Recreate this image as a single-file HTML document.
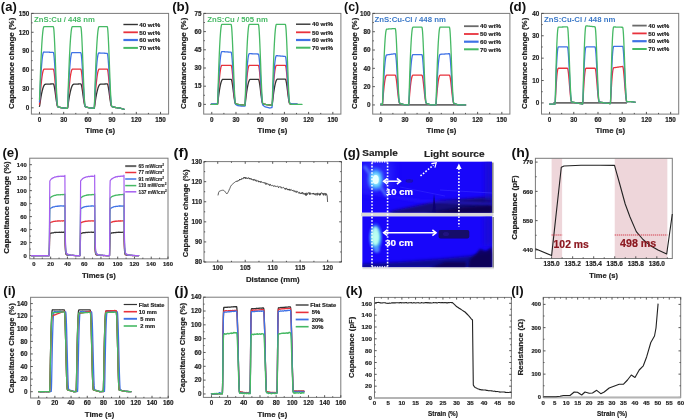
<!DOCTYPE html>
<html><head><meta charset="utf-8"><style>
html,body{margin:0;padding:0;background:#fff;width:685px;height:420px;overflow:hidden}
text{font-family:"Liberation Sans", sans-serif}
</style></head><body>
<svg width="685" height="420" viewBox="0 0 685 420" style="position:absolute;left:0;top:0;will-change:transform;filter:blur(0.4px);font-family:&quot;Liberation Sans&quot;, sans-serif">
<rect width="685" height="420" fill="#fff"/>
<rect x="31.40" y="13.40" width="137.20" height="100.70" fill="none" stroke="#7a7a7a" stroke-width="1"/>
<path d="M39.47 114.10v-2.2M63.68 114.10v-2.2M87.89 114.10v-2.2M112.11 114.10v-2.2M136.32 114.10v-2.2M160.53 114.10v-2.2M51.58 114.10v-1.2M75.79 114.10v-1.2M100.00 114.10v-1.2M124.21 114.10v-1.2M148.42 114.10v-1.2M31.40 107.81h2.2M31.40 88.92h2.2M31.40 70.04h2.2M31.40 51.16h2.2M31.40 32.28h2.2M31.40 13.40h2.2M31.40 98.37h1.2M31.40 79.48h1.2M31.40 60.60h1.2M31.40 41.72h1.2M31.40 22.84h1.2" stroke="#444" stroke-width="0.9" fill="none"/>
<text x="39.47" y="121.60" font-size="6.3" text-anchor="middle" font-weight="bold" fill="#222" stroke="#222" stroke-width="0.18">0</text>
<text x="63.68" y="121.60" font-size="6.3" text-anchor="middle" font-weight="bold" fill="#222" stroke="#222" stroke-width="0.18">30</text>
<text x="87.89" y="121.60" font-size="6.3" text-anchor="middle" font-weight="bold" fill="#222" stroke="#222" stroke-width="0.18">60</text>
<text x="112.11" y="121.60" font-size="6.3" text-anchor="middle" font-weight="bold" fill="#222" stroke="#222" stroke-width="0.18">90</text>
<text x="136.32" y="121.60" font-size="6.3" text-anchor="middle" font-weight="bold" fill="#222" stroke="#222" stroke-width="0.18">120</text>
<text x="160.53" y="121.60" font-size="6.3" text-anchor="middle" font-weight="bold" fill="#222" stroke="#222" stroke-width="0.18">150</text>
<text x="29.20" y="110.07" font-size="6.3" text-anchor="end" font-weight="bold" fill="#222" stroke="#222" stroke-width="0.18">0</text>
<text x="29.20" y="91.19" font-size="6.3" text-anchor="end" font-weight="bold" fill="#222" stroke="#222" stroke-width="0.18">30</text>
<text x="29.20" y="72.31" font-size="6.3" text-anchor="end" font-weight="bold" fill="#222" stroke="#222" stroke-width="0.18">60</text>
<text x="29.20" y="53.43" font-size="6.3" text-anchor="end" font-weight="bold" fill="#222" stroke="#222" stroke-width="0.18">90</text>
<text x="29.20" y="34.55" font-size="6.3" text-anchor="end" font-weight="bold" fill="#222" stroke="#222" stroke-width="0.18">120</text>
<text x="29.20" y="15.67" font-size="6.3" text-anchor="end" font-weight="bold" fill="#222" stroke="#222" stroke-width="0.18">150</text>
<text x="0.85" y="11.20" font-size="13.1" text-anchor="start" font-weight="bold" fill="#111" stroke="#111" stroke-width="0" textLength="15.9" lengthAdjust="spacingAndGlyphs">(a)</text>
<text x="14.30" y="63.30" font-size="7.9" text-anchor="middle" font-weight="bold" fill="#222" stroke="#222" stroke-width="0.18" transform="rotate(-90 14.30 63.30)" textLength="91.2" lengthAdjust="spacingAndGlyphs">Capacitance change (%)</text>
<text x="100.20" y="133.40" font-size="7.8" text-anchor="middle" font-weight="bold" fill="#222" stroke="#222" stroke-width="0.18" textLength="29.8" lengthAdjust="spacingAndGlyphs">Time (s)</text>
<text x="34.10" y="21.70" font-size="7.7" text-anchor="start" font-weight="bold" fill="#46b964" stroke="#46b964" stroke-width="0" textLength="60.7" lengthAdjust="spacingAndGlyphs">ZnS:Cu / 448 nm</text>
<rect x="203.70" y="13.40" width="137.20" height="100.70" fill="none" stroke="#7a7a7a" stroke-width="1"/>
<path d="M211.77 114.10v-2.2M235.98 114.10v-2.2M260.19 114.10v-2.2M284.41 114.10v-2.2M308.62 114.10v-2.2M332.83 114.10v-2.2M223.88 114.10v-1.2M248.09 114.10v-1.2M272.30 114.10v-1.2M296.51 114.10v-1.2M320.72 114.10v-1.2M203.70 104.39h2.2M203.70 86.20h2.2M203.70 68.00h2.2M203.70 49.80h2.2M203.70 31.60h2.2M203.70 13.40h2.2M203.70 95.29h1.2M203.70 77.10h1.2M203.70 58.90h1.2M203.70 40.70h1.2M203.70 22.50h1.2" stroke="#444" stroke-width="0.9" fill="none"/>
<text x="211.77" y="121.60" font-size="6.3" text-anchor="middle" font-weight="bold" fill="#222" stroke="#222" stroke-width="0.18">0</text>
<text x="235.98" y="121.60" font-size="6.3" text-anchor="middle" font-weight="bold" fill="#222" stroke="#222" stroke-width="0.18">30</text>
<text x="260.19" y="121.60" font-size="6.3" text-anchor="middle" font-weight="bold" fill="#222" stroke="#222" stroke-width="0.18">60</text>
<text x="284.41" y="121.60" font-size="6.3" text-anchor="middle" font-weight="bold" fill="#222" stroke="#222" stroke-width="0.18">90</text>
<text x="308.62" y="121.60" font-size="6.3" text-anchor="middle" font-weight="bold" fill="#222" stroke="#222" stroke-width="0.18">120</text>
<text x="332.83" y="121.60" font-size="6.3" text-anchor="middle" font-weight="bold" fill="#222" stroke="#222" stroke-width="0.18">150</text>
<text x="201.50" y="106.66" font-size="6.3" text-anchor="end" font-weight="bold" fill="#222" stroke="#222" stroke-width="0.18">0</text>
<text x="201.50" y="88.46" font-size="6.3" text-anchor="end" font-weight="bold" fill="#222" stroke="#222" stroke-width="0.18">15</text>
<text x="201.50" y="70.26" font-size="6.3" text-anchor="end" font-weight="bold" fill="#222" stroke="#222" stroke-width="0.18">30</text>
<text x="201.50" y="52.07" font-size="6.3" text-anchor="end" font-weight="bold" fill="#222" stroke="#222" stroke-width="0.18">45</text>
<text x="201.50" y="33.87" font-size="6.3" text-anchor="end" font-weight="bold" fill="#222" stroke="#222" stroke-width="0.18">60</text>
<text x="201.50" y="15.67" font-size="6.3" text-anchor="end" font-weight="bold" fill="#222" stroke="#222" stroke-width="0.18">75</text>
<text x="172.15" y="11.20" font-size="13.1" text-anchor="start" font-weight="bold" fill="#111" stroke="#111" stroke-width="0" textLength="17.1" lengthAdjust="spacingAndGlyphs">(b)</text>
<text x="186.00" y="63.30" font-size="7.9" text-anchor="middle" font-weight="bold" fill="#222" stroke="#222" stroke-width="0.18" transform="rotate(-90 186.00 63.30)" textLength="91.2" lengthAdjust="spacingAndGlyphs">Capacitance change (%)</text>
<text x="272.50" y="133.40" font-size="7.8" text-anchor="middle" font-weight="bold" fill="#222" stroke="#222" stroke-width="0.18" textLength="29.8" lengthAdjust="spacingAndGlyphs">Time (s)</text>
<text x="207.20" y="21.70" font-size="7.7" text-anchor="start" font-weight="bold" fill="#46b964" stroke="#46b964" stroke-width="0" textLength="60.8" lengthAdjust="spacingAndGlyphs">ZnS:Cu / 505 nm</text>
<rect x="372.70" y="13.40" width="137.20" height="100.70" fill="none" stroke="#7a7a7a" stroke-width="1"/>
<path d="M380.77 114.10v-2.2M404.98 114.10v-2.2M429.19 114.10v-2.2M453.41 114.10v-2.2M477.62 114.10v-2.2M501.83 114.10v-2.2M392.88 114.10v-1.2M417.09 114.10v-1.2M441.30 114.10v-1.2M465.51 114.10v-1.2M489.72 114.10v-1.2M372.70 104.95h2.2M372.70 86.64h2.2M372.70 68.33h2.2M372.70 50.02h2.2M372.70 31.71h2.2M372.70 13.40h2.2M372.70 95.79h1.2M372.70 77.48h1.2M372.70 59.17h1.2M372.70 40.86h1.2M372.70 22.55h1.2" stroke="#444" stroke-width="0.9" fill="none"/>
<text x="380.77" y="121.60" font-size="6.3" text-anchor="middle" font-weight="bold" fill="#222" stroke="#222" stroke-width="0.18">0</text>
<text x="404.98" y="121.60" font-size="6.3" text-anchor="middle" font-weight="bold" fill="#222" stroke="#222" stroke-width="0.18">30</text>
<text x="429.19" y="121.60" font-size="6.3" text-anchor="middle" font-weight="bold" fill="#222" stroke="#222" stroke-width="0.18">60</text>
<text x="453.41" y="121.60" font-size="6.3" text-anchor="middle" font-weight="bold" fill="#222" stroke="#222" stroke-width="0.18">90</text>
<text x="477.62" y="121.60" font-size="6.3" text-anchor="middle" font-weight="bold" fill="#222" stroke="#222" stroke-width="0.18">120</text>
<text x="501.83" y="121.60" font-size="6.3" text-anchor="middle" font-weight="bold" fill="#222" stroke="#222" stroke-width="0.18">150</text>
<text x="370.50" y="107.21" font-size="6.3" text-anchor="end" font-weight="bold" fill="#222" stroke="#222" stroke-width="0.18">0</text>
<text x="370.50" y="88.90" font-size="6.3" text-anchor="end" font-weight="bold" fill="#222" stroke="#222" stroke-width="0.18">20</text>
<text x="370.50" y="70.60" font-size="6.3" text-anchor="end" font-weight="bold" fill="#222" stroke="#222" stroke-width="0.18">40</text>
<text x="370.50" y="52.29" font-size="6.3" text-anchor="end" font-weight="bold" fill="#222" stroke="#222" stroke-width="0.18">60</text>
<text x="370.50" y="33.98" font-size="6.3" text-anchor="end" font-weight="bold" fill="#222" stroke="#222" stroke-width="0.18">80</text>
<text x="370.50" y="15.67" font-size="6.3" text-anchor="end" font-weight="bold" fill="#222" stroke="#222" stroke-width="0.18">100</text>
<text x="344.05" y="11.20" font-size="13.1" text-anchor="start" font-weight="bold" fill="#111" stroke="#111" stroke-width="0" textLength="15.2" lengthAdjust="spacingAndGlyphs">(c)</text>
<text x="357.30" y="63.30" font-size="7.9" text-anchor="middle" font-weight="bold" fill="#222" stroke="#222" stroke-width="0.18" transform="rotate(-90 357.30 63.30)" textLength="91.2" lengthAdjust="spacingAndGlyphs">Capacitance change (%)</text>
<text x="441.50" y="133.40" font-size="7.8" text-anchor="middle" font-weight="bold" fill="#222" stroke="#222" stroke-width="0.18" textLength="29.8" lengthAdjust="spacingAndGlyphs">Time (s)</text>
<text x="374.40" y="21.70" font-size="7.7" text-anchor="start" font-weight="bold" fill="#3a78c8" stroke="#3a78c8" stroke-width="0" textLength="71.5" lengthAdjust="spacingAndGlyphs">ZnS:Cu-Cl / 448 nm</text>
<rect x="541.50" y="13.40" width="137.20" height="100.70" fill="none" stroke="#7a7a7a" stroke-width="1"/>
<path d="M549.57 114.10v-2.2M573.78 114.10v-2.2M597.99 114.10v-2.2M622.21 114.10v-2.2M646.42 114.10v-2.2M670.63 114.10v-2.2M561.68 114.10v-1.2M585.89 114.10v-1.2M610.10 114.10v-1.2M634.31 114.10v-1.2M658.52 114.10v-1.2M541.50 102.91h2.2M541.50 80.53h2.2M541.50 58.16h2.2M541.50 35.78h2.2M541.50 13.40h2.2M541.50 91.72h1.2M541.50 69.34h1.2M541.50 46.97h1.2M541.50 24.59h1.2" stroke="#444" stroke-width="0.9" fill="none"/>
<text x="549.57" y="121.60" font-size="6.3" text-anchor="middle" font-weight="bold" fill="#222" stroke="#222" stroke-width="0.18">0</text>
<text x="573.78" y="121.60" font-size="6.3" text-anchor="middle" font-weight="bold" fill="#222" stroke="#222" stroke-width="0.18">30</text>
<text x="597.99" y="121.60" font-size="6.3" text-anchor="middle" font-weight="bold" fill="#222" stroke="#222" stroke-width="0.18">60</text>
<text x="622.21" y="121.60" font-size="6.3" text-anchor="middle" font-weight="bold" fill="#222" stroke="#222" stroke-width="0.18">90</text>
<text x="646.42" y="121.60" font-size="6.3" text-anchor="middle" font-weight="bold" fill="#222" stroke="#222" stroke-width="0.18">120</text>
<text x="670.63" y="121.60" font-size="6.3" text-anchor="middle" font-weight="bold" fill="#222" stroke="#222" stroke-width="0.18">150</text>
<text x="539.30" y="105.18" font-size="6.3" text-anchor="end" font-weight="bold" fill="#222" stroke="#222" stroke-width="0.18">0</text>
<text x="539.30" y="82.80" font-size="6.3" text-anchor="end" font-weight="bold" fill="#222" stroke="#222" stroke-width="0.18">10</text>
<text x="539.30" y="60.42" font-size="6.3" text-anchor="end" font-weight="bold" fill="#222" stroke="#222" stroke-width="0.18">20</text>
<text x="539.30" y="38.05" font-size="6.3" text-anchor="end" font-weight="bold" fill="#222" stroke="#222" stroke-width="0.18">30</text>
<text x="539.30" y="15.67" font-size="6.3" text-anchor="end" font-weight="bold" fill="#222" stroke="#222" stroke-width="0.18">40</text>
<text x="509.15" y="11.10" font-size="13.1" text-anchor="start" font-weight="bold" fill="#111" stroke="#111" stroke-width="0" textLength="17.1" lengthAdjust="spacingAndGlyphs">(d)</text>
<text x="527.00" y="63.30" font-size="7.9" text-anchor="middle" font-weight="bold" fill="#222" stroke="#222" stroke-width="0.18" transform="rotate(-90 527.00 63.30)" textLength="91.2" lengthAdjust="spacingAndGlyphs">Capacitance change (%)</text>
<text x="610.30" y="133.40" font-size="7.8" text-anchor="middle" font-weight="bold" fill="#222" stroke="#222" stroke-width="0.18" textLength="29.8" lengthAdjust="spacingAndGlyphs">Time (s)</text>
<text x="544.10" y="21.70" font-size="7.7" text-anchor="start" font-weight="bold" fill="#3a78c8" stroke="#3a78c8" stroke-width="0" textLength="71.2" lengthAdjust="spacingAndGlyphs">ZnS:Cu-Cl / 448 nm</text>
<path d="M39.47 106.41 L39.67 105.67 L39.87 104.19 L40.08 102.77 L40.28 101.39 L40.48 100.06 L40.68 98.78 L40.88 97.56 L41.08 96.39 L41.29 95.27 L41.49 94.21 L41.69 93.20 L41.89 92.25 L42.09 91.35 L42.30 90.51 L42.50 89.72 L42.70 88.98 L42.90 88.30 L43.10 87.67 L43.30 87.10 L43.51 86.57 L43.71 86.11 L43.91 85.69 L44.11 85.33 L44.31 85.02 L44.51 84.77 L44.72 84.56 L44.92 84.41 L45.12 84.31 L45.32 84.26 L45.52 84.24 L45.73 84.23 L45.93 84.22 L46.13 84.21 L46.33 84.20 L46.53 84.20 L46.73 84.19 L46.94 84.18 L47.14 84.17 L47.34 84.16 L47.54 84.15 L47.74 84.14 L47.94 84.13 L48.15 84.12 L48.35 84.11 L48.55 84.11 L48.75 84.10 L48.95 84.09 L49.16 84.08 L49.36 84.07 L49.56 84.06 L49.76 84.05 L49.96 84.04 L50.16 84.03 L50.37 84.02 L50.57 84.01 L50.77 84.01 L50.97 84.00 L51.17 83.99 L51.37 83.98 L51.58 83.97 L51.78 83.96 L51.98 83.95 L52.18 83.94 L52.38 83.93 L52.59 83.92 L52.79 83.92 L52.99 83.91 L53.19 83.90 L53.39 83.96 L53.59 84.17 L53.80 84.60 L54.00 85.26 L54.20 86.11 L54.40 87.13 L54.60 88.30 L54.80 89.59 L55.01 90.97 L55.21 92.42 L55.41 93.91 L55.61 95.42 L55.81 96.92 L56.02 98.38 L56.22 99.79 L56.42 101.14 L56.62 102.42 L56.82 103.60 L57.02 104.63 L57.23 105.48 L57.43 106.13 L57.63 106.55 L57.83 106.78 L58.03 106.89 L58.23 106.97 L58.44 107.04 L58.64 107.10 L58.84 107.14 L59.04 107.19 L59.24 107.23 L59.45 107.28 L59.65 107.32 L59.85 107.37 L60.05 107.41 L60.25 107.46 L60.45 107.50 L60.66 107.55 L60.86 107.59 L61.06 107.64 L61.26 107.67 L61.46 107.71 L61.66 107.73 L61.87 107.76 L62.07 107.79 L62.27 107.82 L62.47 107.84 L62.67 107.87 L62.88 107.90 L63.08 107.92 L63.28 107.95 L63.48 107.98 L63.68 108.00 L63.88 108.03 L64.09 108.06 L64.29 108.08 L64.49 108.11 L64.69 108.14 L64.89 108.17 L65.09 108.19 L65.30 108.22 L65.50 108.25 L65.70 108.27 L65.90 108.30 L66.10 108.33 L66.31 108.35 L66.51 108.38 L66.71 108.41 L66.91 108.42 L67.11 108.41 L67.31 108.38 L67.52 108.15 L67.72 107.40 L67.92 106.16 L68.12 104.65 L68.32 103.19 L68.52 101.79 L68.73 100.45 L68.93 99.16 L69.13 97.92 L69.33 96.74 L69.53 95.61 L69.74 94.54 L69.94 93.52 L70.14 92.55 L70.34 91.64 L70.54 90.78 L70.74 89.97 L70.95 89.22 L71.15 88.52 L71.35 87.88 L71.55 87.29 L71.75 86.75 L71.95 86.26 L72.16 85.83 L72.36 85.45 L72.56 85.12 L72.76 84.84 L72.96 84.62 L73.17 84.45 L73.37 84.33 L73.57 84.26 L73.77 84.23 L73.97 84.22 L74.17 84.21 L74.38 84.20 L74.58 84.19 L74.78 84.18 L74.98 84.17 L75.18 84.16 L75.38 84.15 L75.59 84.14 L75.79 84.13 L75.99 84.12 L76.19 84.11 L76.39 84.10 L76.60 84.09 L76.80 84.08 L77.00 84.07 L77.20 84.06 L77.40 84.05 L77.60 84.04 L77.81 84.03 L78.01 84.02 L78.21 84.01 L78.41 84.00 L78.61 83.99 L78.81 83.98 L79.02 83.97 L79.22 83.97 L79.42 83.96 L79.62 83.95 L79.82 83.94 L80.03 83.93 L80.23 83.92 L80.43 83.91 L80.63 83.90 L80.83 83.96 L81.03 84.17 L81.24 84.60 L81.44 85.26 L81.64 86.11 L81.84 87.14 L82.04 88.31 L82.24 89.60 L82.45 90.98 L82.65 92.44 L82.85 93.93 L83.05 95.44 L83.25 96.95 L83.46 98.41 L83.66 99.83 L83.86 101.15 L84.06 102.37 L84.26 103.49 L84.46 104.48 L84.67 105.33 L84.87 105.97 L85.07 106.39 L85.27 106.61 L85.47 106.72 L85.67 106.81 L85.88 106.89 L86.08 106.97 L86.28 107.04 L86.48 107.10 L86.68 107.16 L86.89 107.21 L87.09 107.26 L87.29 107.31 L87.49 107.37 L87.69 107.42 L87.89 107.47 L88.10 107.52 L88.30 107.58 L88.50 107.63 L88.70 107.67 L88.90 107.71 L89.10 107.73 L89.31 107.76 L89.51 107.79 L89.71 107.82 L89.91 107.84 L90.11 107.87 L90.32 107.90 L90.52 107.92 L90.72 107.95 L90.92 107.98 L91.12 108.00 L91.32 108.03 L91.53 108.06 L91.73 108.08 L91.93 108.11 L92.13 108.14 L92.33 108.17 L92.53 108.19 L92.74 108.22 L92.94 108.25 L93.14 108.27 L93.34 108.30 L93.54 108.33 L93.75 108.35 L93.95 108.38 L94.15 108.41 L94.35 107.90 L94.55 106.86 L94.75 105.32 L94.96 103.84 L95.16 102.41 L95.36 101.04 L95.56 99.72 L95.76 98.46 L95.96 97.25 L96.17 96.10 L96.37 95.00 L96.57 93.95 L96.77 92.96 L96.97 92.02 L97.18 91.14 L97.38 90.31 L97.58 89.53 L97.78 88.81 L97.98 88.14 L98.18 87.52 L98.39 86.96 L98.59 86.45 L98.79 86.00 L98.99 85.59 L99.19 85.24 L99.39 84.94 L99.60 84.70 L99.80 84.51 L100.00 84.37 L100.20 84.28 L100.40 84.23 L100.61 84.21 L100.81 84.20 L101.01 84.19 L101.21 84.19 L101.41 84.18 L101.61 84.17 L101.82 84.16 L102.02 84.15 L102.22 84.14 L102.42 84.13 L102.62 84.12 L102.82 84.11 L103.03 84.10 L103.23 84.09 L103.43 84.08 L103.63 84.07 L103.83 84.06 L104.04 84.05 L104.24 84.04 L104.44 84.03 L104.64 84.02 L104.84 84.01 L105.04 84.00 L105.25 83.99 L105.45 83.98 L105.65 83.97 L105.85 83.96 L106.05 83.95 L106.25 83.94 L106.46 83.93 L106.66 83.92 L106.86 83.91 L107.06 83.90 L107.26 83.94 L107.47 84.11 L107.67 84.50 L107.87 85.11 L108.07 85.93 L108.27 86.93 L108.47 88.08 L108.68 89.35 L108.88 90.72 L109.08 92.17 L109.28 93.66 L109.48 95.18 L109.68 96.69 L109.89 98.17 L110.09 99.60 L110.29 100.95 L110.49 102.20 L110.69 103.31 L110.90 104.27 L111.10 105.06 L111.30 105.67 L111.50 106.10 L111.70 106.35 L111.90 106.48 L112.11 106.56 L112.31 106.64 L112.51 106.72 L112.71 106.81 L112.91 106.89 L113.11 106.97 L113.32 107.04 L113.52 107.09 L113.72 107.13 L113.92 107.17 L114.12 107.21 L114.33 107.25 L114.53 107.29 L114.73 107.33 L114.93 107.37 L115.13 107.42 L115.33 107.46 L115.54 107.50 L115.74 107.54 L115.94 107.58 L116.14 107.61 L116.34 107.64 L116.54 107.67 L116.75 107.69 L116.95 107.72 L117.15 107.74 L117.35 107.77 L117.55 107.79 L117.76 107.82 L117.96 107.84 L118.16 107.87 L118.36 107.89 L118.56 107.92 L118.76 107.94 L118.97 107.97 L119.17 108.00 L119.37 108.02 L119.57 108.05 L119.77 108.07 L119.97 108.10 L120.18 108.13 L120.38 108.18 L120.58 108.25 L120.78 108.31 L120.98 108.37 L121.19 108.44 L121.39 108.50 L121.59 108.56 L121.79 108.62 L121.99 108.69 L122.19 108.75 L122.40 108.81 L122.60 108.88 L122.80 108.94 L123.00 109.00 L123.20 109.06 L123.40 109.13 L123.61 109.19 L123.81 109.25 L124.01 109.32 L124.21 109.35" fill="none" stroke="#333333" stroke-width="1.3" stroke-linejoin="round" stroke-linecap="round"/>
<path d="M39.47 104.31 L39.67 102.80 L39.87 99.84 L40.08 97.01 L40.28 94.31 L40.48 91.75 L40.68 89.32 L40.88 87.03 L41.08 84.88 L41.29 82.87 L41.49 81.00 L41.69 79.26 L41.89 77.66 L42.09 76.21 L42.30 74.89 L42.50 73.70 L42.70 72.66 L42.90 71.75 L43.10 70.97 L43.30 70.34 L43.51 69.84 L43.71 69.47 L43.91 69.24 L44.11 69.13 L44.31 69.10 L44.51 69.10 L44.72 69.10 L44.92 69.10 L45.12 69.10 L45.32 69.10 L45.52 69.10 L45.73 69.10 L45.93 69.10 L46.13 69.10 L46.33 69.10 L46.53 69.10 L46.73 69.10 L46.94 69.10 L47.14 69.10 L47.34 69.10 L47.54 69.10 L47.74 69.10 L47.94 69.10 L48.15 69.10 L48.35 69.10 L48.55 69.10 L48.75 69.10 L48.95 69.10 L49.16 69.10 L49.36 69.10 L49.56 69.10 L49.76 69.10 L49.96 69.10 L50.16 69.10 L50.37 69.10 L50.57 69.10 L50.77 69.10 L50.97 69.10 L51.17 69.10 L51.37 69.10 L51.58 69.10 L51.78 69.10 L51.98 69.10 L52.18 69.10 L52.38 69.10 L52.59 69.10 L52.79 69.10 L52.99 69.10 L53.19 69.10 L53.39 69.21 L53.59 69.56 L53.80 70.27 L54.00 71.36 L54.20 72.77 L54.40 74.46 L54.60 76.40 L54.80 78.54 L55.01 80.83 L55.21 83.24 L55.41 85.72 L55.61 88.23 L55.81 90.72 L56.02 93.17 L56.22 95.51 L56.42 97.75 L56.62 99.85 L56.82 101.76 L57.02 103.42 L57.23 104.78 L57.43 105.80 L57.63 106.44 L57.83 106.76 L58.03 106.89 L58.23 106.97 L58.44 107.04 L58.64 107.10 L58.84 107.14 L59.04 107.19 L59.24 107.23 L59.45 107.28 L59.65 107.32 L59.85 107.37 L60.05 107.41 L60.25 107.46 L60.45 107.50 L60.66 107.55 L60.86 107.59 L61.06 107.64 L61.26 107.67 L61.46 107.71 L61.66 107.73 L61.87 107.76 L62.07 107.79 L62.27 107.82 L62.47 107.84 L62.67 107.87 L62.88 107.90 L63.08 107.92 L63.28 107.95 L63.48 107.98 L63.68 108.00 L63.88 108.03 L64.09 108.06 L64.29 108.08 L64.49 108.11 L64.69 108.14 L64.89 108.17 L65.09 108.19 L65.30 108.22 L65.50 108.25 L65.70 108.27 L65.90 108.30 L66.10 108.33 L66.31 108.35 L66.51 108.38 L66.71 108.41 L66.91 108.42 L67.11 108.41 L67.31 108.38 L67.52 107.93 L67.72 106.42 L67.92 103.91 L68.12 100.88 L68.32 97.99 L68.52 95.24 L68.73 92.63 L68.93 90.16 L69.13 87.83 L69.33 85.64 L69.53 83.58 L69.74 81.66 L69.94 79.88 L70.14 78.24 L70.34 76.73 L70.54 75.37 L70.74 74.13 L70.95 73.04 L71.15 72.08 L71.35 71.26 L71.55 70.57 L71.75 70.02 L71.95 69.60 L72.16 69.32 L72.36 69.17 L72.56 69.11 L72.76 69.10 L72.96 69.10 L73.17 69.10 L73.37 69.10 L73.57 69.10 L73.77 69.10 L73.97 69.10 L74.17 69.10 L74.38 69.10 L74.58 69.10 L74.78 69.10 L74.98 69.10 L75.18 69.10 L75.38 69.10 L75.59 69.10 L75.79 69.10 L75.99 69.10 L76.19 69.10 L76.39 69.10 L76.60 69.10 L76.80 69.10 L77.00 69.10 L77.20 69.10 L77.40 69.10 L77.60 69.10 L77.81 69.10 L78.01 69.10 L78.21 69.10 L78.41 69.10 L78.61 69.10 L78.81 69.10 L79.02 69.10 L79.22 69.10 L79.42 69.10 L79.62 69.10 L79.82 69.10 L80.03 69.10 L80.23 69.10 L80.43 69.10 L80.63 69.10 L80.83 69.21 L81.03 69.56 L81.24 70.27 L81.44 71.36 L81.64 72.77 L81.84 74.47 L82.04 76.41 L82.24 78.54 L82.45 80.84 L82.65 83.25 L82.85 85.73 L83.05 88.25 L83.25 90.75 L83.46 93.20 L83.66 95.55 L83.86 97.76 L84.06 99.80 L84.26 101.65 L84.46 103.27 L84.67 104.62 L84.87 105.64 L85.07 106.28 L85.27 106.59 L85.47 106.72 L85.67 106.81 L85.88 106.89 L86.08 106.97 L86.28 107.04 L86.48 107.10 L86.68 107.16 L86.89 107.21 L87.09 107.26 L87.29 107.31 L87.49 107.37 L87.69 107.42 L87.89 107.47 L88.10 107.52 L88.30 107.58 L88.50 107.63 L88.70 107.67 L88.90 107.71 L89.10 107.73 L89.31 107.76 L89.51 107.79 L89.71 107.82 L89.91 107.84 L90.11 107.87 L90.32 107.90 L90.52 107.92 L90.72 107.95 L90.92 107.98 L91.12 108.00 L91.32 108.03 L91.53 108.06 L91.73 108.08 L91.93 108.11 L92.13 108.14 L92.33 108.17 L92.53 108.19 L92.74 108.22 L92.94 108.25 L93.14 108.27 L93.34 108.30 L93.54 108.33 L93.75 108.35 L93.95 108.38 L94.15 108.41 L94.35 107.35 L94.55 105.25 L94.75 102.16 L94.96 99.20 L95.16 96.39 L95.36 93.72 L95.56 91.18 L95.76 88.79 L95.96 86.54 L96.17 84.42 L96.37 82.44 L96.57 80.60 L96.77 78.90 L96.97 77.34 L97.18 75.91 L97.38 74.62 L97.58 73.47 L97.78 72.45 L97.98 71.57 L98.18 70.83 L98.39 70.22 L98.59 69.75 L98.79 69.41 L98.99 69.21 L99.19 69.12 L99.39 69.10 L99.60 69.10 L99.80 69.10 L100.00 69.10 L100.20 69.10 L100.40 69.10 L100.61 69.10 L100.81 69.10 L101.01 69.10 L101.21 69.10 L101.41 69.10 L101.61 69.10 L101.82 69.10 L102.02 69.10 L102.22 69.10 L102.42 69.10 L102.62 69.10 L102.82 69.10 L103.03 69.10 L103.23 69.10 L103.43 69.10 L103.63 69.10 L103.83 69.10 L104.04 69.10 L104.24 69.10 L104.44 69.10 L104.64 69.10 L104.84 69.10 L105.04 69.10 L105.25 69.10 L105.45 69.10 L105.65 69.10 L105.85 69.10 L106.05 69.10 L106.25 69.10 L106.46 69.10 L106.66 69.10 L106.86 69.10 L107.06 69.10 L107.26 69.18 L107.47 69.47 L107.67 70.10 L107.87 71.12 L108.07 72.47 L108.27 74.12 L108.47 76.02 L108.68 78.12 L108.88 80.39 L109.08 82.79 L109.28 85.27 L109.48 87.78 L109.68 90.30 L109.89 92.76 L110.09 95.14 L110.29 97.39 L110.49 99.47 L110.69 101.33 L110.90 102.95 L111.10 104.26 L111.30 105.28 L111.50 105.95 L111.70 106.32 L111.90 106.48 L112.11 106.56 L112.31 106.64 L112.51 106.72 L112.71 106.81 L112.91 106.89 L113.11 106.97 L113.32 107.04 L113.52 107.09 L113.72 107.13 L113.92 107.17 L114.12 107.21 L114.33 107.25 L114.53 107.29 L114.73 107.33 L114.93 107.37 L115.13 107.42 L115.33 107.46 L115.54 107.50 L115.74 107.54 L115.94 107.58 L116.14 107.61 L116.34 107.64 L116.54 107.67 L116.75 107.69 L116.95 107.72 L117.15 107.74 L117.35 107.77 L117.55 107.79 L117.76 107.82 L117.96 107.84 L118.16 107.87 L118.36 107.89 L118.56 107.92 L118.76 107.94 L118.97 107.97 L119.17 108.00 L119.37 108.02 L119.57 108.05 L119.77 108.07 L119.97 108.10 L120.18 108.13 L120.38 108.18 L120.58 108.25 L120.78 108.31 L120.98 108.37 L121.19 108.44 L121.39 108.50 L121.59 108.56 L121.79 108.62 L121.99 108.69 L122.19 108.75 L122.40 108.81 L122.60 108.88 L122.80 108.94 L123.00 109.00 L123.20 109.06 L123.40 109.13 L123.61 109.19 L123.81 109.25 L124.01 109.32 L124.21 109.35" fill="none" stroke="#e8323c" stroke-width="1.3" stroke-linejoin="round" stroke-linecap="round"/>
<path d="M39.47 101.97 L39.67 99.63 L39.87 95.02 L40.08 90.65 L40.28 86.51 L40.48 82.59 L40.68 78.92 L40.88 75.48 L41.08 72.27 L41.29 69.31 L41.49 66.58 L41.69 64.09 L41.89 61.83 L42.09 59.81 L42.30 58.03 L42.50 56.48 L42.70 55.16 L42.90 54.08 L43.10 53.23 L43.30 52.61 L43.51 52.22 L43.71 52.05 L43.91 52.00 L44.11 52.01 L44.31 52.02 L44.51 52.03 L44.72 52.03 L44.92 52.04 L45.12 52.05 L45.32 52.06 L45.52 52.07 L45.73 52.08 L45.93 52.09 L46.13 52.10 L46.33 52.11 L46.53 52.12 L46.73 52.12 L46.94 52.13 L47.14 52.14 L47.34 52.15 L47.54 52.16 L47.74 52.17 L47.94 52.18 L48.15 52.19 L48.35 52.20 L48.55 52.21 L48.75 52.22 L48.95 52.22 L49.16 52.23 L49.36 52.24 L49.56 52.25 L49.76 52.26 L49.96 52.27 L50.16 52.28 L50.37 52.29 L50.57 52.30 L50.77 52.31 L50.97 52.31 L51.17 52.32 L51.37 52.33 L51.58 52.34 L51.78 52.35 L51.98 52.36 L52.18 52.37 L52.38 52.38 L52.59 52.39 L52.79 52.40 L52.99 52.40 L53.19 52.42 L53.39 52.58 L53.59 53.09 L53.80 54.12 L54.00 55.68 L54.20 57.72 L54.40 60.17 L54.60 62.98 L54.80 66.07 L55.01 69.39 L55.21 72.88 L55.41 76.47 L55.61 80.11 L55.81 83.73 L56.02 87.28 L56.22 90.69 L56.42 93.93 L56.62 96.95 L56.82 99.69 L57.02 102.05 L57.23 103.99 L57.43 105.43 L57.63 106.31 L57.83 106.74 L58.03 106.89 L58.23 106.97 L58.44 107.04 L58.64 107.10 L58.84 107.14 L59.04 107.19 L59.24 107.23 L59.45 107.28 L59.65 107.32 L59.85 107.37 L60.05 107.41 L60.25 107.46 L60.45 107.50 L60.66 107.55 L60.86 107.59 L61.06 107.64 L61.26 107.67 L61.46 107.71 L61.66 107.73 L61.87 107.76 L62.07 107.79 L62.27 107.82 L62.47 107.84 L62.67 107.87 L62.88 107.90 L63.08 107.92 L63.28 107.95 L63.48 107.98 L63.68 108.00 L63.88 108.03 L64.09 108.06 L64.29 108.08 L64.49 108.11 L64.69 108.14 L64.89 108.17 L65.09 108.19 L65.30 108.22 L65.50 108.25 L65.70 108.27 L65.90 108.30 L66.10 108.33 L66.31 108.35 L66.51 108.38 L66.71 108.41 L66.91 108.42 L67.11 108.41 L67.31 108.38 L67.52 107.69 L67.72 105.37 L67.92 101.50 L68.12 96.84 L68.32 92.41 L68.52 88.23 L68.73 84.27 L68.93 80.55 L69.13 77.06 L69.33 73.81 L69.53 70.79 L69.74 68.01 L69.94 65.46 L70.14 63.13 L70.34 61.05 L70.54 59.19 L70.74 57.56 L70.95 56.17 L71.15 55.00 L71.35 54.07 L71.55 53.36 L71.75 52.89 L71.95 52.64 L72.16 52.54 L72.36 52.53 L72.56 52.54 L72.76 52.54 L72.96 52.55 L73.17 52.55 L73.37 52.56 L73.57 52.56 L73.77 52.57 L73.97 52.57 L74.17 52.58 L74.38 52.58 L74.58 52.59 L74.78 52.59 L74.98 52.60 L75.18 52.60 L75.38 52.61 L75.59 52.61 L75.79 52.62 L75.99 52.62 L76.19 52.63 L76.39 52.63 L76.60 52.64 L76.80 52.64 L77.00 52.65 L77.20 52.65 L77.40 52.65 L77.60 52.66 L77.81 52.66 L78.01 52.67 L78.21 52.67 L78.41 52.68 L78.61 52.68 L78.81 52.69 L79.02 52.69 L79.22 52.70 L79.42 52.70 L79.62 52.71 L79.82 52.71 L80.03 52.72 L80.23 52.72 L80.43 52.73 L80.63 52.74 L80.83 52.89 L81.03 53.40 L81.24 54.42 L81.44 55.98 L81.64 58.01 L81.84 60.45 L82.04 63.24 L82.24 66.32 L82.45 69.62 L82.65 73.09 L82.85 76.67 L83.05 80.29 L83.25 83.89 L83.46 87.42 L83.66 90.82 L83.86 94.01 L84.06 96.95 L84.26 99.61 L84.46 101.93 L84.67 103.85 L84.87 105.27 L85.07 106.15 L85.27 106.57 L85.47 106.72 L85.67 106.81 L85.88 106.89 L86.08 106.97 L86.28 107.04 L86.48 107.10 L86.68 107.16 L86.89 107.21 L87.09 107.26 L87.29 107.31 L87.49 107.37 L87.69 107.42 L87.89 107.47 L88.10 107.52 L88.30 107.58 L88.50 107.63 L88.70 107.67 L88.90 107.71 L89.10 107.73 L89.31 107.76 L89.51 107.79 L89.71 107.82 L89.91 107.84 L90.11 107.87 L90.32 107.90 L90.52 107.92 L90.72 107.95 L90.92 107.98 L91.12 108.00 L91.32 108.03 L91.53 108.06 L91.73 108.08 L91.93 108.11 L92.13 108.14 L92.33 108.17 L92.53 108.19 L92.74 108.22 L92.94 108.25 L93.14 108.27 L93.34 108.30 L93.54 108.33 L93.75 108.35 L93.95 108.38 L94.15 108.41 L94.35 106.77 L94.55 103.54 L94.75 98.81 L94.96 94.31 L95.16 90.04 L95.36 86.01 L95.56 82.22 L95.76 78.66 L95.96 75.33 L96.17 72.24 L96.37 69.38 L96.57 66.75 L96.77 64.35 L96.97 62.18 L97.18 60.25 L97.38 58.54 L97.58 57.07 L97.78 55.82 L97.98 54.81 L98.18 54.02 L98.39 53.46 L98.59 53.13 L98.79 52.99 L98.99 52.96 L99.19 52.97 L99.39 52.98 L99.60 52.99 L99.80 53.00 L100.00 53.01 L100.20 53.02 L100.40 53.03 L100.61 53.04 L100.81 53.05 L101.01 53.06 L101.21 53.07 L101.41 53.08 L101.61 53.09 L101.82 53.10 L102.02 53.11 L102.22 53.12 L102.42 53.13 L102.62 53.14 L102.82 53.15 L103.03 53.16 L103.23 53.17 L103.43 53.18 L103.63 53.19 L103.83 53.20 L104.04 53.21 L104.24 53.22 L104.44 53.23 L104.64 53.24 L104.84 53.25 L105.04 53.26 L105.25 53.27 L105.45 53.28 L105.65 53.29 L105.85 53.30 L106.05 53.31 L106.25 53.32 L106.46 53.33 L106.66 53.34 L106.86 53.35 L107.06 53.36 L107.26 53.47 L107.47 53.89 L107.67 54.79 L107.87 56.23 L108.07 58.15 L108.27 60.49 L108.47 63.18 L108.68 66.18 L108.88 69.41 L109.08 72.81 L109.28 76.34 L109.48 79.92 L109.68 83.49 L109.89 87.00 L110.09 90.39 L110.29 93.60 L110.49 96.57 L110.69 99.23 L110.90 101.53 L111.10 103.42 L111.30 104.86 L111.50 105.80 L111.70 106.29 L111.90 106.48 L112.11 106.56 L112.31 106.64 L112.51 106.72 L112.71 106.81 L112.91 106.89 L113.11 106.97 L113.32 107.04 L113.52 107.09 L113.72 107.13 L113.92 107.17 L114.12 107.21 L114.33 107.25 L114.53 107.29 L114.73 107.33 L114.93 107.37 L115.13 107.42 L115.33 107.46 L115.54 107.50 L115.74 107.54 L115.94 107.58 L116.14 107.61 L116.34 107.64 L116.54 107.67 L116.75 107.69 L116.95 107.72 L117.15 107.74 L117.35 107.77 L117.55 107.79 L117.76 107.82 L117.96 107.84 L118.16 107.87 L118.36 107.89 L118.56 107.92 L118.76 107.94 L118.97 107.97 L119.17 108.00 L119.37 108.02 L119.57 108.05 L119.77 108.07 L119.97 108.10 L120.18 108.13 L120.38 108.18 L120.58 108.25 L120.78 108.31 L120.98 108.37 L121.19 108.44 L121.39 108.50 L121.59 108.56 L121.79 108.62 L121.99 108.69 L122.19 108.75 L122.40 108.81 L122.60 108.88 L122.80 108.94 L123.00 109.00 L123.20 109.06 L123.40 109.13 L123.61 109.19 L123.81 109.25 L124.01 109.32 L124.21 109.35" fill="none" stroke="#3f72e6" stroke-width="1.3" stroke-linejoin="round" stroke-linecap="round"/>
<path d="M39.47 99.56 L39.67 96.33 L39.87 89.98 L40.08 83.93 L40.28 78.18 L40.48 72.73 L40.68 67.58 L40.88 62.73 L41.08 58.20 L41.29 53.97 L41.49 50.04 L41.69 46.43 L41.89 43.12 L42.09 40.11 L42.30 37.41 L42.50 35.01 L42.70 32.92 L42.90 31.13 L43.10 29.65 L43.30 28.47 L43.51 27.59 L43.71 27.01 L43.91 26.72 L44.11 26.62 L44.31 26.62 L44.51 26.62 L44.72 26.62 L44.92 26.62 L45.12 26.62 L45.32 26.62 L45.52 26.62 L45.73 26.62 L45.93 26.62 L46.13 26.62 L46.33 26.62 L46.53 26.62 L46.73 26.62 L46.94 26.62 L47.14 26.62 L47.34 26.62 L47.54 26.62 L47.74 26.62 L47.94 26.62 L48.15 26.62 L48.35 26.62 L48.55 26.62 L48.75 26.62 L48.95 26.62 L49.16 26.62 L49.36 26.62 L49.56 26.62 L49.76 26.62 L49.96 26.62 L50.16 26.62 L50.37 26.62 L50.57 26.62 L50.77 26.62 L50.97 26.62 L51.17 26.62 L51.37 26.62 L51.58 26.62 L51.78 26.62 L51.98 26.62 L52.18 26.62 L52.38 26.62 L52.59 26.62 L52.79 26.62 L52.99 26.62 L53.19 26.62 L53.39 26.85 L53.59 27.60 L53.80 29.12 L54.00 31.43 L54.20 34.45 L54.40 38.07 L54.60 42.21 L54.80 46.79 L55.01 51.70 L55.21 56.86 L55.41 62.17 L55.61 67.56 L55.81 72.92 L56.02 78.18 L56.22 83.23 L56.42 88.02 L56.62 92.46 L56.82 96.48 L57.02 99.94 L57.23 102.76 L57.43 104.85 L57.63 106.11 L57.83 106.70 L58.03 106.89 L58.23 106.97 L58.44 107.04 L58.64 107.10 L58.84 107.14 L59.04 107.19 L59.24 107.23 L59.45 107.28 L59.65 107.32 L59.85 107.37 L60.05 107.41 L60.25 107.46 L60.45 107.50 L60.66 107.55 L60.86 107.59 L61.06 107.64 L61.26 107.67 L61.46 107.71 L61.66 107.73 L61.87 107.76 L62.07 107.79 L62.27 107.82 L62.47 107.84 L62.67 107.87 L62.88 107.90 L63.08 107.92 L63.28 107.95 L63.48 107.98 L63.68 108.00 L63.88 108.03 L64.09 108.06 L64.29 108.08 L64.49 108.11 L64.69 108.14 L64.89 108.17 L65.09 108.19 L65.30 108.22 L65.50 108.25 L65.70 108.27 L65.90 108.30 L66.10 108.33 L66.31 108.35 L66.51 108.38 L66.71 108.41 L66.91 108.42 L67.11 108.41 L67.31 108.38 L67.52 107.43 L67.72 104.21 L67.92 98.85 L68.12 92.36 L68.32 86.18 L68.52 80.31 L68.73 74.75 L68.93 69.49 L69.13 64.54 L69.33 59.89 L69.53 55.55 L69.74 51.52 L69.94 47.79 L70.14 44.36 L70.34 41.24 L70.54 38.42 L70.74 35.91 L70.95 33.70 L71.15 31.80 L71.35 30.20 L71.55 28.90 L71.75 27.90 L71.95 27.21 L72.16 26.81 L72.36 26.65 L72.56 26.62 L72.76 26.62 L72.96 26.62 L73.17 26.62 L73.37 26.62 L73.57 26.62 L73.77 26.62 L73.97 26.62 L74.17 26.62 L74.38 26.62 L74.58 26.62 L74.78 26.62 L74.98 26.62 L75.18 26.62 L75.38 26.62 L75.59 26.62 L75.79 26.62 L75.99 26.62 L76.19 26.62 L76.39 26.62 L76.60 26.62 L76.80 26.62 L77.00 26.62 L77.20 26.62 L77.40 26.62 L77.60 26.62 L77.81 26.62 L78.01 26.62 L78.21 26.62 L78.41 26.62 L78.61 26.62 L78.81 26.62 L79.02 26.62 L79.22 26.62 L79.42 26.62 L79.62 26.62 L79.82 26.62 L80.03 26.62 L80.23 26.62 L80.43 26.62 L80.63 26.62 L80.83 26.85 L81.03 27.60 L81.24 29.12 L81.44 31.43 L81.64 34.45 L81.84 38.07 L82.04 42.22 L82.24 46.79 L82.45 51.71 L82.65 56.87 L82.85 62.19 L83.05 67.58 L83.25 72.95 L83.46 78.21 L83.66 83.26 L83.86 88.03 L84.06 92.41 L84.26 96.36 L84.46 99.79 L84.67 102.60 L84.87 104.69 L85.07 105.95 L85.27 106.54 L85.47 106.72 L85.67 106.81 L85.88 106.89 L86.08 106.97 L86.28 107.04 L86.48 107.10 L86.68 107.16 L86.89 107.21 L87.09 107.26 L87.29 107.31 L87.49 107.37 L87.69 107.42 L87.89 107.47 L88.10 107.52 L88.30 107.58 L88.50 107.63 L88.70 107.67 L88.90 107.71 L89.10 107.73 L89.31 107.76 L89.51 107.79 L89.71 107.82 L89.91 107.84 L90.11 107.87 L90.32 107.90 L90.52 107.92 L90.72 107.95 L90.92 107.98 L91.12 108.00 L91.32 108.03 L91.53 108.06 L91.73 108.08 L91.93 108.11 L92.13 108.14 L92.33 108.17 L92.53 108.19 L92.74 108.22 L92.94 108.25 L93.14 108.27 L93.34 108.30 L93.54 108.33 L93.75 108.35 L93.95 108.38 L94.15 108.41 L94.35 106.12 L94.55 101.61 L94.75 95.00 L94.96 88.69 L95.16 82.69 L95.36 76.99 L95.56 71.60 L95.76 66.52 L95.96 61.75 L96.17 57.28 L96.37 53.12 L96.57 49.26 L96.77 45.71 L96.97 42.47 L97.18 39.53 L97.38 36.89 L97.58 34.56 L97.78 32.53 L97.98 30.80 L98.18 29.38 L98.39 28.26 L98.59 27.45 L98.79 26.93 L98.99 26.69 L99.19 26.62 L99.39 26.62 L99.60 26.62 L99.80 26.62 L100.00 26.62 L100.20 26.62 L100.40 26.62 L100.61 26.62 L100.81 26.62 L101.01 26.62 L101.21 26.62 L101.41 26.62 L101.61 26.62 L101.82 26.62 L102.02 26.62 L102.22 26.62 L102.42 26.62 L102.62 26.62 L102.82 26.62 L103.03 26.62 L103.23 26.62 L103.43 26.62 L103.63 26.62 L103.83 26.62 L104.04 26.62 L104.24 26.62 L104.44 26.62 L104.64 26.62 L104.84 26.62 L105.04 26.62 L105.25 26.62 L105.45 26.62 L105.65 26.62 L105.85 26.62 L106.05 26.62 L106.25 26.62 L106.46 26.62 L106.66 26.62 L106.86 26.62 L107.06 26.62 L107.26 26.78 L107.47 27.40 L107.67 28.75 L107.87 30.92 L108.07 33.80 L108.27 37.32 L108.47 41.37 L108.68 45.87 L108.88 50.73 L109.08 55.85 L109.28 61.15 L109.48 66.54 L109.68 71.93 L109.89 77.22 L110.09 82.33 L110.29 87.16 L110.49 91.63 L110.69 95.65 L110.90 99.13 L111.10 101.98 L111.30 104.14 L111.50 105.54 L111.70 106.24 L111.90 106.48 L112.11 106.56 L112.31 106.64 L112.51 106.72 L112.71 106.81 L112.91 106.89 L113.11 106.97 L113.32 107.04 L113.52 107.09 L113.72 107.13 L113.92 107.17 L114.12 107.21 L114.33 107.25 L114.53 107.29 L114.73 107.33 L114.93 107.37 L115.13 107.42 L115.33 107.46 L115.54 107.50 L115.74 107.54 L115.94 107.58 L116.14 107.61 L116.34 107.64 L116.54 107.67 L116.75 107.69 L116.95 107.72 L117.15 107.74 L117.35 107.77 L117.55 107.79 L117.76 107.82 L117.96 107.84 L118.16 107.87 L118.36 107.89 L118.56 107.92 L118.76 107.94 L118.97 107.97 L119.17 108.00 L119.37 108.02 L119.57 108.05 L119.77 108.07 L119.97 108.10 L120.18 108.13 L120.38 108.18 L120.58 108.25 L120.78 108.31 L120.98 108.37 L121.19 108.44 L121.39 108.50 L121.59 108.56 L121.79 108.62 L121.99 108.69 L122.19 108.75 L122.40 108.81 L122.60 108.88 L122.80 108.94 L123.00 109.00 L123.20 109.06 L123.40 109.13 L123.61 109.19 L123.81 109.25 L124.01 109.32 L124.21 109.35" fill="none" stroke="#46b964" stroke-width="1.3" stroke-linejoin="round" stroke-linecap="round"/>
<path d="M123.40 24.50H137.90" stroke="#333333" stroke-width="1.4"/>
<text x="139.20" y="26.73" font-size="6.2" text-anchor="start" font-weight="bold" fill="#222" stroke="#222" stroke-width="0.18">40 wt%</text>
<path d="M123.40 32.30H137.90" stroke="#e8323c" stroke-width="1.8"/>
<text x="139.20" y="34.53" font-size="6.2" text-anchor="start" font-weight="bold" fill="#222" stroke="#222" stroke-width="0.18">50 wt%</text>
<path d="M123.40 40.00H137.90" stroke="#3f72e6" stroke-width="2.2"/>
<text x="139.20" y="42.23" font-size="6.2" text-anchor="start" font-weight="bold" fill="#222" stroke="#222" stroke-width="0.18">60 wt%</text>
<path d="M123.40 47.90H137.90" stroke="#46b964" stroke-width="2.0"/>
<text x="139.20" y="50.13" font-size="6.2" text-anchor="start" font-weight="bold" fill="#222" stroke="#222" stroke-width="0.18">70 wt%</text>
<path d="M211.21 104.39 L211.41 104.39 L211.61 104.39 L211.81 104.39 L212.01 104.39 L212.21 104.39 L212.42 104.39 L212.62 104.39 L212.82 104.39 L213.02 104.39 L213.22 104.39 L213.43 104.39 L213.63 104.39 L213.83 104.39 L214.03 104.39 L214.23 104.39 L214.43 104.39 L214.64 104.39 L214.84 104.39 L215.04 104.39 L215.24 104.39 L215.44 104.39 L215.64 104.39 L215.85 104.39 L216.05 104.39 L216.25 104.39 L216.45 104.39 L216.65 104.39 L216.86 104.38 L217.06 104.38 L217.26 104.37 L217.46 104.36 L217.66 103.72 L217.86 102.48 L218.07 100.66 L218.27 98.91 L218.47 97.23 L218.67 95.64 L218.87 94.11 L219.07 92.67 L219.28 91.29 L219.48 89.99 L219.68 88.77 L219.88 87.62 L220.08 86.55 L220.29 85.55 L220.49 84.62 L220.69 83.77 L220.89 83.00 L221.09 82.29 L221.29 81.67 L221.50 81.11 L221.70 80.63 L221.90 80.23 L222.10 79.89 L222.30 79.64 L222.50 79.45 L222.71 79.34 L222.91 79.29 L223.11 79.28 L223.31 79.28 L223.51 79.28 L223.72 79.28 L223.92 79.28 L224.12 79.28 L224.32 79.28 L224.52 79.28 L224.72 79.28 L224.93 79.28 L225.13 79.28 L225.33 79.28 L225.53 79.28 L225.73 79.28 L225.93 79.28 L226.14 79.28 L226.34 79.28 L226.54 79.28 L226.74 79.28 L226.94 79.28 L227.15 79.28 L227.35 79.28 L227.55 79.28 L227.75 79.28 L227.95 79.28 L228.15 79.28 L228.36 79.28 L228.56 79.28 L228.76 79.28 L228.96 79.28 L229.16 79.28 L229.36 79.28 L229.57 79.28 L229.77 79.28 L229.97 79.28 L230.17 79.28 L230.37 79.28 L230.58 79.28 L230.78 79.28 L230.98 79.28 L231.18 79.35 L231.38 79.58 L231.58 80.05 L231.79 80.76 L231.99 81.68 L232.19 82.79 L232.39 84.07 L232.59 85.47 L232.79 86.98 L233.00 88.56 L233.20 90.19 L233.40 91.85 L233.60 93.49 L233.80 95.11 L234.01 96.66 L234.21 98.12 L234.41 99.46 L234.61 100.67 L234.81 101.70 L235.01 102.53 L235.22 103.13 L235.42 103.49 L235.62 103.67 L235.82 103.75 L236.02 103.83 L236.22 103.90 L236.43 103.97 L236.63 104.04 L236.83 104.12 L237.03 104.19 L237.23 104.26 L237.44 104.33 L237.64 104.39 L237.84 104.42 L238.04 104.45 L238.24 104.47 L238.44 104.50 L238.65 104.53 L238.85 104.55 L239.05 104.58 L239.25 104.60 L239.45 104.63 L239.65 104.65 L239.86 104.68 L240.06 104.70 L240.26 104.73 L240.46 104.75 L240.66 104.78 L240.87 104.80 L241.07 104.83 L241.27 104.85 L241.47 104.88 L241.67 104.90 L241.87 104.93 L242.08 104.96 L242.28 104.98 L242.48 105.01 L242.68 105.04 L242.88 105.07 L243.08 105.10 L243.29 105.13 L243.49 105.16 L243.69 105.19 L243.89 105.22 L244.09 105.25 L244.30 105.28 L244.50 105.31 L244.70 105.34 L244.90 105.35 L245.10 104.69 L245.30 103.38 L245.51 101.48 L245.71 99.66 L245.91 97.91 L246.11 96.24 L246.31 94.66 L246.51 93.15 L246.72 91.72 L246.92 90.37 L247.12 89.10 L247.32 87.91 L247.52 86.79 L247.73 85.76 L247.93 84.80 L248.13 83.92 L248.33 83.12 L248.53 82.39 L248.73 81.74 L248.94 81.17 L249.14 80.67 L249.34 80.25 L249.54 79.91 L249.74 79.65 L249.94 79.46 L250.15 79.34 L250.35 79.29 L250.55 79.28 L250.75 79.28 L250.95 79.28 L251.16 79.28 L251.36 79.28 L251.56 79.28 L251.76 79.28 L251.96 79.28 L252.16 79.28 L252.37 79.28 L252.57 79.28 L252.77 79.28 L252.97 79.28 L253.17 79.28 L253.37 79.28 L253.58 79.28 L253.78 79.28 L253.98 79.28 L254.18 79.28 L254.38 79.28 L254.59 79.28 L254.79 79.28 L254.99 79.28 L255.19 79.28 L255.39 79.28 L255.59 79.28 L255.80 79.28 L256.00 79.28 L256.20 79.28 L256.40 79.28 L256.60 79.28 L256.80 79.28 L257.01 79.28 L257.21 79.28 L257.41 79.28 L257.61 79.28 L257.81 79.28 L258.02 79.28 L258.22 79.28 L258.42 79.33 L258.62 79.52 L258.82 79.94 L259.02 80.61 L259.23 81.50 L259.43 82.58 L259.63 83.83 L259.83 85.22 L260.03 86.71 L260.23 88.28 L260.44 89.91 L260.64 91.57 L260.84 93.22 L261.04 94.84 L261.24 96.40 L261.45 97.88 L261.65 99.24 L261.85 100.47 L262.05 101.53 L262.25 102.39 L262.45 103.04 L262.66 103.46 L262.86 103.69 L263.06 103.80 L263.26 103.86 L263.46 103.92 L263.66 103.98 L263.87 104.04 L264.07 104.10 L264.27 104.16 L264.47 104.22 L264.67 104.28 L264.88 104.34 L265.08 104.39 L265.28 104.42 L265.48 104.45 L265.68 104.47 L265.88 104.50 L266.09 104.53 L266.29 104.55 L266.49 104.58 L266.69 104.60 L266.89 104.63 L267.09 104.65 L267.30 104.68 L267.50 104.70 L267.70 104.73 L267.90 104.75 L268.10 104.78 L268.31 104.80 L268.51 104.83 L268.71 104.85 L268.91 104.88 L269.11 104.90 L269.31 104.93 L269.52 104.96 L269.72 104.98 L269.92 105.01 L270.12 105.04 L270.32 105.07 L270.52 105.10 L270.73 105.13 L270.93 105.16 L271.13 105.19 L271.33 105.22 L271.53 105.25 L271.74 105.28 L271.94 105.31 L272.14 104.94 L272.34 103.91 L272.54 102.24 L272.74 100.38 L272.95 98.59 L273.15 96.88 L273.35 95.25 L273.55 93.71 L273.75 92.24 L273.95 90.85 L274.16 89.54 L274.36 88.31 L274.56 87.16 L274.76 86.08 L274.96 85.09 L275.17 84.17 L275.37 83.33 L275.57 82.57 L275.77 81.88 L275.97 81.28 L276.17 80.75 L276.38 80.30 L276.58 79.92 L276.78 79.62 L276.98 79.40 L277.18 79.26 L277.38 79.19 L277.59 79.16 L277.79 79.16 L277.99 79.16 L278.19 79.16 L278.39 79.16 L278.60 79.16 L278.80 79.16 L279.00 79.16 L279.20 79.16 L279.40 79.16 L279.60 79.16 L279.81 79.16 L280.01 79.16 L280.21 79.16 L280.41 79.16 L280.61 79.16 L280.81 79.16 L281.02 79.16 L281.22 79.16 L281.42 79.16 L281.62 79.16 L281.82 79.16 L282.03 79.16 L282.23 79.16 L282.43 79.16 L282.63 79.16 L282.83 79.16 L283.03 79.16 L283.24 79.16 L283.44 79.16 L283.64 79.16 L283.84 79.16 L284.04 79.16 L284.24 79.16 L284.45 79.16 L284.65 79.16 L284.85 79.16 L285.05 79.16 L285.25 79.17 L285.46 79.26 L285.66 79.54 L285.86 80.06 L286.06 80.83 L286.26 81.80 L286.46 82.96 L286.67 84.28 L286.87 85.72 L287.07 87.25 L287.27 88.86 L287.47 90.51 L287.67 92.18 L287.88 93.83 L288.08 95.44 L288.28 96.98 L288.48 98.42 L288.68 99.74 L288.89 100.91 L289.09 101.89 L289.29 102.68 L289.49 103.23 L289.69 103.56 L289.89 103.74 L290.10 103.83 L290.30 103.90 L290.50 103.97 L290.70 104.04 L290.90 104.12 L291.10 104.19 L291.31 104.26 L291.51 104.33 L291.71 104.37 L291.91 104.39 L292.11 104.39 L292.32 104.39 L292.52 104.39 L292.72 104.39 L292.92 104.39 L293.12 104.39 L293.32 104.39 L293.53 104.39 L293.73 104.39 L293.93 104.39 L294.13 104.39 L294.33 104.39 L294.53 104.39 L294.74 104.39 L294.94 104.39 L295.14 104.39 L295.34 104.39 L295.54 104.39 L295.75 104.39 L295.95 104.39 L296.15 104.39 L296.35 104.39 L296.55 104.39 L296.75 104.39 L296.96 104.39 L297.16 104.39" fill="none" stroke="#333333" stroke-width="1.3" stroke-linejoin="round" stroke-linecap="round"/>
<path d="M211.21 104.39 L211.41 104.39 L211.61 104.39 L211.81 104.39 L212.01 104.39 L212.21 104.39 L212.42 104.39 L212.62 104.39 L212.82 104.39 L213.02 104.39 L213.22 104.39 L213.43 104.39 L213.63 104.39 L213.83 104.39 L214.03 104.39 L214.23 104.39 L214.43 104.39 L214.64 104.39 L214.84 104.39 L215.04 104.39 L215.24 104.39 L215.44 104.39 L215.64 104.39 L215.85 104.39 L216.05 104.39 L216.25 104.39 L216.45 104.39 L216.65 104.39 L216.86 104.38 L217.06 104.38 L217.26 104.37 L217.46 104.36 L217.66 103.13 L217.86 100.74 L218.07 97.26 L218.27 93.95 L218.47 90.83 L218.67 87.88 L218.87 85.12 L219.07 82.54 L219.28 80.14 L219.48 77.93 L219.68 75.89 L219.88 74.03 L220.08 72.36 L220.29 70.86 L220.49 69.55 L220.69 68.41 L220.89 67.46 L221.09 66.69 L221.29 66.09 L221.50 65.68 L221.70 65.44 L221.90 65.35 L222.10 65.33 L222.30 65.33 L222.50 65.33 L222.71 65.33 L222.91 65.33 L223.11 65.33 L223.31 65.33 L223.51 65.33 L223.72 65.33 L223.92 65.33 L224.12 65.33 L224.32 65.33 L224.52 65.33 L224.72 65.33 L224.93 65.33 L225.13 65.33 L225.33 65.33 L225.53 65.33 L225.73 65.33 L225.93 65.33 L226.14 65.33 L226.34 65.33 L226.54 65.33 L226.74 65.33 L226.94 65.33 L227.15 65.33 L227.35 65.33 L227.55 65.33 L227.75 65.33 L227.95 65.33 L228.15 65.33 L228.36 65.33 L228.56 65.33 L228.76 65.33 L228.96 65.33 L229.16 65.33 L229.36 65.33 L229.57 65.33 L229.77 65.33 L229.97 65.33 L230.17 65.33 L230.37 65.33 L230.58 65.33 L230.78 65.33 L230.98 65.33 L231.18 65.44 L231.38 65.80 L231.58 66.53 L231.79 67.65 L231.99 69.10 L232.19 70.84 L232.39 72.84 L232.59 75.04 L232.79 77.41 L233.00 79.90 L233.20 82.46 L233.40 85.06 L233.60 87.65 L233.80 90.18 L234.01 92.62 L234.21 94.92 L234.41 97.04 L234.61 98.93 L234.81 100.55 L235.01 101.86 L235.22 102.82 L235.42 103.39 L235.62 103.65 L235.82 103.75 L236.02 103.83 L236.22 103.90 L236.43 103.97 L236.63 104.04 L236.83 104.12 L237.03 104.19 L237.23 104.26 L237.44 104.33 L237.64 104.39 L237.84 104.42 L238.04 104.45 L238.24 104.47 L238.44 104.50 L238.65 104.53 L238.85 104.55 L239.05 104.58 L239.25 104.60 L239.45 104.63 L239.65 104.65 L239.86 104.68 L240.06 104.70 L240.26 104.73 L240.46 104.75 L240.66 104.78 L240.87 104.80 L241.07 104.83 L241.27 104.85 L241.47 104.88 L241.67 104.90 L241.87 104.93 L242.08 104.96 L242.28 104.98 L242.48 105.01 L242.68 105.04 L242.88 105.07 L243.08 105.10 L243.29 105.13 L243.49 105.16 L243.69 105.19 L243.89 105.22 L244.09 105.25 L244.30 105.28 L244.50 105.31 L244.70 105.34 L244.90 105.35 L245.10 104.09 L245.30 101.63 L245.51 98.05 L245.71 94.65 L245.91 91.44 L246.11 88.42 L246.31 85.59 L246.51 82.94 L246.72 80.48 L246.92 78.21 L247.12 76.13 L247.32 74.22 L247.52 72.51 L247.73 70.98 L247.93 69.64 L248.13 68.48 L248.33 67.50 L248.53 66.71 L248.73 66.11 L248.94 65.69 L249.14 65.45 L249.34 65.35 L249.54 65.33 L249.74 65.33 L249.94 65.33 L250.15 65.33 L250.35 65.33 L250.55 65.33 L250.75 65.33 L250.95 65.33 L251.16 65.33 L251.36 65.33 L251.56 65.33 L251.76 65.33 L251.96 65.33 L252.16 65.33 L252.37 65.33 L252.57 65.33 L252.77 65.33 L252.97 65.33 L253.17 65.33 L253.37 65.33 L253.58 65.33 L253.78 65.33 L253.98 65.33 L254.18 65.33 L254.38 65.33 L254.59 65.33 L254.79 65.33 L254.99 65.33 L255.19 65.33 L255.39 65.33 L255.59 65.33 L255.80 65.33 L256.00 65.33 L256.20 65.33 L256.40 65.33 L256.60 65.33 L256.80 65.33 L257.01 65.33 L257.21 65.33 L257.41 65.33 L257.61 65.33 L257.81 65.33 L258.02 65.33 L258.22 65.33 L258.42 65.40 L258.62 65.71 L258.82 66.36 L259.02 67.40 L259.23 68.80 L259.43 70.49 L259.63 72.45 L259.83 74.62 L260.03 76.97 L260.23 79.44 L260.44 81.99 L260.64 84.59 L260.84 87.18 L261.04 89.73 L261.24 92.19 L261.45 94.52 L261.65 96.67 L261.85 98.60 L262.05 100.27 L262.25 101.64 L262.45 102.66 L262.66 103.32 L262.86 103.66 L263.06 103.80 L263.26 103.86 L263.46 103.92 L263.66 103.98 L263.87 104.04 L264.07 104.10 L264.27 104.16 L264.47 104.22 L264.67 104.28 L264.88 104.34 L265.08 104.39 L265.28 104.42 L265.48 104.45 L265.68 104.47 L265.88 104.50 L266.09 104.53 L266.29 104.55 L266.49 104.58 L266.69 104.60 L266.89 104.63 L267.09 104.65 L267.30 104.68 L267.50 104.70 L267.70 104.73 L267.90 104.75 L268.10 104.78 L268.31 104.80 L268.51 104.83 L268.71 104.85 L268.91 104.88 L269.11 104.90 L269.31 104.93 L269.52 104.96 L269.72 104.98 L269.92 105.01 L270.12 105.04 L270.32 105.07 L270.52 105.10 L270.73 105.13 L270.93 105.16 L271.13 105.19 L271.33 105.22 L271.53 105.25 L271.74 105.28 L271.94 105.31 L272.14 104.58 L272.34 102.62 L272.54 99.48 L272.74 96.01 L272.95 92.72 L273.15 89.63 L273.35 86.72 L273.55 83.99 L273.75 81.46 L273.95 79.11 L274.16 76.95 L274.36 74.97 L274.56 73.18 L274.76 71.57 L274.96 70.16 L275.17 68.92 L275.37 67.87 L275.57 67.01 L275.77 66.33 L275.97 65.83 L276.17 65.52 L276.38 65.37 L276.58 65.33 L276.78 65.33 L276.98 65.33 L277.18 65.33 L277.38 65.33 L277.59 65.33 L277.79 65.33 L277.99 65.33 L278.19 65.33 L278.39 65.33 L278.60 65.33 L278.80 65.33 L279.00 65.33 L279.20 65.33 L279.40 65.33 L279.60 65.33 L279.81 65.33 L280.01 65.33 L280.21 65.33 L280.41 65.33 L280.61 65.33 L280.81 65.33 L281.02 65.33 L281.22 65.33 L281.42 65.33 L281.62 65.33 L281.82 65.33 L282.03 65.33 L282.23 65.33 L282.43 65.33 L282.63 65.33 L282.83 65.33 L283.03 65.33 L283.24 65.33 L283.44 65.33 L283.64 65.33 L283.84 65.33 L284.04 65.33 L284.24 65.33 L284.45 65.33 L284.65 65.33 L284.85 65.33 L285.05 65.33 L285.25 65.34 L285.46 65.49 L285.66 65.92 L285.86 66.73 L286.06 67.92 L286.26 69.44 L286.46 71.25 L286.67 73.30 L286.87 75.55 L287.07 77.95 L287.27 80.46 L287.47 83.04 L287.67 85.64 L287.88 88.22 L288.08 90.74 L288.28 93.15 L288.48 95.41 L288.68 97.48 L288.89 99.31 L289.09 100.87 L289.29 102.10 L289.49 102.97 L289.69 103.48 L289.89 103.73 L290.10 103.83 L290.30 103.90 L290.50 103.97 L290.70 104.04 L290.90 104.12 L291.10 104.19 L291.31 104.26 L291.51 104.33 L291.71 104.37 L291.91 104.39 L292.11 104.39 L292.32 104.39 L292.52 104.39 L292.72 104.39 L292.92 104.39 L293.12 104.39 L293.32 104.39 L293.53 104.39 L293.73 104.39 L293.93 104.39 L294.13 104.39 L294.33 104.39 L294.53 104.39 L294.74 104.39 L294.94 104.39 L295.14 104.39 L295.34 104.39 L295.54 104.39 L295.75 104.39 L295.95 104.39 L296.15 104.39 L296.35 104.39 L296.55 104.39 L296.75 104.39 L296.96 104.39 L297.16 104.39" fill="none" stroke="#e8323c" stroke-width="1.3" stroke-linejoin="round" stroke-linecap="round"/>
<path d="M211.21 103.79 L211.41 103.79 L211.61 103.79 L211.81 103.79 L212.01 103.79 L212.21 103.79 L212.42 103.79 L212.62 103.79 L212.82 103.79 L213.02 103.79 L213.22 103.79 L213.43 103.79 L213.63 103.79 L213.83 103.79 L214.03 103.79 L214.23 103.79 L214.43 103.79 L214.64 103.79 L214.84 103.79 L215.04 103.79 L215.24 103.79 L215.44 103.79 L215.64 103.79 L215.85 103.79 L216.05 103.79 L216.25 103.79 L216.45 103.79 L216.65 103.79 L216.86 103.80 L217.06 103.80 L217.26 103.81 L217.46 103.81 L217.66 102.18 L217.86 98.98 L218.07 94.30 L218.27 89.86 L218.47 85.67 L218.67 81.72 L218.87 78.01 L219.07 74.55 L219.28 71.33 L219.48 68.36 L219.68 65.63 L219.88 63.14 L220.08 60.90 L220.29 58.90 L220.49 57.14 L220.69 55.63 L220.89 54.36 L221.09 53.33 L221.29 52.55 L221.50 52.00 L221.70 51.70 L221.90 51.58 L222.10 51.57 L222.30 51.59 L222.50 51.60 L222.71 51.62 L222.91 51.63 L223.11 51.65 L223.31 51.66 L223.51 51.67 L223.72 51.69 L223.92 51.70 L224.12 51.72 L224.32 51.73 L224.52 51.75 L224.72 51.76 L224.93 51.78 L225.13 51.79 L225.33 51.81 L225.53 51.82 L225.73 51.83 L225.93 51.85 L226.14 51.86 L226.34 51.88 L226.54 51.89 L226.74 51.91 L226.94 51.92 L227.15 51.94 L227.35 51.95 L227.55 51.97 L227.75 51.98 L227.95 51.99 L228.15 52.01 L228.36 52.02 L228.56 52.04 L228.76 52.05 L228.96 52.07 L229.16 52.08 L229.36 52.10 L229.57 52.11 L229.77 52.13 L229.97 52.14 L230.17 52.15 L230.37 52.17 L230.58 52.18 L230.78 52.20 L230.98 52.22 L231.18 52.37 L231.38 52.86 L231.58 53.85 L231.79 55.36 L231.99 57.32 L232.19 59.69 L232.39 62.39 L232.59 65.38 L232.79 68.59 L233.00 71.97 L233.20 75.45 L233.40 78.98 L233.60 82.50 L233.80 85.95 L234.01 89.27 L234.21 92.41 L234.41 95.30 L234.61 97.88 L234.81 100.10 L235.01 101.90 L235.22 103.21 L235.42 104.00 L235.62 104.38 L235.82 104.54 L236.02 104.66 L236.22 104.78 L236.43 104.90 L236.63 105.02 L236.83 105.15 L237.03 105.27 L237.23 105.39 L237.44 105.50 L237.64 105.59 L237.84 105.64 L238.04 105.66 L238.24 105.69 L238.44 105.71 L238.65 105.74 L238.85 105.76 L239.05 105.79 L239.25 105.81 L239.45 105.84 L239.65 105.87 L239.86 105.89 L240.06 105.92 L240.26 105.94 L240.46 105.97 L240.66 105.99 L240.87 106.02 L241.07 106.04 L241.27 106.07 L241.47 106.09 L241.67 106.12 L241.87 106.14 L242.08 106.17 L242.28 106.19 L242.48 106.21 L242.68 106.21 L242.88 106.21 L243.08 106.21 L243.29 106.21 L243.49 106.21 L243.69 106.21 L243.89 106.21 L244.09 106.21 L244.30 106.21 L244.50 106.21 L244.70 106.21 L244.90 106.21 L245.10 104.55 L245.30 101.32 L245.51 96.60 L245.71 92.14 L245.91 87.92 L246.11 83.94 L246.31 80.22 L246.51 76.74 L246.72 73.50 L246.92 70.52 L247.12 67.77 L247.32 65.28 L247.52 63.02 L247.73 61.02 L247.93 59.25 L248.13 57.73 L248.33 56.46 L248.53 55.42 L248.73 54.63 L248.94 54.08 L249.14 53.78 L249.34 53.66 L249.54 53.64 L249.74 53.65 L249.94 53.66 L250.15 53.67 L250.35 53.68 L250.55 53.69 L250.75 53.69 L250.95 53.70 L251.16 53.71 L251.36 53.72 L251.56 53.73 L251.76 53.74 L251.96 53.75 L252.16 53.76 L252.37 53.77 L252.57 53.78 L252.77 53.79 L252.97 53.80 L253.17 53.81 L253.37 53.81 L253.58 53.82 L253.78 53.83 L253.98 53.84 L254.18 53.85 L254.38 53.86 L254.59 53.87 L254.79 53.88 L254.99 53.89 L255.19 53.90 L255.39 53.91 L255.59 53.92 L255.80 53.92 L256.00 53.93 L256.20 53.94 L256.40 53.95 L256.60 53.96 L256.80 53.97 L257.01 53.98 L257.21 53.99 L257.41 54.00 L257.61 54.01 L257.81 54.02 L258.02 54.03 L258.22 54.03 L258.42 54.14 L258.62 54.54 L258.82 55.41 L259.02 56.79 L259.23 58.64 L259.43 60.89 L259.63 63.48 L259.83 66.36 L260.03 69.47 L260.23 72.75 L260.44 76.14 L260.64 79.59 L260.84 83.04 L261.04 86.42 L261.24 89.69 L261.45 92.79 L261.65 95.66 L261.85 98.23 L262.05 100.46 L262.25 102.29 L262.45 103.66 L262.66 104.58 L262.86 105.08 L263.06 105.33 L263.26 105.49 L263.46 105.64 L263.66 105.79 L263.87 105.94 L264.07 106.09 L264.27 106.24 L264.47 106.40 L264.67 106.55 L264.88 106.69 L265.08 106.80 L265.28 106.88 L265.48 106.93 L265.68 106.98 L265.88 107.03 L266.09 107.08 L266.29 107.13 L266.49 107.18 L266.69 107.24 L266.89 107.29 L267.09 107.34 L267.30 107.39 L267.50 107.44 L267.70 107.49 L267.90 107.54 L268.10 107.59 L268.31 107.64 L268.51 107.69 L268.71 107.74 L268.91 107.79 L269.11 107.84 L269.31 107.89 L269.52 107.94 L269.72 107.99 L269.92 108.00 L270.12 107.97 L270.32 107.92 L270.52 107.87 L270.73 107.82 L270.93 107.77 L271.13 107.72 L271.33 107.67 L271.53 107.62 L271.74 107.57 L271.94 107.52 L272.14 106.48 L272.34 103.86 L272.54 99.75 L272.74 95.21 L272.95 90.93 L273.15 86.89 L273.35 83.11 L273.55 79.58 L273.75 76.29 L273.95 73.25 L274.16 70.46 L274.36 67.91 L274.56 65.61 L274.76 63.55 L274.96 61.73 L275.17 60.16 L275.37 58.82 L275.57 57.73 L275.77 56.87 L275.97 56.25 L276.17 55.87 L276.38 55.70 L276.58 55.66 L276.78 55.68 L276.98 55.70 L277.18 55.71 L277.38 55.73 L277.59 55.75 L277.79 55.77 L277.99 55.79 L278.19 55.81 L278.39 55.83 L278.60 55.85 L278.80 55.86 L279.00 55.88 L279.20 55.90 L279.40 55.92 L279.60 55.94 L279.81 55.96 L280.01 55.98 L280.21 55.99 L280.41 56.01 L280.61 56.03 L280.81 56.05 L281.02 56.07 L281.22 56.09 L281.42 56.11 L281.62 56.12 L281.82 56.14 L282.03 56.16 L282.23 56.18 L282.43 56.20 L282.63 56.22 L282.83 56.24 L283.03 56.25 L283.24 56.27 L283.44 56.29 L283.64 56.31 L283.84 56.33 L284.04 56.35 L284.24 56.37 L284.45 56.38 L284.65 56.40 L284.85 56.42 L285.05 56.44 L285.25 56.47 L285.46 56.67 L285.66 57.20 L285.86 58.20 L286.06 59.66 L286.26 61.53 L286.46 63.75 L286.67 66.26 L286.87 69.01 L287.07 71.95 L287.27 75.02 L287.47 78.17 L287.67 81.34 L287.88 84.49 L288.08 87.56 L288.28 90.49 L288.48 93.24 L288.68 95.74 L288.89 97.96 L289.09 99.83 L289.29 101.31 L289.49 102.36 L289.69 102.95 L289.89 103.22 L290.10 103.31 L290.30 103.37 L290.50 103.44 L290.70 103.50 L290.90 103.56 L291.10 103.62 L291.31 103.68 L291.51 103.74 L291.71 103.78 L291.91 103.80 L292.11 103.81 L292.32 103.82 L292.52 103.82 L292.72 103.83 L292.92 103.84 L293.12 103.85 L293.32 103.86 L293.53 103.87 L293.73 103.88 L293.93 103.88 L294.13 103.89 L294.33 103.90 L294.53 103.91 L294.74 103.92 L294.94 103.93 L295.14 103.94 L295.34 103.95 L295.54 103.95 L295.75 103.96 L295.95 103.97 L296.15 103.98 L296.35 103.99 L296.55 104.00 L296.75 104.01 L296.96 104.01 L297.16 104.02" fill="none" stroke="#3f72e6" stroke-width="1.3" stroke-linejoin="round" stroke-linecap="round"/>
<path d="M211.21 104.39 L211.41 104.39 L211.61 104.39 L211.81 104.39 L212.01 104.39 L212.21 104.39 L212.42 104.39 L212.62 104.39 L212.82 104.39 L213.02 104.39 L213.22 104.39 L213.43 104.39 L213.63 104.39 L213.83 104.39 L214.03 104.39 L214.23 104.39 L214.43 104.39 L214.64 104.39 L214.84 104.39 L215.04 104.39 L215.24 104.39 L215.44 104.39 L215.64 104.39 L215.85 104.39 L216.05 104.39 L216.25 104.39 L216.45 104.39 L216.65 104.39 L216.86 104.38 L217.06 104.38 L217.26 104.37 L217.46 104.36 L217.66 101.85 L217.86 96.96 L218.07 89.81 L218.27 83.04 L218.47 76.63 L218.67 70.60 L218.87 64.94 L219.07 59.65 L219.28 54.73 L219.48 50.18 L219.68 46.00 L219.88 42.19 L220.08 38.75 L220.29 35.68 L220.49 32.98 L220.69 30.66 L220.89 28.70 L221.09 27.11 L221.29 25.89 L221.50 25.04 L221.70 24.56 L221.90 24.36 L222.10 24.32 L222.30 24.32 L222.50 24.32 L222.71 24.32 L222.91 24.32 L223.11 24.32 L223.31 24.32 L223.51 24.32 L223.72 24.32 L223.92 24.32 L224.12 24.32 L224.32 24.32 L224.52 24.32 L224.72 24.32 L224.93 24.32 L225.13 24.32 L225.33 24.32 L225.53 24.32 L225.73 24.32 L225.93 24.32 L226.14 24.32 L226.34 24.32 L226.54 24.32 L226.74 24.32 L226.94 24.32 L227.15 24.32 L227.35 24.32 L227.55 24.32 L227.75 24.32 L227.95 24.32 L228.15 24.32 L228.36 24.32 L228.56 24.32 L228.76 24.32 L228.96 24.32 L229.16 24.32 L229.36 24.32 L229.57 24.32 L229.77 24.32 L229.97 24.32 L230.17 24.32 L230.37 24.32 L230.58 24.32 L230.78 24.32 L230.98 24.33 L231.18 24.55 L231.38 25.30 L231.58 26.81 L231.79 29.11 L231.99 32.11 L232.19 35.71 L232.39 39.84 L232.59 44.39 L232.79 49.29 L233.00 54.43 L233.20 59.74 L233.40 65.11 L233.60 70.47 L233.80 75.71 L234.01 80.76 L234.21 85.53 L234.41 89.91 L234.61 93.83 L234.81 97.19 L235.01 99.91 L235.22 101.90 L235.42 103.07 L235.62 103.60 L235.82 103.75 L236.02 103.83 L236.22 103.90 L236.43 103.97 L236.63 104.04 L236.83 104.12 L237.03 104.19 L237.23 104.26 L237.44 104.33 L237.64 104.39 L237.84 104.42 L238.04 104.45 L238.24 104.47 L238.44 104.50 L238.65 104.53 L238.85 104.55 L239.05 104.58 L239.25 104.60 L239.45 104.63 L239.65 104.65 L239.86 104.68 L240.06 104.70 L240.26 104.73 L240.46 104.75 L240.66 104.78 L240.87 104.80 L241.07 104.83 L241.27 104.85 L241.47 104.88 L241.67 104.90 L241.87 104.93 L242.08 104.96 L242.28 104.98 L242.48 105.01 L242.68 105.04 L242.88 105.07 L243.08 105.10 L243.29 105.13 L243.49 105.16 L243.69 105.19 L243.89 105.22 L244.09 105.25 L244.30 105.28 L244.50 105.31 L244.70 105.34 L244.90 105.35 L245.10 102.81 L245.30 97.85 L245.51 90.60 L245.71 83.74 L245.91 77.25 L246.11 71.14 L246.31 65.41 L246.51 60.05 L246.72 55.07 L246.92 50.46 L247.12 46.24 L247.32 42.38 L247.52 38.91 L247.73 35.80 L247.93 33.07 L248.13 30.72 L248.33 28.74 L248.53 27.14 L248.73 25.91 L248.94 25.05 L249.14 24.56 L249.34 24.36 L249.54 24.32 L249.74 24.32 L249.94 24.32 L250.15 24.32 L250.35 24.32 L250.55 24.32 L250.75 24.32 L250.95 24.32 L251.16 24.32 L251.36 24.32 L251.56 24.32 L251.76 24.32 L251.96 24.32 L252.16 24.32 L252.37 24.32 L252.57 24.32 L252.77 24.32 L252.97 24.32 L253.17 24.32 L253.37 24.32 L253.58 24.32 L253.78 24.32 L253.98 24.32 L254.18 24.32 L254.38 24.32 L254.59 24.32 L254.79 24.32 L254.99 24.32 L255.19 24.32 L255.39 24.32 L255.59 24.32 L255.80 24.32 L256.00 24.32 L256.20 24.32 L256.40 24.32 L256.60 24.32 L256.80 24.32 L257.01 24.32 L257.21 24.32 L257.41 24.32 L257.61 24.32 L257.81 24.32 L258.02 24.32 L258.22 24.32 L258.42 24.48 L258.62 25.10 L258.82 26.44 L259.02 28.60 L259.23 31.47 L259.43 34.97 L259.63 39.01 L259.83 43.49 L260.03 48.33 L260.23 53.43 L260.44 58.72 L260.64 64.09 L260.84 69.45 L261.04 74.73 L261.24 79.82 L261.45 84.64 L261.65 89.11 L261.85 93.12 L262.05 96.59 L262.25 99.44 L262.45 101.57 L262.66 102.92 L262.86 103.58 L263.06 103.80 L263.26 103.86 L263.46 103.92 L263.66 103.98 L263.87 104.04 L264.07 104.10 L264.27 104.16 L264.47 104.22 L264.67 104.28 L264.88 104.34 L265.08 104.39 L265.28 104.42 L265.48 104.45 L265.68 104.47 L265.88 104.50 L266.09 104.53 L266.29 104.55 L266.49 104.58 L266.69 104.60 L266.89 104.63 L267.09 104.65 L267.30 104.68 L267.50 104.70 L267.70 104.73 L267.90 104.75 L268.10 104.78 L268.31 104.80 L268.51 104.83 L268.71 104.85 L268.91 104.88 L269.11 104.90 L269.31 104.93 L269.52 104.96 L269.72 104.98 L269.92 105.01 L270.12 105.04 L270.32 105.07 L270.52 105.10 L270.73 105.13 L270.93 105.16 L271.13 105.19 L271.33 105.22 L271.53 105.25 L271.74 105.28 L271.94 105.31 L272.14 103.80 L272.34 99.82 L272.54 93.48 L272.74 86.46 L272.95 79.82 L273.15 73.56 L273.35 67.67 L273.55 62.16 L273.75 57.03 L273.95 52.27 L274.16 47.89 L274.36 43.89 L274.56 40.26 L274.76 37.00 L274.96 34.12 L275.17 31.62 L275.37 29.49 L275.57 27.74 L275.77 26.35 L275.97 25.35 L276.17 24.71 L276.38 24.41 L276.58 24.32 L276.78 24.32 L276.98 24.32 L277.18 24.32 L277.38 24.32 L277.59 24.32 L277.79 24.32 L277.99 24.32 L278.19 24.32 L278.39 24.32 L278.60 24.32 L278.80 24.32 L279.00 24.32 L279.20 24.32 L279.40 24.32 L279.60 24.32 L279.81 24.32 L280.01 24.32 L280.21 24.32 L280.41 24.32 L280.61 24.32 L280.81 24.32 L281.02 24.32 L281.22 24.32 L281.42 24.32 L281.62 24.32 L281.82 24.32 L282.03 24.32 L282.23 24.32 L282.43 24.32 L282.63 24.32 L282.83 24.32 L283.03 24.32 L283.24 24.32 L283.44 24.32 L283.64 24.32 L283.84 24.32 L284.04 24.32 L284.24 24.32 L284.45 24.32 L284.65 24.32 L284.85 24.32 L285.05 24.32 L285.25 24.35 L285.46 24.65 L285.66 25.53 L285.86 27.22 L286.06 29.67 L286.26 32.80 L286.46 36.53 L286.67 40.75 L286.87 45.39 L287.07 50.35 L287.27 55.54 L287.47 60.86 L287.67 66.24 L287.88 71.59 L288.08 76.80 L288.28 81.80 L288.48 86.48 L288.68 90.78 L288.89 94.58 L289.09 97.82 L289.29 100.39 L289.49 102.21 L289.69 103.25 L289.89 103.70 L290.10 103.83 L290.30 103.90 L290.50 103.97 L290.70 104.04 L290.90 104.12 L291.10 104.19 L291.31 104.26 L291.51 104.33 L291.71 104.37 L291.91 104.39 L292.11 104.39 L292.32 104.39 L292.52 104.39 L292.72 104.39 L292.92 104.39 L293.12 104.39 L293.32 104.39 L293.53 104.39 L293.73 104.39 L293.93 104.39 L294.13 104.39 L294.33 104.39 L294.53 104.39 L294.74 104.39 L294.94 104.39 L295.14 104.39 L295.34 104.39 L295.54 104.39 L295.75 104.39 L295.95 104.39 L296.15 104.39 L296.35 104.39 L296.55 104.39 L296.75 104.39 L296.96 104.39 L297.16 104.39 L297.36 104.39 L297.56 104.39 L297.76 104.39 L297.96 104.39 L298.17 104.39 L298.37 104.39 L298.57 104.39 L298.77 104.39 L298.97 104.39 L299.18 104.39 L299.38 104.39 L299.58 104.39 L299.78 104.39 L299.98 104.39 L300.18 104.39 L300.39 104.39 L300.59 104.39 L300.79 104.39 L300.99 104.39 L301.19 104.39 L301.39 104.39 L301.60 104.39 L301.80 104.39 L302.00 104.39" fill="none" stroke="#46b964" stroke-width="1.3" stroke-linejoin="round" stroke-linecap="round"/>
<path d="M296.00 24.20H310.50" stroke="#333333" stroke-width="1.4"/>
<text x="312.00" y="26.43" font-size="6.2" text-anchor="start" font-weight="bold" fill="#222" stroke="#222" stroke-width="0.18">40 wt%</text>
<path d="M296.00 32.30H310.50" stroke="#e8323c" stroke-width="1.8"/>
<text x="312.00" y="34.53" font-size="6.2" text-anchor="start" font-weight="bold" fill="#222" stroke="#222" stroke-width="0.18">50 wt%</text>
<path d="M296.00 40.00H310.50" stroke="#3f72e6" stroke-width="2.2"/>
<text x="312.00" y="42.23" font-size="6.2" text-anchor="start" font-weight="bold" fill="#222" stroke="#222" stroke-width="0.18">60 wt%</text>
<path d="M296.00 47.70H310.50" stroke="#46b964" stroke-width="2.0"/>
<text x="312.00" y="49.93" font-size="6.2" text-anchor="start" font-weight="bold" fill="#222" stroke="#222" stroke-width="0.18">70 wt%</text>
<path d="M380.77 104.95 L465.51 104.95" fill="none" stroke="#6a6a6a" stroke-width="1.7" stroke-linejoin="round" stroke-linecap="round"/>
<path d="M380.77 104.09 L380.97 104.14 L381.17 104.26 L381.38 104.37 L381.58 104.49 L381.78 104.60 L381.98 104.72 L382.18 104.83 L382.38 104.70 L382.59 103.57 L382.79 101.49 L382.99 98.76 L383.19 96.18 L383.39 93.74 L383.60 91.46 L383.80 89.34 L384.00 87.36 L384.20 85.53 L384.40 83.86 L384.60 82.33 L384.81 80.95 L385.01 79.73 L385.21 78.65 L385.41 77.72 L385.61 76.94 L385.81 76.30 L386.02 75.82 L386.22 75.48 L386.42 75.29 L386.62 75.21 L386.82 75.19 L387.03 75.19 L387.23 75.19 L387.43 75.19 L387.63 75.19 L387.83 75.19 L388.03 75.19 L388.24 75.19 L388.44 75.19 L388.64 75.19 L388.84 75.19 L389.04 75.19 L389.24 75.19 L389.45 75.19 L389.65 75.19 L389.85 75.19 L390.05 75.19 L390.25 75.19 L390.46 75.19 L390.66 75.19 L390.86 75.19 L391.06 75.19 L391.26 75.19 L391.46 75.19 L391.67 75.19 L391.87 75.19 L392.07 75.19 L392.27 75.19 L392.47 75.19 L392.67 75.19 L392.88 75.19 L393.08 75.19 L393.28 75.19 L393.48 75.19 L393.68 75.19 L393.89 75.19 L394.09 75.19 L394.29 75.19 L394.49 75.19 L394.69 75.19 L394.89 75.19 L395.10 75.19 L395.30 75.25 L395.50 75.49 L395.70 76.00 L395.90 76.82 L396.10 77.91 L396.31 79.23 L396.51 80.75 L396.71 82.43 L396.91 84.23 L397.11 86.13 L397.32 88.08 L397.52 90.04 L397.72 91.99 L397.92 93.89 L398.12 95.70 L398.32 97.38 L398.53 98.91 L398.73 100.24 L398.93 101.35 L399.13 102.20 L399.33 102.77 L399.53 103.09 L399.74 103.24 L399.94 103.31 L400.14 103.38 L400.34 103.44 L400.54 103.51 L400.75 103.57 L400.95 103.64 L401.15 103.70 L401.35 103.77 L401.55 103.83 L401.75 103.90 L401.96 103.96 L402.16 104.03 L402.36 104.10 L402.56 104.16 L402.76 104.23 L402.96 104.29 L403.17 104.36 L403.37 104.42 L403.57 104.49 L403.77 104.55 L403.97 104.62 L404.18 104.68 L404.38 104.75 L404.58 104.81 L404.78 104.88 L404.98 104.92 L405.18 104.95 L405.39 104.95 L405.59 104.95 L405.79 104.95 L405.99 104.95 L406.19 104.95 L406.39 104.95 L406.60 104.95 L406.80 104.95 L407.00 104.95 L407.20 104.95 L407.40 104.95 L407.61 104.95 L407.81 104.95 L408.01 104.95 L408.21 104.95 L408.41 104.95 L408.61 104.95 L408.82 104.17 L409.02 102.46 L409.22 99.86 L409.42 97.22 L409.62 94.72 L409.82 92.38 L410.03 90.19 L410.23 88.15 L410.43 86.26 L410.63 84.52 L410.83 82.93 L411.04 81.49 L411.24 80.20 L411.44 79.06 L411.64 78.07 L411.84 77.23 L412.04 76.54 L412.25 76.00 L412.45 75.60 L412.65 75.35 L412.85 75.23 L413.05 75.19 L413.25 75.19 L413.46 75.19 L413.66 75.19 L413.86 75.19 L414.06 75.19 L414.26 75.19 L414.47 75.19 L414.67 75.19 L414.87 75.19 L415.07 75.19 L415.27 75.19 L415.47 75.19 L415.68 75.19 L415.88 75.19 L416.08 75.19 L416.28 75.19 L416.48 75.19 L416.68 75.19 L416.89 75.19 L417.09 75.19 L417.29 75.19 L417.49 75.19 L417.69 75.19 L417.90 75.19 L418.10 75.19 L418.30 75.19 L418.50 75.19 L418.70 75.19 L418.90 75.19 L419.11 75.19 L419.31 75.19 L419.51 75.19 L419.71 75.19 L419.91 75.19 L420.11 75.19 L420.32 75.19 L420.52 75.19 L420.72 75.19 L420.92 75.19 L421.12 75.19 L421.33 75.19 L421.53 75.19 L421.73 75.19 L421.93 75.25 L422.13 75.49 L422.33 76.00 L422.54 76.82 L422.74 77.91 L422.94 79.23 L423.14 80.75 L423.34 82.43 L423.54 84.23 L423.75 86.13 L423.95 88.08 L424.15 90.04 L424.35 91.99 L424.55 93.89 L424.76 95.70 L424.96 97.38 L425.16 98.91 L425.36 100.24 L425.56 101.35 L425.76 102.20 L425.97 102.78 L426.17 103.10 L426.37 103.26 L426.57 103.34 L426.77 103.42 L426.97 103.50 L427.18 103.57 L427.38 103.65 L427.58 103.72 L427.78 103.80 L427.98 103.88 L428.19 103.95 L428.39 104.03 L428.59 104.11 L428.79 104.18 L428.99 104.26 L429.19 104.34 L429.40 104.41 L429.60 104.49 L429.80 104.56 L430.00 104.64 L430.20 104.72 L430.40 104.79 L430.61 104.87 L430.81 104.92 L431.01 104.95 L431.21 104.95 L431.41 104.95 L431.62 104.95 L431.82 104.95 L432.02 104.95 L432.22 104.95 L432.42 104.95 L432.62 104.95 L432.83 104.95 L433.03 104.95 L433.23 104.95 L433.43 104.95 L433.63 104.95 L433.83 104.95 L434.04 104.95 L434.24 104.95 L434.44 104.95 L434.64 104.95 L434.84 104.95 L435.05 104.95 L435.25 104.95 L435.45 104.95 L435.65 104.94 L435.85 104.92 L436.05 103.94 L436.26 102.04 L436.46 99.28 L436.66 96.66 L436.86 94.21 L437.06 91.90 L437.26 89.74 L437.47 87.73 L437.67 85.88 L437.87 84.17 L438.07 82.62 L438.27 81.21 L438.48 79.96 L438.68 78.85 L438.88 77.89 L439.08 77.08 L439.28 76.42 L439.48 75.90 L439.69 75.54 L439.89 75.32 L440.09 75.22 L440.29 75.19 L440.49 75.19 L440.69 75.19 L440.90 75.19 L441.10 75.19 L441.30 75.19 L441.50 75.19 L441.70 75.19 L441.91 75.19 L442.11 75.19 L442.31 75.19 L442.51 75.19 L442.71 75.19 L442.91 75.19 L443.12 75.19 L443.32 75.19 L443.52 75.19 L443.72 75.19 L443.92 75.19 L444.12 75.19 L444.33 75.19 L444.53 75.19 L444.73 75.19 L444.93 75.19 L445.13 75.19 L445.34 75.19 L445.54 75.19 L445.74 75.19 L445.94 75.19 L446.14 75.19 L446.34 75.19 L446.55 75.19 L446.75 75.19 L446.95 75.19 L447.15 75.19 L447.35 75.19 L447.55 75.19 L447.76 75.19 L447.96 75.19 L448.16 75.19 L448.36 75.19 L448.56 75.19 L448.77 75.19 L448.97 75.19 L449.17 75.19 L449.37 75.22 L449.57 75.37 L449.77 75.76 L449.98 76.46 L450.18 77.44 L450.38 78.67 L450.58 80.12 L450.78 81.74 L450.98 83.49 L451.19 85.35 L451.39 87.28 L451.59 89.25 L451.79 91.21 L451.99 93.13 L452.20 94.97 L452.40 96.71 L452.60 98.31 L452.80 99.73 L453.00 100.93 L453.20 101.88 L453.41 102.59 L453.61 103.02 L453.81 103.25 L454.01 103.34 L454.21 103.42 L454.41 103.50 L454.62 103.57 L454.82 103.65 L455.02 103.72 L455.22 103.80 L455.42 103.88 L455.63 103.95 L455.83 104.03 L456.03 104.11 L456.23 104.18 L456.43 104.26 L456.63 104.34 L456.84 104.41 L457.04 104.49 L457.24 104.56 L457.44 104.64 L457.64 104.72 L457.84 104.79 L458.05 104.87 L458.25 104.92 L458.45 104.95 L458.65 104.95 L458.85 104.95 L459.06 104.95 L459.26 104.95 L459.46 104.95 L459.66 104.95 L459.86 104.95 L460.06 104.95 L460.27 104.95 L460.47 104.95 L460.67 104.95 L460.87 104.95 L461.07 104.95 L461.27 104.95 L461.48 104.95 L461.68 104.95 L461.88 104.95 L462.08 104.95 L462.28 104.95 L462.49 104.95 L462.69 104.95 L462.89 104.95 L463.09 104.95 L463.29 104.95 L463.49 104.95 L463.70 104.95 L463.90 104.95 L464.10 104.95 L464.30 104.95 L464.50 104.95 L464.70 104.95 L464.91 104.95 L465.11 104.95 L465.31 104.95 L465.51 104.95" fill="none" stroke="#e8323c" stroke-width="1.3" stroke-linejoin="round" stroke-linecap="round"/>
<path d="M380.77 104.09 L380.97 104.14 L381.17 104.26 L381.38 104.37 L381.58 104.49 L381.78 104.60 L381.98 104.72 L382.18 104.83 L382.38 104.57 L382.59 102.68 L382.79 99.23 L382.99 94.68 L383.19 90.39 L383.39 86.33 L383.60 82.52 L383.80 78.96 L384.00 75.65 L384.20 72.58 L384.40 69.76 L384.60 67.18 L384.81 64.85 L385.01 62.77 L385.21 60.93 L385.41 59.35 L385.61 58.01 L385.81 56.91 L386.02 56.07 L386.22 55.47 L386.42 55.11 L386.62 54.95 L386.82 54.90 L387.03 54.87 L387.23 54.84 L387.43 54.81 L387.63 54.78 L387.83 54.75 L388.03 54.72 L388.24 54.69 L388.44 54.66 L388.64 54.64 L388.84 54.61 L389.04 54.58 L389.24 54.55 L389.45 54.52 L389.65 54.49 L389.85 54.46 L390.05 54.43 L390.25 54.40 L390.46 54.38 L390.66 54.35 L390.86 54.32 L391.06 54.29 L391.26 54.26 L391.46 54.23 L391.67 54.20 L391.87 54.17 L392.07 54.14 L392.27 54.11 L392.47 54.09 L392.67 54.06 L392.88 54.03 L393.08 54.00 L393.28 53.97 L393.48 53.94 L393.68 53.91 L393.89 53.88 L394.09 53.85 L394.29 53.82 L394.49 53.80 L394.69 53.77 L394.89 53.74 L395.10 53.71 L395.30 53.80 L395.50 54.20 L395.70 55.11 L395.90 56.55 L396.10 58.47 L396.31 60.79 L396.51 63.47 L396.71 66.44 L396.91 69.62 L397.11 72.97 L397.32 76.41 L397.52 79.89 L397.72 83.34 L397.92 86.70 L398.12 89.91 L398.32 92.90 L398.53 95.61 L398.73 97.99 L398.93 99.96 L399.13 101.47 L399.33 102.49 L399.53 103.02 L399.74 103.24 L399.94 103.31 L400.14 103.38 L400.34 103.44 L400.54 103.51 L400.75 103.57 L400.95 103.64 L401.15 103.70 L401.35 103.77 L401.55 103.83 L401.75 103.90 L401.96 103.96 L402.16 104.03 L402.36 104.10 L402.56 104.16 L402.76 104.23 L402.96 104.29 L403.17 104.36 L403.37 104.42 L403.57 104.49 L403.77 104.55 L403.97 104.62 L404.18 104.68 L404.38 104.75 L404.58 104.81 L404.78 104.88 L404.98 104.92 L405.18 104.95 L405.39 104.95 L405.59 104.95 L405.79 104.95 L405.99 104.95 L406.19 104.95 L406.39 104.95 L406.60 104.95 L406.80 104.95 L407.00 104.95 L407.20 104.95 L407.40 104.95 L407.61 104.95 L407.81 104.95 L408.01 104.95 L408.21 104.95 L408.41 104.95 L408.61 104.95 L408.82 103.63 L409.02 100.74 L409.22 96.36 L409.42 91.89 L409.62 87.67 L409.82 83.71 L410.03 80.01 L410.23 76.56 L410.43 73.36 L410.63 70.41 L410.83 67.72 L411.04 65.29 L411.24 63.10 L411.44 61.17 L411.64 59.49 L411.84 58.06 L412.04 56.89 L412.25 55.96 L412.45 55.28 L412.65 54.86 L412.85 54.66 L413.05 54.60 L413.25 54.60 L413.46 54.60 L413.66 54.60 L413.86 54.60 L414.06 54.60 L414.26 54.60 L414.47 54.60 L414.67 54.60 L414.87 54.60 L415.07 54.60 L415.27 54.60 L415.47 54.60 L415.68 54.60 L415.88 54.60 L416.08 54.60 L416.28 54.60 L416.48 54.60 L416.68 54.60 L416.89 54.60 L417.09 54.60 L417.29 54.60 L417.49 54.60 L417.69 54.60 L417.90 54.60 L418.10 54.60 L418.30 54.60 L418.50 54.60 L418.70 54.60 L418.90 54.60 L419.11 54.60 L419.31 54.60 L419.51 54.60 L419.71 54.60 L419.91 54.60 L420.11 54.60 L420.32 54.60 L420.52 54.60 L420.72 54.60 L420.92 54.60 L421.12 54.60 L421.33 54.60 L421.53 54.60 L421.73 54.60 L421.93 54.70 L422.13 55.11 L422.33 56.00 L422.54 57.41 L422.74 59.29 L422.94 61.58 L423.14 64.21 L423.34 67.12 L423.54 70.24 L423.75 73.53 L423.95 76.91 L424.15 80.32 L424.35 83.71 L424.55 87.01 L424.76 90.15 L424.96 93.09 L425.16 95.75 L425.36 98.08 L425.56 100.02 L425.76 101.51 L425.97 102.51 L426.17 103.04 L426.37 103.26 L426.57 103.34 L426.77 103.42 L426.97 103.50 L427.18 103.57 L427.38 103.65 L427.58 103.72 L427.78 103.80 L427.98 103.88 L428.19 103.95 L428.39 104.03 L428.59 104.11 L428.79 104.18 L428.99 104.26 L429.19 104.34 L429.40 104.41 L429.60 104.49 L429.80 104.56 L430.00 104.64 L430.20 104.72 L430.40 104.79 L430.61 104.87 L430.81 104.92 L431.01 104.95 L431.21 104.95 L431.41 104.95 L431.62 104.95 L431.82 104.95 L432.02 104.95 L432.22 104.95 L432.42 104.95 L432.62 104.95 L432.83 104.95 L433.03 104.95 L433.23 104.95 L433.43 104.95 L433.63 104.95 L433.83 104.95 L434.04 104.95 L434.24 104.95 L434.44 104.95 L434.64 104.95 L434.84 104.95 L435.05 104.95 L435.25 104.95 L435.45 104.95 L435.65 104.94 L435.85 104.92 L436.05 103.27 L436.26 100.06 L436.46 95.39 L436.66 90.97 L436.86 86.80 L437.06 82.89 L437.26 79.23 L437.47 75.82 L437.67 72.66 L437.87 69.75 L438.07 67.10 L438.27 64.70 L438.48 62.55 L438.68 60.65 L438.88 59.01 L439.08 57.61 L439.28 56.47 L439.48 55.57 L439.69 54.93 L439.89 54.54 L440.09 54.36 L440.29 54.31 L440.49 54.29 L440.69 54.28 L440.90 54.26 L441.10 54.25 L441.30 54.24 L441.50 54.22 L441.70 54.21 L441.91 54.20 L442.11 54.18 L442.31 54.17 L442.51 54.15 L442.71 54.14 L442.91 54.13 L443.12 54.11 L443.32 54.10 L443.52 54.09 L443.72 54.07 L443.92 54.06 L444.12 54.04 L444.33 54.03 L444.53 54.02 L444.73 54.00 L444.93 53.99 L445.13 53.98 L445.34 53.96 L445.54 53.95 L445.74 53.93 L445.94 53.92 L446.14 53.91 L446.34 53.89 L446.55 53.88 L446.75 53.86 L446.95 53.85 L447.15 53.84 L447.35 53.82 L447.55 53.81 L447.76 53.80 L447.96 53.78 L448.16 53.77 L448.36 53.75 L448.56 53.74 L448.77 53.73 L448.97 53.71 L449.17 53.70 L449.37 53.73 L449.57 53.99 L449.77 54.68 L449.98 55.91 L450.18 57.64 L450.38 59.81 L450.58 62.36 L450.78 65.22 L450.98 68.32 L451.19 71.61 L451.39 75.02 L451.59 78.49 L451.79 81.96 L451.99 85.36 L452.20 88.64 L452.40 91.72 L452.60 94.55 L452.80 97.07 L453.00 99.21 L453.20 100.92 L453.41 102.16 L453.61 102.88 L453.81 103.23 L454.01 103.34 L454.21 103.42 L454.41 103.50 L454.62 103.57 L454.82 103.65 L455.02 103.72 L455.22 103.80 L455.42 103.88 L455.63 103.95 L455.83 104.03 L456.03 104.11 L456.23 104.18 L456.43 104.26 L456.63 104.34 L456.84 104.41 L457.04 104.49 L457.24 104.56 L457.44 104.64 L457.64 104.72 L457.84 104.79 L458.05 104.87 L458.25 104.92 L458.45 104.95 L458.65 104.95 L458.85 104.95 L459.06 104.95 L459.26 104.95 L459.46 104.95 L459.66 104.95 L459.86 104.95 L460.06 104.95 L460.27 104.95 L460.47 104.95 L460.67 104.95 L460.87 104.95 L461.07 104.95 L461.27 104.95 L461.48 104.95 L461.68 104.95 L461.88 104.95 L462.08 104.95 L462.28 104.95 L462.49 104.95 L462.69 104.95 L462.89 104.95 L463.09 104.95 L463.29 104.95 L463.49 104.95 L463.70 104.95 L463.90 104.95 L464.10 104.95 L464.30 104.95 L464.50 104.95 L464.70 104.95 L464.91 104.95 L465.11 104.95 L465.31 104.95 L465.51 104.95" fill="none" stroke="#3f72e6" stroke-width="1.3" stroke-linejoin="round" stroke-linecap="round"/>
<path d="M380.77 104.09 L380.97 104.14 L381.17 104.26 L381.38 104.37 L381.58 104.49 L381.78 104.60 L381.98 104.72 L382.18 104.83 L382.38 104.40 L382.59 101.49 L382.79 96.24 L382.99 89.31 L383.19 82.76 L383.39 76.59 L383.60 70.80 L383.80 65.38 L384.00 60.35 L384.20 55.69 L384.40 51.41 L384.60 47.51 L384.81 43.99 L385.01 40.84 L385.21 38.07 L385.41 35.68 L385.61 33.67 L385.81 32.03 L386.02 30.77 L386.22 29.89 L386.42 29.39 L386.62 29.17 L386.82 29.11 L387.03 29.10 L387.23 29.08 L387.43 29.07 L387.63 29.06 L387.83 29.04 L388.03 29.03 L388.24 29.01 L388.44 29.00 L388.64 28.98 L388.84 28.97 L389.04 28.95 L389.24 28.94 L389.45 28.93 L389.65 28.91 L389.85 28.90 L390.05 28.88 L390.25 28.87 L390.46 28.85 L390.66 28.84 L390.86 28.82 L391.06 28.81 L391.26 28.79 L391.46 28.78 L391.67 28.77 L391.87 28.75 L392.07 28.74 L392.27 28.72 L392.47 28.71 L392.67 28.69 L392.88 28.68 L393.08 28.66 L393.28 28.65 L393.48 28.64 L393.68 28.62 L393.89 28.61 L394.09 28.59 L394.29 28.58 L394.49 28.56 L394.69 28.55 L394.89 28.53 L395.10 28.52 L395.30 28.67 L395.50 29.29 L395.70 30.65 L395.90 32.82 L396.10 35.71 L396.31 39.22 L396.51 43.25 L396.71 47.72 L396.91 52.52 L397.11 57.57 L397.32 62.76 L397.52 68.01 L397.72 73.22 L397.92 78.29 L398.12 83.13 L398.32 87.65 L398.53 91.75 L398.73 95.35 L398.93 98.34 L399.13 100.63 L399.33 102.16 L399.53 102.94 L399.74 103.24 L399.94 103.31 L400.14 103.38 L400.34 103.44 L400.54 103.51 L400.75 103.57 L400.95 103.64 L401.15 103.70 L401.35 103.77 L401.55 103.83 L401.75 103.90 L401.96 103.96 L402.16 104.03 L402.36 104.10 L402.56 104.16 L402.76 104.23 L402.96 104.29 L403.17 104.36 L403.37 104.42 L403.57 104.49 L403.77 104.55 L403.97 104.62 L404.18 104.68 L404.38 104.75 L404.58 104.81 L404.78 104.88 L404.98 104.92 L405.18 104.95 L405.39 104.95 L405.59 104.95 L405.79 104.95 L405.99 104.95 L406.19 104.95 L406.39 104.95 L406.60 104.95 L406.80 104.95 L407.00 104.95 L407.20 104.95 L407.40 104.95 L407.61 104.95 L407.81 104.95 L408.01 104.95 L408.21 104.95 L408.41 104.95 L408.61 104.95 L408.82 102.91 L409.02 98.45 L409.22 91.68 L409.42 84.78 L409.62 78.27 L409.82 72.16 L410.03 66.43 L410.23 61.10 L410.43 56.16 L410.63 51.61 L410.83 47.45 L411.04 43.68 L411.24 40.30 L411.44 37.31 L411.64 34.71 L411.84 32.50 L412.04 30.68 L412.25 29.24 L412.45 28.20 L412.65 27.54 L412.85 27.23 L413.05 27.13 L413.25 27.13 L413.46 27.13 L413.66 27.13 L413.86 27.13 L414.06 27.13 L414.26 27.13 L414.47 27.13 L414.67 27.13 L414.87 27.13 L415.07 27.13 L415.27 27.13 L415.47 27.13 L415.68 27.13 L415.88 27.13 L416.08 27.13 L416.28 27.13 L416.48 27.13 L416.68 27.13 L416.89 27.13 L417.09 27.13 L417.29 27.13 L417.49 27.13 L417.69 27.13 L417.90 27.13 L418.10 27.13 L418.30 27.13 L418.50 27.13 L418.70 27.13 L418.90 27.13 L419.11 27.13 L419.31 27.13 L419.51 27.13 L419.71 27.13 L419.91 27.13 L420.11 27.13 L420.32 27.13 L420.52 27.13 L420.72 27.13 L420.92 27.13 L421.12 27.13 L421.33 27.13 L421.53 27.13 L421.73 27.13 L421.93 27.30 L422.13 27.93 L422.33 29.32 L422.54 31.53 L422.74 34.47 L422.94 38.04 L423.14 42.15 L423.34 46.70 L423.54 51.59 L423.75 56.73 L423.95 62.02 L424.15 67.36 L424.35 72.66 L424.55 77.83 L424.76 82.76 L424.96 87.36 L425.16 91.54 L425.36 95.20 L425.56 98.25 L425.76 100.58 L425.97 102.14 L426.17 102.95 L426.37 103.26 L426.57 103.34 L426.77 103.42 L426.97 103.50 L427.18 103.57 L427.38 103.65 L427.58 103.72 L427.78 103.80 L427.98 103.88 L428.19 103.95 L428.39 104.03 L428.59 104.11 L428.79 104.18 L428.99 104.26 L429.19 104.34 L429.40 104.41 L429.60 104.49 L429.80 104.56 L430.00 104.64 L430.20 104.72 L430.40 104.79 L430.61 104.87 L430.81 104.92 L431.01 104.95 L431.21 104.95 L431.41 104.95 L431.62 104.95 L431.82 104.95 L432.02 104.95 L432.22 104.95 L432.42 104.95 L432.62 104.95 L432.83 104.95 L433.03 104.95 L433.23 104.95 L433.43 104.95 L433.63 104.95 L433.83 104.95 L434.04 104.95 L434.24 104.95 L434.44 104.95 L434.64 104.95 L434.84 104.95 L435.05 104.95 L435.25 104.95 L435.45 104.95 L435.65 104.94 L435.85 104.92 L436.05 102.38 L436.26 97.43 L436.46 90.22 L436.66 83.41 L436.86 76.98 L437.06 70.95 L437.26 65.31 L437.47 60.06 L437.67 55.20 L437.87 50.73 L438.07 46.65 L438.27 42.96 L438.48 39.67 L438.68 36.76 L438.88 34.23 L439.08 32.10 L439.28 30.36 L439.48 29.00 L439.69 28.03 L439.89 27.45 L440.09 27.20 L440.29 27.13 L440.49 27.13 L440.69 27.13 L440.90 27.13 L441.10 27.13 L441.30 27.13 L441.50 27.13 L441.70 27.13 L441.91 27.13 L442.11 27.13 L442.31 27.13 L442.51 27.13 L442.71 27.13 L442.91 27.13 L443.12 27.13 L443.32 27.13 L443.52 27.13 L443.72 27.13 L443.92 27.13 L444.12 27.13 L444.33 27.13 L444.53 27.13 L444.73 27.13 L444.93 27.13 L445.13 27.13 L445.34 27.13 L445.54 27.13 L445.74 27.13 L445.94 27.13 L446.14 27.13 L446.34 27.13 L446.55 27.13 L446.75 27.13 L446.95 27.13 L447.15 27.13 L447.35 27.13 L447.55 27.13 L447.76 27.13 L447.96 27.13 L448.16 27.13 L448.36 27.13 L448.56 27.13 L448.77 27.13 L448.97 27.13 L449.17 27.13 L449.37 27.19 L449.57 27.60 L449.77 28.66 L449.98 30.55 L450.18 33.21 L450.38 36.54 L450.58 40.45 L450.78 44.83 L450.98 49.59 L451.19 54.64 L451.39 59.88 L451.59 65.22 L451.79 70.55 L451.99 75.78 L452.20 80.81 L452.40 85.56 L452.60 89.92 L452.80 93.80 L453.00 97.10 L453.20 99.73 L453.41 101.63 L453.61 102.72 L453.81 103.21 L454.01 103.34 L454.21 103.42 L454.41 103.50 L454.62 103.57 L454.82 103.65 L455.02 103.72 L455.22 103.80 L455.42 103.88 L455.63 103.95 L455.83 104.03 L456.03 104.11 L456.23 104.18 L456.43 104.26 L456.63 104.34 L456.84 104.41 L457.04 104.49 L457.24 104.56 L457.44 104.64 L457.64 104.72 L457.84 104.79 L458.05 104.87 L458.25 104.92 L458.45 104.95 L458.65 104.95 L458.85 104.95 L459.06 104.95 L459.26 104.95 L459.46 104.95 L459.66 104.95 L459.86 104.95 L460.06 104.95 L460.27 104.95 L460.47 104.95 L460.67 104.95 L460.87 104.95 L461.07 104.95 L461.27 104.95 L461.48 104.95 L461.68 104.95 L461.88 104.95 L462.08 104.95 L462.28 104.95 L462.49 104.95 L462.69 104.95 L462.89 104.95 L463.09 104.95 L463.29 104.95 L463.49 104.95 L463.70 104.95 L463.90 104.95 L464.10 104.95 L464.30 104.95 L464.50 104.95 L464.70 104.95 L464.91 104.95 L465.11 104.95 L465.31 104.95 L465.51 104.95" fill="none" stroke="#46b964" stroke-width="1.3" stroke-linejoin="round" stroke-linecap="round"/>
<path d="M464.00 26.20H478.60" stroke="#6a6a6a" stroke-width="1.8"/>
<text x="480.00" y="28.43" font-size="6.2" text-anchor="start" font-weight="bold" fill="#222" stroke="#222" stroke-width="0.18">40 wt%</text>
<path d="M464.00 34.00H478.60" stroke="#e8323c" stroke-width="1.8"/>
<text x="480.00" y="36.23" font-size="6.2" text-anchor="start" font-weight="bold" fill="#222" stroke="#222" stroke-width="0.18">50 wt%</text>
<path d="M464.00 41.70H478.60" stroke="#3f72e6" stroke-width="2.2"/>
<text x="480.00" y="43.93" font-size="6.2" text-anchor="start" font-weight="bold" fill="#222" stroke="#222" stroke-width="0.18">60 wt%</text>
<path d="M464.00 49.30H478.60" stroke="#46b964" stroke-width="2.0"/>
<text x="480.00" y="51.53" font-size="6.2" text-anchor="start" font-weight="bold" fill="#222" stroke="#222" stroke-width="0.18">70 wt%</text>
<path d="M554.01 102.91 L626.24 102.91" fill="none" stroke="#6a6a6a" stroke-width="1.7" stroke-linejoin="round" stroke-linecap="round"/>
<path d="M549.57 104.03 L549.77 104.03 L549.97 104.03 L550.18 104.03 L550.38 104.03 L550.58 104.03 L550.78 104.03 L550.98 104.03 L551.18 104.03 L551.39 104.03 L551.59 104.03 L551.79 104.03 L551.99 104.03 L552.19 104.03 L552.40 104.03 L552.60 104.03 L552.80 104.03 L553.00 104.03 L553.20 104.03 L553.40 104.03 L553.61 104.03 L553.81 104.03 L554.01 104.03 L554.21 104.03 L554.41 104.03 L554.61 104.03 L554.82 104.03 L555.02 104.03 L555.22 102.50 L555.42 99.55 L555.62 95.29 L555.83 91.34 L556.03 87.71 L556.23 84.39 L556.43 81.39 L556.63 78.69 L556.83 76.31 L557.04 74.24 L557.24 72.49 L557.44 71.04 L557.64 69.90 L557.84 69.07 L558.04 68.55 L558.25 68.30 L558.45 68.23 L558.65 68.23 L558.85 68.23 L559.05 68.23 L559.26 68.23 L559.46 68.23 L559.66 68.23 L559.86 68.23 L560.06 68.23 L560.26 68.23 L560.47 68.23 L560.67 68.23 L560.87 68.23 L561.07 68.23 L561.27 68.23 L561.47 68.23 L561.68 68.23 L561.88 68.23 L562.08 68.23 L562.28 68.23 L562.48 68.23 L562.69 68.23 L562.89 68.23 L563.09 68.23 L563.29 68.23 L563.49 68.23 L563.69 68.23 L563.90 68.23 L564.10 68.23 L564.30 68.23 L564.50 68.23 L564.70 68.23 L564.90 68.23 L565.11 68.23 L565.31 68.23 L565.51 68.23 L565.71 68.23 L565.91 68.23 L566.12 68.23 L566.32 68.23 L566.52 68.23 L566.72 68.23 L566.92 68.23 L567.12 68.23 L567.33 68.23 L567.53 68.35 L567.73 68.73 L567.93 69.50 L568.13 70.67 L568.33 72.19 L568.54 74.00 L568.74 76.05 L568.94 78.29 L569.14 80.67 L569.34 83.13 L569.55 85.64 L569.75 88.13 L569.95 90.55 L570.15 92.86 L570.35 95.00 L570.55 96.93 L570.76 98.59 L570.96 99.93 L571.16 100.91 L571.36 101.51 L571.56 101.79 L571.76 101.89 L571.97 101.93 L572.17 101.98 L572.37 102.03 L572.57 102.07 L572.77 102.12 L572.98 102.17 L573.18 102.21 L573.38 102.26 L573.58 102.31 L573.78 102.35 L573.98 102.40 L574.19 102.44 L574.39 102.49 L574.59 102.54 L574.79 102.58 L574.99 102.63 L575.19 102.68 L575.40 102.72 L575.60 102.77 L575.80 102.82 L576.00 102.86 L576.20 102.91 L576.41 102.95 L576.61 102.98 L576.81 103.02 L577.01 103.05 L577.21 103.09 L577.41 103.12 L577.62 103.16 L577.82 103.19 L578.02 103.23 L578.22 103.26 L578.42 103.30 L578.62 103.33 L578.83 103.37 L579.03 103.40 L579.23 103.44 L579.43 103.47 L579.63 103.51 L579.84 103.54 L580.04 103.58 L580.24 103.61 L580.44 103.65 L580.64 103.68 L580.84 103.72 L581.05 103.75 L581.25 103.79 L581.45 103.82 L581.65 103.86 L581.85 103.89 L582.05 103.93 L582.26 103.96 L582.46 104.00 L582.66 104.01 L582.86 102.78 L583.06 100.10 L583.27 96.09 L583.47 92.08 L583.67 88.39 L583.87 85.01 L584.07 81.95 L584.27 79.20 L584.48 76.76 L584.68 74.63 L584.88 72.81 L585.08 71.30 L585.28 70.10 L585.48 69.21 L585.69 68.63 L585.89 68.33 L586.09 68.23 L586.29 68.23 L586.49 68.23 L586.70 68.23 L586.90 68.23 L587.10 68.23 L587.30 68.23 L587.50 68.23 L587.70 68.23 L587.91 68.23 L588.11 68.23 L588.31 68.23 L588.51 68.23 L588.71 68.23 L588.91 68.23 L589.12 68.23 L589.32 68.23 L589.52 68.23 L589.72 68.23 L589.92 68.23 L590.13 68.23 L590.33 68.23 L590.53 68.23 L590.73 68.23 L590.93 68.23 L591.13 68.23 L591.34 68.23 L591.54 68.23 L591.74 68.23 L591.94 68.23 L592.14 68.23 L592.34 68.23 L592.55 68.23 L592.75 68.23 L592.95 68.23 L593.15 68.23 L593.35 68.23 L593.56 68.23 L593.76 68.23 L593.96 68.23 L594.16 68.23 L594.36 68.23 L594.56 68.23 L594.77 68.23 L594.97 68.24 L595.17 68.40 L595.37 68.85 L595.57 69.71 L595.77 70.95 L595.98 72.53 L596.18 74.39 L596.38 76.48 L596.58 78.75 L596.78 81.15 L596.99 83.62 L597.19 86.13 L597.39 88.60 L597.59 91.01 L597.79 93.28 L597.99 95.39 L598.20 97.26 L598.40 98.86 L598.60 100.14 L598.80 101.06 L599.00 101.60 L599.20 101.84 L599.41 101.91 L599.61 101.95 L599.81 101.99 L600.01 102.03 L600.21 102.07 L600.42 102.11 L600.62 102.15 L600.82 102.19 L601.02 102.23 L601.22 102.27 L601.42 102.31 L601.63 102.35 L601.83 102.39 L602.03 102.43 L602.23 102.47 L602.43 102.51 L602.63 102.55 L602.84 102.59 L603.04 102.63 L603.24 102.67 L603.44 102.71 L603.64 102.75 L603.85 102.79 L604.05 102.83 L604.25 102.87 L604.45 102.91 L604.65 102.94 L604.85 102.96 L605.06 102.98 L605.26 103.01 L605.46 103.03 L605.66 103.05 L605.86 103.08 L606.06 103.10 L606.27 103.13 L606.47 103.15 L606.67 103.17 L606.87 103.20 L607.07 103.22 L607.28 103.25 L607.48 103.27 L607.68 103.29 L607.88 103.32 L608.08 103.34 L608.28 103.37 L608.49 103.39 L608.69 103.41 L608.89 103.44 L609.09 103.46 L609.29 103.49 L609.49 103.51 L609.70 103.53 L609.90 103.56 L610.10 103.57 L610.30 103.56 L610.50 102.63 L610.71 100.26 L610.91 96.55 L611.11 92.52 L611.31 88.80 L611.51 85.38 L611.71 82.26 L611.92 79.45 L612.12 76.94 L612.32 74.74 L612.52 72.84 L612.72 71.25 L612.92 69.97 L613.13 68.99 L613.33 68.31 L613.53 67.94 L613.73 67.78 L613.93 67.73 L614.14 67.70 L614.34 67.67 L614.54 67.64 L614.74 67.61 L614.94 67.58 L615.14 67.55 L615.35 67.52 L615.55 67.49 L615.75 67.46 L615.95 67.43 L616.15 67.40 L616.35 67.37 L616.56 67.34 L616.76 67.31 L616.96 67.28 L617.16 67.25 L617.36 67.22 L617.57 67.19 L617.77 67.16 L617.97 67.13 L618.17 67.10 L618.37 67.07 L618.57 67.04 L618.78 67.01 L618.98 66.98 L619.18 66.95 L619.38 66.92 L619.58 66.89 L619.78 66.86 L619.99 66.84 L620.19 66.81 L620.39 66.78 L620.59 66.75 L620.79 66.72 L621.00 66.69 L621.20 66.66 L621.40 66.63 L621.60 66.60 L621.80 66.57 L622.00 66.54 L622.21 66.51 L622.41 66.48 L622.61 66.48 L622.81 66.69 L623.01 67.23 L623.21 68.22 L623.42 69.60 L623.62 71.32 L623.82 73.33 L624.02 75.57 L624.22 77.99 L624.43 80.53 L624.63 83.14 L624.83 85.78 L625.03 88.37 L625.23 90.88 L625.43 93.25 L625.64 95.42 L625.84 97.35 L626.04 98.98 L626.24 100.26 L626.44 101.13 L626.64 101.59 L626.85 101.74 L627.05 101.75 L627.25 101.74 L627.45 101.73 L627.65 101.71 L627.86 101.70 L628.06 101.69 L628.26 101.68 L628.46 101.67 L628.66 101.66 L628.86 101.65 L629.07 101.64 L629.27 101.62 L629.47 101.61 L629.67 101.60 L629.87 101.59 L630.07 101.58 L630.28 101.58 L630.48 101.60 L630.68 101.62 L630.88 101.65 L631.08 101.68 L631.29 101.71 L631.49 101.74 L631.69 101.76 L631.89 101.79 L632.09 101.82 L632.29 101.85 L632.50 101.88 L632.70 101.90 L632.90 101.93 L633.10 101.96 L633.30 101.99 L633.50 102.02 L633.71 102.04 L633.91 102.07 L634.11 102.10 L634.31 102.13 L634.51 102.16 L634.72 102.18 L634.92 102.21 L635.12 102.23" fill="none" stroke="#e8323c" stroke-width="1.3" stroke-linejoin="round" stroke-linecap="round"/>
<path d="M549.57 104.03 L549.77 104.03 L549.97 104.03 L550.18 104.03 L550.38 104.03 L550.58 104.03 L550.78 104.03 L550.98 104.03 L551.18 104.03 L551.39 104.03 L551.59 104.03 L551.79 104.03 L551.99 104.03 L552.19 104.03 L552.40 104.03 L552.60 104.03 L552.80 104.03 L553.00 104.03 L553.20 104.03 L553.40 104.03 L553.61 104.03 L553.81 104.03 L554.01 104.03 L554.21 104.03 L554.41 104.03 L554.61 104.03 L554.82 104.03 L555.02 104.03 L555.22 101.60 L555.42 96.91 L555.62 90.13 L555.83 83.84 L556.03 78.05 L556.23 72.77 L556.43 67.98 L556.63 63.68 L556.83 59.89 L557.04 56.58 L557.24 53.78 L557.44 51.46 L557.64 49.65 L557.84 48.32 L558.04 47.48 L558.25 47.09 L558.45 46.97 L558.65 46.97 L558.85 46.97 L559.05 46.97 L559.26 46.97 L559.46 46.97 L559.66 46.97 L559.86 46.97 L560.06 46.97 L560.26 46.97 L560.47 46.97 L560.67 46.97 L560.87 46.97 L561.07 46.97 L561.27 46.97 L561.47 46.97 L561.68 46.97 L561.88 46.97 L562.08 46.97 L562.28 46.97 L562.48 46.97 L562.69 46.97 L562.89 46.97 L563.09 46.97 L563.29 46.97 L563.49 46.97 L563.69 46.97 L563.90 46.97 L564.10 46.97 L564.30 46.97 L564.50 46.97 L564.70 46.97 L564.90 46.97 L565.11 46.97 L565.31 46.97 L565.51 46.97 L565.71 46.97 L565.91 46.97 L566.12 46.97 L566.32 46.97 L566.52 46.97 L566.72 46.97 L566.92 46.97 L567.12 46.97 L567.33 46.97 L567.53 47.16 L567.73 47.78 L567.93 49.04 L568.13 50.95 L568.33 53.41 L568.54 56.36 L568.74 59.69 L568.94 63.34 L569.14 67.22 L569.34 71.24 L569.55 75.32 L569.75 79.39 L569.95 83.35 L570.15 87.12 L570.35 90.63 L570.55 93.79 L570.76 96.51 L570.96 98.72 L571.16 100.34 L571.36 101.31 L571.56 101.75 L571.76 101.89 L571.97 101.93 L572.17 101.98 L572.37 102.03 L572.57 102.07 L572.77 102.12 L572.98 102.17 L573.18 102.21 L573.38 102.26 L573.58 102.31 L573.78 102.35 L573.98 102.40 L574.19 102.44 L574.39 102.49 L574.59 102.54 L574.79 102.58 L574.99 102.63 L575.19 102.68 L575.40 102.72 L575.60 102.77 L575.80 102.82 L576.00 102.86 L576.20 102.91 L576.41 102.95 L576.61 102.98 L576.81 103.02 L577.01 103.05 L577.21 103.09 L577.41 103.12 L577.62 103.16 L577.82 103.19 L578.02 103.23 L578.22 103.26 L578.42 103.30 L578.62 103.33 L578.83 103.37 L579.03 103.40 L579.23 103.44 L579.43 103.47 L579.63 103.51 L579.84 103.54 L580.04 103.58 L580.24 103.61 L580.44 103.65 L580.64 103.68 L580.84 103.72 L581.05 103.75 L581.25 103.79 L581.45 103.82 L581.65 103.86 L581.85 103.89 L582.05 103.93 L582.26 103.96 L582.46 104.00 L582.66 104.01 L582.86 102.05 L583.06 97.79 L583.27 91.42 L583.47 85.03 L583.67 79.15 L583.87 73.77 L584.07 68.88 L584.27 64.49 L584.48 60.60 L584.68 57.20 L584.88 54.29 L585.08 51.88 L585.28 49.97 L585.48 48.54 L585.69 47.61 L585.89 47.14 L586.09 46.98 L586.29 46.97 L586.49 46.97 L586.70 46.97 L586.90 46.97 L587.10 46.97 L587.30 46.97 L587.50 46.97 L587.70 46.97 L587.91 46.97 L588.11 46.97 L588.31 46.97 L588.51 46.97 L588.71 46.97 L588.91 46.97 L589.12 46.97 L589.32 46.97 L589.52 46.97 L589.72 46.97 L589.92 46.97 L590.13 46.97 L590.33 46.97 L590.53 46.97 L590.73 46.97 L590.93 46.97 L591.13 46.97 L591.34 46.97 L591.54 46.97 L591.74 46.97 L591.94 46.97 L592.14 46.97 L592.34 46.97 L592.55 46.97 L592.75 46.97 L592.95 46.97 L593.15 46.97 L593.35 46.97 L593.56 46.97 L593.76 46.97 L593.96 46.97 L594.16 46.97 L594.36 46.97 L594.56 46.97 L594.77 46.97 L594.97 46.99 L595.17 47.25 L595.37 47.98 L595.57 49.37 L595.77 51.40 L595.98 53.96 L596.18 56.99 L596.38 60.40 L596.58 64.09 L596.78 68.01 L596.99 72.04 L597.19 76.13 L597.39 80.18 L597.59 84.10 L597.79 87.83 L597.99 91.27 L598.20 94.35 L598.40 96.98 L598.60 99.08 L598.80 100.59 L599.00 101.45 L599.20 101.82 L599.41 101.91 L599.61 101.95 L599.81 101.99 L600.01 102.03 L600.21 102.07 L600.42 102.11 L600.62 102.15 L600.82 102.19 L601.02 102.23 L601.22 102.27 L601.42 102.31 L601.63 102.35 L601.83 102.39 L602.03 102.43 L602.23 102.47 L602.43 102.51 L602.63 102.55 L602.84 102.59 L603.04 102.63 L603.24 102.67 L603.44 102.71 L603.64 102.75 L603.85 102.79 L604.05 102.83 L604.25 102.87 L604.45 102.91 L604.65 102.94 L604.85 102.96 L605.06 102.98 L605.26 103.01 L605.46 103.03 L605.66 103.05 L605.86 103.08 L606.06 103.10 L606.27 103.13 L606.47 103.15 L606.67 103.17 L606.87 103.20 L607.07 103.22 L607.28 103.25 L607.48 103.27 L607.68 103.29 L607.88 103.32 L608.08 103.34 L608.28 103.37 L608.49 103.39 L608.69 103.41 L608.89 103.44 L609.09 103.46 L609.29 103.49 L609.49 103.51 L609.70 103.53 L609.90 103.56 L610.10 103.57 L610.30 103.56 L610.50 102.07 L610.71 98.26 L610.91 92.29 L611.11 85.82 L611.31 79.84 L611.51 74.35 L611.71 69.36 L611.92 64.87 L612.12 60.87 L612.32 57.37 L612.52 54.36 L612.72 51.85 L612.92 49.83 L613.13 48.30 L613.33 47.26 L613.53 46.70 L613.73 46.49 L613.93 46.46 L614.14 46.45 L614.34 46.45 L614.54 46.45 L614.74 46.44 L614.94 46.44 L615.14 46.43 L615.35 46.43 L615.55 46.43 L615.75 46.42 L615.95 46.42 L616.15 46.42 L616.35 46.41 L616.56 46.41 L616.76 46.40 L616.96 46.40 L617.16 46.40 L617.36 46.39 L617.57 46.39 L617.77 46.39 L617.97 46.38 L618.17 46.38 L618.37 46.38 L618.57 46.37 L618.78 46.37 L618.98 46.36 L619.18 46.36 L619.38 46.36 L619.58 46.35 L619.78 46.35 L619.99 46.35 L620.19 46.34 L620.39 46.34 L620.59 46.33 L620.79 46.33 L621.00 46.33 L621.20 46.32 L621.40 46.32 L621.60 46.32 L621.80 46.31 L622.00 46.31 L622.21 46.30 L622.41 46.30 L622.61 46.35 L622.81 46.68 L623.01 47.54 L623.21 49.09 L623.42 51.25 L623.62 53.94 L623.82 57.08 L624.02 60.59 L624.22 64.38 L624.43 68.37 L624.63 72.47 L624.83 76.61 L625.03 80.68 L625.23 84.63 L625.43 88.35 L625.64 91.77 L625.84 94.80 L626.04 97.36 L626.24 99.38 L626.44 100.76 L626.64 101.49 L626.85 101.74 L627.05 101.75 L627.25 101.74 L627.45 101.73 L627.65 101.71 L627.86 101.70 L628.06 101.69 L628.26 101.68 L628.46 101.67 L628.66 101.66 L628.86 101.65 L629.07 101.64 L629.27 101.62 L629.47 101.61 L629.67 101.60 L629.87 101.59 L630.07 101.58 L630.28 101.58 L630.48 101.60 L630.68 101.62 L630.88 101.65 L631.08 101.68 L631.29 101.71 L631.49 101.74 L631.69 101.76 L631.89 101.79 L632.09 101.82 L632.29 101.85 L632.50 101.88 L632.70 101.90 L632.90 101.93 L633.10 101.96 L633.30 101.99 L633.50 102.02 L633.71 102.04 L633.91 102.07 L634.11 102.10 L634.31 102.13 L634.51 102.16 L634.72 102.18 L634.92 102.21 L635.12 102.23" fill="none" stroke="#3f72e6" stroke-width="1.3" stroke-linejoin="round" stroke-linecap="round"/>
<path d="M549.57 104.03 L549.77 104.03 L549.97 104.03 L550.18 104.03 L550.38 104.03 L550.58 104.03 L550.78 104.03 L550.98 104.03 L551.18 104.03 L551.39 104.03 L551.59 104.03 L551.79 104.03 L551.99 104.03 L552.19 104.03 L552.40 104.03 L552.60 104.03 L552.80 104.03 L553.00 104.03 L553.20 104.03 L553.40 104.03 L553.61 104.03 L553.81 104.03 L554.01 104.03 L554.21 104.03 L554.41 104.03 L554.61 104.03 L554.82 104.03 L555.02 104.03 L555.22 100.77 L555.42 94.46 L555.62 85.34 L555.83 76.88 L556.03 69.10 L556.23 61.98 L556.43 55.53 L556.63 49.74 L556.83 44.62 L557.04 40.17 L557.24 36.38 L557.44 33.26 L557.64 30.80 L557.84 29.00 L558.04 27.87 L558.25 27.33 L558.45 27.16 L558.65 27.15 L558.85 27.14 L559.05 27.13 L559.26 27.13 L559.46 27.12 L559.66 27.11 L559.86 27.10 L560.06 27.10 L560.26 27.09 L560.47 27.08 L560.67 27.08 L560.87 27.07 L561.07 27.06 L561.27 27.05 L561.47 27.05 L561.68 27.04 L561.88 27.03 L562.08 27.02 L562.28 27.02 L562.48 27.01 L562.69 27.00 L562.89 26.99 L563.09 26.99 L563.29 26.98 L563.49 26.97 L563.69 26.97 L563.90 26.96 L564.10 26.95 L564.30 26.94 L564.50 26.94 L564.70 26.93 L564.90 26.92 L565.11 26.91 L565.31 26.91 L565.51 26.90 L565.71 26.89 L565.91 26.88 L566.12 26.88 L566.32 26.87 L566.52 26.86 L566.72 26.85 L566.92 26.85 L567.12 26.84 L567.33 26.84 L567.53 27.10 L567.73 27.94 L567.93 29.66 L568.13 32.26 L568.33 35.62 L568.54 39.64 L568.74 44.20 L568.94 49.18 L569.14 54.48 L569.34 59.97 L569.55 65.55 L569.75 71.11 L569.95 76.52 L570.15 81.69 L570.35 86.49 L570.55 90.81 L570.76 94.54 L570.96 97.58 L571.16 99.80 L571.36 101.13 L571.56 101.72 L571.76 101.89 L571.97 101.93 L572.17 101.98 L572.37 102.03 L572.57 102.07 L572.77 102.12 L572.98 102.17 L573.18 102.21 L573.38 102.26 L573.58 102.31 L573.78 102.35 L573.98 102.40 L574.19 102.44 L574.39 102.49 L574.59 102.54 L574.79 102.58 L574.99 102.63 L575.19 102.68 L575.40 102.72 L575.60 102.77 L575.80 102.82 L576.00 102.86 L576.20 102.91 L576.41 102.95 L576.61 102.98 L576.81 103.02 L577.01 103.05 L577.21 103.09 L577.41 103.12 L577.62 103.16 L577.82 103.19 L578.02 103.23 L578.22 103.26 L578.42 103.30 L578.62 103.33 L578.83 103.37 L579.03 103.40 L579.23 103.44 L579.43 103.47 L579.63 103.51 L579.84 103.54 L580.04 103.58 L580.24 103.61 L580.44 103.65 L580.64 103.68 L580.84 103.72 L581.05 103.75 L581.25 103.79 L581.45 103.82 L581.65 103.86 L581.85 103.89 L582.05 103.93 L582.26 103.96 L582.46 104.00 L582.66 104.01 L582.86 101.32 L583.06 95.47 L583.27 86.70 L583.47 77.93 L583.67 69.85 L583.87 62.46 L584.07 55.76 L584.27 49.74 L584.48 44.40 L584.68 39.75 L584.88 35.78 L585.08 32.48 L585.28 29.87 L585.48 27.94 L585.69 26.68 L585.89 26.05 L586.09 25.85 L586.29 25.86 L586.49 25.88 L586.70 25.90 L586.90 25.92 L587.10 25.95 L587.30 25.97 L587.50 25.99 L587.70 26.01 L587.91 26.04 L588.11 26.06 L588.31 26.08 L588.51 26.10 L588.71 26.12 L588.91 26.15 L589.12 26.17 L589.32 26.19 L589.52 26.21 L589.72 26.24 L589.92 26.26 L590.13 26.28 L590.33 26.30 L590.53 26.32 L590.73 26.35 L590.93 26.37 L591.13 26.39 L591.34 26.41 L591.54 26.44 L591.74 26.46 L591.94 26.48 L592.14 26.50 L592.34 26.52 L592.55 26.55 L592.75 26.57 L592.95 26.59 L593.15 26.61 L593.35 26.64 L593.56 26.66 L593.76 26.68 L593.96 26.70 L594.16 26.72 L594.36 26.75 L594.56 26.77 L594.77 26.79 L594.97 26.84 L595.17 27.20 L595.37 28.21 L595.57 30.11 L595.77 32.87 L595.98 36.37 L596.18 40.51 L596.38 45.16 L596.58 50.21 L596.78 55.56 L596.99 61.08 L597.19 66.66 L597.39 72.19 L597.59 77.57 L597.79 82.66 L597.99 87.38 L598.20 91.59 L598.40 95.19 L598.60 98.07 L598.80 100.14 L599.00 101.31 L599.20 101.81 L599.41 101.91 L599.61 101.95 L599.81 101.99 L600.01 102.03 L600.21 102.07 L600.42 102.11 L600.62 102.15 L600.82 102.19 L601.02 102.23 L601.22 102.27 L601.42 102.31 L601.63 102.35 L601.83 102.39 L602.03 102.43 L602.23 102.47 L602.43 102.51 L602.63 102.55 L602.84 102.59 L603.04 102.63 L603.24 102.67 L603.44 102.71 L603.64 102.75 L603.85 102.79 L604.05 102.83 L604.25 102.87 L604.45 102.91 L604.65 102.94 L604.85 102.96 L605.06 102.98 L605.26 103.01 L605.46 103.03 L605.66 103.05 L605.86 103.08 L606.06 103.10 L606.27 103.13 L606.47 103.15 L606.67 103.17 L606.87 103.20 L607.07 103.22 L607.28 103.25 L607.48 103.27 L607.68 103.29 L607.88 103.32 L608.08 103.34 L608.28 103.37 L608.49 103.39 L608.69 103.41 L608.89 103.44 L609.09 103.46 L609.29 103.49 L609.49 103.51 L609.70 103.53 L609.90 103.56 L610.10 103.57 L610.30 103.56 L610.50 101.56 L610.71 96.44 L610.91 88.43 L611.11 79.72 L611.31 71.69 L611.51 64.32 L611.71 57.62 L611.92 51.59 L612.12 46.22 L612.32 41.53 L612.52 37.49 L612.72 34.12 L612.92 31.42 L613.13 29.37 L613.33 27.99 L613.53 27.26 L613.73 26.98 L613.93 26.95 L614.14 26.96 L614.34 26.97 L614.54 26.97 L614.74 26.98 L614.94 26.99 L615.14 27.00 L615.35 27.00 L615.55 27.01 L615.75 27.02 L615.95 27.03 L616.15 27.03 L616.35 27.04 L616.56 27.05 L616.76 27.05 L616.96 27.06 L617.16 27.07 L617.36 27.08 L617.57 27.08 L617.77 27.09 L617.97 27.10 L618.17 27.11 L618.37 27.11 L618.57 27.12 L618.78 27.13 L618.98 27.14 L619.18 27.14 L619.38 27.15 L619.58 27.16 L619.78 27.17 L619.99 27.17 L620.19 27.18 L620.39 27.19 L620.59 27.20 L620.79 27.20 L621.00 27.21 L621.20 27.22 L621.40 27.23 L621.60 27.23 L621.80 27.24 L622.00 27.25 L622.21 27.26 L622.41 27.26 L622.61 27.34 L622.81 27.79 L623.01 28.95 L623.21 31.02 L623.42 33.91 L623.62 37.53 L623.82 41.74 L624.02 46.45 L624.22 51.54 L624.43 56.89 L624.63 62.40 L624.83 67.94 L625.03 73.42 L625.23 78.72 L625.43 83.72 L625.64 88.31 L625.84 92.39 L626.04 95.84 L626.24 98.55 L626.44 100.42 L626.64 101.39 L626.85 101.73 L627.05 101.75 L627.25 101.74 L627.45 101.73 L627.65 101.71 L627.86 101.70 L628.06 101.69 L628.26 101.68 L628.46 101.67 L628.66 101.66 L628.86 101.65 L629.07 101.64 L629.27 101.62 L629.47 101.61 L629.67 101.60 L629.87 101.59 L630.07 101.58 L630.28 101.58 L630.48 101.60 L630.68 101.62 L630.88 101.65 L631.08 101.68 L631.29 101.71 L631.49 101.74 L631.69 101.76 L631.89 101.79 L632.09 101.82 L632.29 101.85 L632.50 101.88 L632.70 101.90 L632.90 101.93 L633.10 101.96 L633.30 101.99 L633.50 102.02 L633.71 102.04 L633.91 102.07 L634.11 102.10 L634.31 102.13 L634.51 102.16 L634.72 102.18 L634.92 102.21 L635.12 102.23" fill="none" stroke="#46b964" stroke-width="1.3" stroke-linejoin="round" stroke-linecap="round"/>
<path d="M632.30 25.60H646.70" stroke="#6a6a6a" stroke-width="1.8"/>
<text x="648.30" y="27.83" font-size="6.2" text-anchor="start" font-weight="bold" fill="#222" stroke="#222" stroke-width="0.18">40 wt%</text>
<path d="M632.30 33.40H646.70" stroke="#e8323c" stroke-width="1.8"/>
<text x="648.30" y="35.63" font-size="6.2" text-anchor="start" font-weight="bold" fill="#222" stroke="#222" stroke-width="0.18">50 wt%</text>
<path d="M632.30 41.20H646.70" stroke="#3f72e6" stroke-width="2.2"/>
<text x="648.30" y="43.43" font-size="6.2" text-anchor="start" font-weight="bold" fill="#222" stroke="#222" stroke-width="0.18">60 wt%</text>
<path d="M632.30 49.00H646.70" stroke="#46b964" stroke-width="2.0"/>
<text x="648.30" y="51.23" font-size="6.2" text-anchor="start" font-weight="bold" fill="#222" stroke="#222" stroke-width="0.18">70 wt%</text>
<rect x="29.70" y="158.20" width="138.30" height="100.60" fill="none" stroke="#7a7a7a" stroke-width="1"/>
<path d="M33.89 258.80v-2.2M50.65 258.80v-2.2M67.42 258.80v-2.2M84.18 258.80v-2.2M100.95 258.80v-2.2M117.71 258.80v-2.2M134.47 258.80v-2.2M151.24 258.80v-2.2M168.00 258.80v-2.2M42.27 258.80v-1.2M59.04 258.80v-1.2M75.80 258.80v-1.2M92.56 258.80v-1.2M109.33 258.80v-1.2M126.09 258.80v-1.2M142.85 258.80v-1.2M159.62 258.80v-1.2M29.70 255.55h2.2M29.70 242.57h2.2M29.70 229.59h2.2M29.70 216.61h2.2M29.70 203.63h2.2M29.70 190.65h2.2M29.70 177.67h2.2M29.70 164.69h2.2M29.70 249.06h1.2M29.70 236.08h1.2M29.70 223.10h1.2M29.70 210.12h1.2M29.70 197.14h1.2M29.70 184.16h1.2M29.70 171.18h1.2" stroke="#444" stroke-width="0.9" fill="none"/>
<text x="33.89" y="266.10" font-size="5.9" text-anchor="middle" font-weight="bold" fill="#222" stroke="#222" stroke-width="0.18">0</text>
<text x="50.65" y="266.10" font-size="5.9" text-anchor="middle" font-weight="bold" fill="#222" stroke="#222" stroke-width="0.18">20</text>
<text x="67.42" y="266.10" font-size="5.9" text-anchor="middle" font-weight="bold" fill="#222" stroke="#222" stroke-width="0.18">40</text>
<text x="84.18" y="266.10" font-size="5.9" text-anchor="middle" font-weight="bold" fill="#222" stroke="#222" stroke-width="0.18">60</text>
<text x="100.95" y="266.10" font-size="5.9" text-anchor="middle" font-weight="bold" fill="#222" stroke="#222" stroke-width="0.18">80</text>
<text x="117.71" y="266.10" font-size="5.9" text-anchor="middle" font-weight="bold" fill="#222" stroke="#222" stroke-width="0.18">100</text>
<text x="134.47" y="266.10" font-size="5.9" text-anchor="middle" font-weight="bold" fill="#222" stroke="#222" stroke-width="0.18">120</text>
<text x="151.24" y="266.10" font-size="5.9" text-anchor="middle" font-weight="bold" fill="#222" stroke="#222" stroke-width="0.18">140</text>
<text x="168.00" y="266.10" font-size="5.9" text-anchor="middle" font-weight="bold" fill="#222" stroke="#222" stroke-width="0.18">160</text>
<text x="26.70" y="257.68" font-size="5.9" text-anchor="end" font-weight="bold" fill="#222" stroke="#222" stroke-width="0.18">0</text>
<text x="26.70" y="244.70" font-size="5.9" text-anchor="end" font-weight="bold" fill="#222" stroke="#222" stroke-width="0.18">20</text>
<text x="26.70" y="231.72" font-size="5.9" text-anchor="end" font-weight="bold" fill="#222" stroke="#222" stroke-width="0.18">40</text>
<text x="26.70" y="218.74" font-size="5.9" text-anchor="end" font-weight="bold" fill="#222" stroke="#222" stroke-width="0.18">60</text>
<text x="26.70" y="205.76" font-size="5.9" text-anchor="end" font-weight="bold" fill="#222" stroke="#222" stroke-width="0.18">80</text>
<text x="26.70" y="192.78" font-size="5.9" text-anchor="end" font-weight="bold" fill="#222" stroke="#222" stroke-width="0.18">100</text>
<text x="26.70" y="179.79" font-size="5.9" text-anchor="end" font-weight="bold" fill="#222" stroke="#222" stroke-width="0.18">120</text>
<text x="26.70" y="166.81" font-size="5.9" text-anchor="end" font-weight="bold" fill="#222" stroke="#222" stroke-width="0.18">140</text>
<text x="2.40" y="156.80" font-size="13.1" text-anchor="start" font-weight="bold" fill="#111" stroke="#111" stroke-width="0" textLength="16.2" lengthAdjust="spacingAndGlyphs">(e)</text>
<text x="8.75" y="207.50" font-size="8.0" text-anchor="middle" font-weight="bold" fill="#222" stroke="#222" stroke-width="0.18" transform="rotate(-90 8.75 207.50)" textLength="92.5" lengthAdjust="spacingAndGlyphs">Capacitance change (%)</text>
<text x="98.90" y="278.10" font-size="7.7" text-anchor="middle" font-weight="bold" fill="#222" stroke="#222" stroke-width="0.18" textLength="33.8" lengthAdjust="spacingAndGlyphs">Times (s)</text>
<path d="M31.38 255.58 L31.59 255.60 L31.80 255.54 L32.01 255.60 L32.21 255.55 L32.42 255.57 L32.63 255.61 L32.84 255.55 L33.05 255.61 L33.26 255.56 L33.47 255.61 L33.68 255.60 L33.89 255.56 L34.10 255.52 L34.31 255.60 L34.52 255.59 L34.73 255.54 L34.94 255.50 L35.15 255.55 L35.36 255.57 L35.57 255.50 L35.78 255.61 L35.99 255.51 L36.20 255.58 L36.41 255.60 L36.62 255.60 L36.82 255.58 L37.03 255.52 L37.24 255.59 L37.45 255.55 L37.66 255.54 L37.87 255.57 L38.08 255.55 L38.29 255.61 L38.50 255.61 L38.71 255.59 L38.92 255.53 L39.13 255.56 L39.34 255.58 L39.55 255.54 L39.76 255.56 L39.97 255.58 L40.18 255.52 L40.39 255.53 L40.60 255.58 L40.81 255.55 L41.02 255.55 L41.23 255.51 L41.43 255.53 L41.64 255.58 L41.85 255.50 L42.06 255.60 L42.27 255.56 L42.48 255.52 L42.69 255.60 L42.90 255.56 L43.11 255.61 L43.32 255.54 L43.53 255.52 L43.74 255.55 L43.95 255.51 L44.16 255.58 L44.37 255.53 L44.58 255.54 L44.79 255.55 L45.00 255.56 L45.21 255.52 L45.42 255.50 L45.63 255.56 L45.84 255.54 L46.04 255.61 L46.25 255.53 L46.46 255.54 L46.67 255.50 L46.88 255.52 L47.09 255.58 L47.30 255.57 L47.51 255.54 L47.72 255.61 L47.93 255.56 L48.14 255.59 L48.35 255.60 L48.56 255.61 L48.77 255.52 L48.98 255.60 L49.19 255.58 L49.40 251.24 L49.61 240.10 L49.82 233.76 L50.03 233.53 L50.24 233.41 L50.45 233.21 L50.65 233.16 L50.86 233.08 L51.07 233.24 L51.28 233.13 L51.49 233.10 L51.70 232.84 L51.91 232.76 L52.12 233.03 L52.33 232.98 L52.54 232.92 L52.75 232.88 L52.96 232.75 L53.17 232.67 L53.38 232.77 L53.59 232.84 L53.80 232.65 L54.01 232.64 L54.22 232.54 L54.43 232.37 L54.64 232.45 L54.85 232.50 L55.05 232.44 L55.26 232.40 L55.47 232.62 L55.68 232.28 L55.89 232.31 L56.10 232.26 L56.31 232.28 L56.52 232.42 L56.73 232.41 L56.94 232.51 L57.15 232.30 L57.36 232.51 L57.57 232.50 L57.78 232.43 L57.99 232.44 L58.20 232.37 L58.41 232.47 L58.62 232.49 L58.83 232.42 L59.04 232.43 L59.25 232.33 L59.46 232.45 L59.67 232.12 L59.87 232.22 L60.08 232.39 L60.29 232.35 L60.50 232.31 L60.71 232.30 L60.92 232.39 L61.13 232.10 L61.34 232.04 L61.55 232.25 L61.76 232.24 L61.97 232.39 L62.18 232.38 L62.39 232.28 L62.60 232.31 L62.81 232.09 L63.02 232.35 L63.23 232.40 L63.44 232.04 L63.65 232.20 L63.86 232.35 L64.07 232.19 L64.28 232.39 L64.48 232.20 L64.69 232.02 L64.90 231.81 L65.11 243.42 L65.32 249.28 L65.53 252.07 L65.74 253.56 L65.95 254.05 L66.16 254.52 L66.37 254.64 L66.58 254.95 L66.79 255.00 L67.00 254.99 L67.21 255.02 L67.42 255.08 L67.63 255.12 L67.84 255.15 L68.05 255.19 L68.26 255.28 L68.47 255.27 L68.68 255.31 L68.89 255.37 L69.09 255.39 L69.30 255.38 L69.51 255.40 L69.72 255.36 L69.93 255.34 L70.14 255.42 L70.35 255.37 L70.56 255.37 L70.77 255.39 L70.98 255.47 L71.19 255.49 L71.40 255.50 L71.61 255.51 L71.82 255.51 L72.03 255.47 L72.24 255.44 L72.45 255.46 L72.66 255.50 L72.87 255.49 L73.08 255.47 L73.29 255.56 L73.50 255.50 L73.70 255.47 L73.91 255.49 L74.12 255.50 L74.33 255.53 L74.54 255.57 L74.75 255.50 L74.96 255.55 L75.17 255.50 L75.38 255.48 L75.59 255.55 L75.80 255.55 L76.01 255.49 L76.22 255.52 L76.43 255.58 L76.64 255.59 L76.85 255.59 L77.06 255.50 L77.27 255.51 L77.48 255.59 L77.69 255.51 L77.90 255.49 L78.11 255.53 L78.31 255.57 L78.52 255.54 L78.73 255.59 L78.94 255.61 L79.15 255.50 L79.36 255.53 L79.57 255.55 L79.78 255.50 L79.99 255.56 L80.20 253.24 L80.41 242.32 L80.62 233.73 L80.83 233.63 L81.04 233.53 L81.25 233.47 L81.46 233.27 L81.67 233.33 L81.88 233.20 L82.09 233.25 L82.30 232.89 L82.51 233.06 L82.72 232.97 L82.92 232.87 L83.13 232.71 L83.34 232.85 L83.55 232.62 L83.76 232.75 L83.97 232.70 L84.18 232.67 L84.39 232.84 L84.60 232.65 L84.81 232.72 L85.02 232.77 L85.23 232.43 L85.44 232.66 L85.65 232.52 L85.86 232.40 L86.07 232.45 L86.28 232.52 L86.49 232.43 L86.70 232.40 L86.91 232.30 L87.12 232.55 L87.33 232.36 L87.53 232.47 L87.74 232.45 L87.95 232.24 L88.16 232.34 L88.37 232.31 L88.58 232.22 L88.79 232.15 L89.00 232.33 L89.21 232.26 L89.42 232.29 L89.63 232.28 L89.84 232.21 L90.05 232.29 L90.26 232.26 L90.47 232.27 L90.68 232.09 L90.89 232.18 L91.10 232.11 L91.31 232.08 L91.52 232.34 L91.73 232.22 L91.94 232.07 L92.14 232.10 L92.35 232.37 L92.56 232.38 L92.77 232.25 L92.98 232.39 L93.19 232.32 L93.40 232.39 L93.61 232.15 L93.82 232.11 L94.03 232.06 L94.24 232.35 L94.45 232.13 L94.66 231.89 L94.87 243.64 L95.08 249.04 L95.29 251.83 L95.50 253.54 L95.71 253.98 L95.92 254.58 L96.13 254.76 L96.34 254.69 L96.55 254.93 L96.75 255.07 L96.96 255.09 L97.17 255.12 L97.38 255.18 L97.59 255.23 L97.80 255.24 L98.01 255.22 L98.22 255.33 L98.43 255.29 L98.64 255.32 L98.85 255.39 L99.06 255.37 L99.27 255.35 L99.48 255.38 L99.69 255.45 L99.90 255.35 L100.11 255.39 L100.32 255.38 L100.53 255.49 L100.74 255.48 L100.95 255.51 L101.16 255.43 L101.36 255.50 L101.57 255.52 L101.78 255.50 L101.99 255.44 L102.20 255.46 L102.41 255.53 L102.62 255.55 L102.83 255.46 L103.04 255.50 L103.25 255.49 L103.46 255.57 L103.67 255.57 L103.88 255.50 L104.09 255.54 L104.30 255.58 L104.51 255.48 L104.72 255.52 L104.93 255.50 L105.14 255.59 L105.35 255.50 L105.56 255.59 L105.77 255.50 L105.97 255.55 L106.18 255.56 L106.39 255.54 L106.60 255.49 L106.81 255.57 L107.02 255.59 L107.23 255.54 L107.44 255.58 L107.65 255.59 L107.86 255.59 L108.07 255.60 L108.28 255.58 L108.49 255.57 L108.70 255.57 L108.91 255.52 L109.12 255.58 L109.33 255.55 L109.54 255.59 L109.75 246.89 L109.96 236.03 L110.17 233.66 L110.38 233.67 L110.58 233.31 L110.79 233.31 L111.00 233.38 L111.21 233.20 L111.42 232.96 L111.63 233.23 L111.84 232.90 L112.05 233.00 L112.26 232.93 L112.47 232.75 L112.68 232.88 L112.89 232.80 L113.10 232.69 L113.31 232.54 L113.52 232.76 L113.73 232.53 L113.94 232.55 L114.15 232.56 L114.36 232.62 L114.57 232.62 L114.78 232.71 L114.99 232.66 L115.19 232.66 L115.40 232.38 L115.61 232.56 L115.82 232.57 L116.03 232.59 L116.24 232.28 L116.45 232.26 L116.66 232.32 L116.87 232.46 L117.08 232.46 L117.29 232.43 L117.50 232.36 L117.71 232.47 L117.92 232.35 L118.13 232.41 L118.34 232.13 L118.55 232.12 L118.76 232.28 L118.97 232.39 L119.18 232.10 L119.39 232.35 L119.60 232.33 L119.80 232.46 L120.01 232.31 L120.22 232.27 L120.43 232.25 L120.64 232.37 L120.85 232.24 L121.06 232.44 L121.27 232.33 L121.48 232.40 L121.69 232.27 L121.90 232.41 L122.11 232.41 L122.32 232.30 L122.53 232.33 L122.74 232.19 L122.95 232.21 L123.16 232.12 L123.37 232.16 L123.58 232.13 L123.79 232.07 L124.00 232.00 L124.21 243.57 L124.41 249.00 L124.62 252.15 L124.83 253.34 L125.04 254.10 L125.25 254.72 L125.46 254.62 L125.67 254.73 L125.88 254.95 L126.09 255.00 L126.30 255.04 L126.51 255.16 L126.72 255.15 L126.93 255.19 L127.14 255.18 L127.35 255.21 L127.56 255.23 L127.77 255.28 L127.98 255.27 L128.19 255.31 L128.40 255.33 L128.61 255.40 L128.81 255.44 L129.02 255.44 L129.23 255.43 L129.44 255.47 L129.65 255.39 L129.86 255.43 L130.07 255.44 L130.28 255.44 L130.49 255.45 L130.70 255.47 L130.91 255.54 L131.12 255.45 L131.33 255.46 L131.54 255.50 L131.75 255.50 L131.96 255.49 L132.17 255.56 L132.38 255.49 L132.59 255.55 L132.80 255.57 L133.01 255.55 L133.22 255.50 L133.43 255.56 L133.63 255.50 L133.84 255.48 L134.05 255.53 L134.26 255.55 L134.47 255.54 L134.68 255.52 L134.89 255.51 L135.10 255.53 L135.31 255.53 L135.52 255.59 L135.73 255.59 L135.94 255.57 L136.15 255.52 L136.36 255.57 L136.57 255.54 L136.78 255.60 L136.99 255.60 L137.20 255.58 L137.41 255.53 L137.62 255.53 L137.83 255.53 L138.03 255.57 L138.24 255.55 L138.45 255.56 L138.66 255.56" fill="none" stroke="#333333" stroke-width="1.2" stroke-linejoin="round" stroke-linecap="round"/>
<path d="M31.38 255.60 L31.59 255.51 L31.80 255.59 L32.01 255.50 L32.21 255.50 L32.42 255.61 L32.63 255.56 L32.84 255.52 L33.05 255.50 L33.26 255.56 L33.47 255.58 L33.68 255.59 L33.89 255.50 L34.10 255.59 L34.31 255.55 L34.52 255.60 L34.73 255.55 L34.94 255.50 L35.15 255.60 L35.36 255.52 L35.57 255.55 L35.78 255.51 L35.99 255.53 L36.20 255.59 L36.41 255.51 L36.62 255.56 L36.82 255.61 L37.03 255.61 L37.24 255.56 L37.45 255.56 L37.66 255.58 L37.87 255.60 L38.08 255.57 L38.29 255.58 L38.50 255.52 L38.71 255.61 L38.92 255.53 L39.13 255.52 L39.34 255.60 L39.55 255.51 L39.76 255.53 L39.97 255.51 L40.18 255.58 L40.39 255.57 L40.60 255.57 L40.81 255.50 L41.02 255.54 L41.23 255.57 L41.43 255.56 L41.64 255.58 L41.85 255.61 L42.06 255.60 L42.27 255.52 L42.48 255.58 L42.69 255.50 L42.90 255.58 L43.11 255.58 L43.32 255.55 L43.53 255.59 L43.74 255.57 L43.95 255.50 L44.16 255.51 L44.37 255.52 L44.58 255.54 L44.79 255.51 L45.00 255.50 L45.21 255.55 L45.42 255.53 L45.63 255.61 L45.84 255.53 L46.04 255.56 L46.25 255.53 L46.46 255.54 L46.67 255.58 L46.88 255.61 L47.09 255.50 L47.30 255.60 L47.51 255.56 L47.72 255.57 L47.93 255.58 L48.14 255.53 L48.35 255.50 L48.56 255.58 L48.77 255.54 L48.98 255.58 L49.19 255.55 L49.40 249.13 L49.61 232.94 L49.82 223.06 L50.03 222.91 L50.24 222.52 L50.45 222.57 L50.65 222.57 L50.86 222.20 L51.07 222.08 L51.28 222.20 L51.49 222.24 L51.70 222.14 L51.91 222.11 L52.12 221.95 L52.33 221.98 L52.54 221.86 L52.75 221.80 L52.96 221.62 L53.17 221.45 L53.38 221.46 L53.59 221.54 L53.80 221.50 L54.01 221.42 L54.22 221.44 L54.43 221.42 L54.64 221.50 L54.85 221.39 L55.05 221.09 L55.26 221.39 L55.47 221.22 L55.68 221.14 L55.89 221.03 L56.10 221.26 L56.31 221.22 L56.52 221.21 L56.73 221.14 L56.94 221.10 L57.15 220.89 L57.36 220.92 L57.57 220.89 L57.78 221.21 L57.99 221.20 L58.20 220.92 L58.41 220.84 L58.62 220.99 L58.83 220.94 L59.04 221.16 L59.25 221.00 L59.46 220.78 L59.67 220.82 L59.87 220.80 L60.08 220.75 L60.29 221.02 L60.50 221.07 L60.71 221.05 L60.92 220.90 L61.13 220.83 L61.34 220.73 L61.55 220.81 L61.76 220.83 L61.97 220.78 L62.18 220.90 L62.39 220.86 L62.60 221.06 L62.81 220.77 L63.02 220.98 L63.23 220.71 L63.44 220.81 L63.65 220.94 L63.86 221.01 L64.07 220.96 L64.28 220.81 L64.48 220.78 L64.69 221.01 L64.90 220.65 L65.11 237.63 L65.32 246.06 L65.53 250.34 L65.74 252.50 L65.95 253.43 L66.16 254.23 L66.37 254.44 L66.58 254.57 L66.79 254.50 L67.00 254.72 L67.21 254.70 L67.42 254.91 L67.63 255.00 L67.84 255.04 L68.05 255.00 L68.26 255.07 L68.47 255.16 L68.68 255.22 L68.89 255.20 L69.09 255.21 L69.30 255.26 L69.51 255.31 L69.72 255.28 L69.93 255.27 L70.14 255.37 L70.35 255.41 L70.56 255.39 L70.77 255.40 L70.98 255.38 L71.19 255.45 L71.40 255.39 L71.61 255.41 L71.82 255.44 L72.03 255.49 L72.24 255.41 L72.45 255.49 L72.66 255.44 L72.87 255.51 L73.08 255.52 L73.29 255.46 L73.50 255.52 L73.70 255.45 L73.91 255.51 L74.12 255.55 L74.33 255.55 L74.54 255.53 L74.75 255.50 L74.96 255.47 L75.17 255.57 L75.38 255.54 L75.59 255.56 L75.80 255.48 L76.01 255.58 L76.22 255.59 L76.43 255.59 L76.64 255.55 L76.85 255.49 L77.06 255.50 L77.27 255.51 L77.48 255.49 L77.69 255.49 L77.90 255.56 L78.11 255.58 L78.31 255.50 L78.52 255.52 L78.73 255.60 L78.94 255.53 L79.15 255.56 L79.36 255.56 L79.57 255.57 L79.78 255.59 L79.99 255.61 L80.20 252.41 L80.41 236.13 L80.62 222.77 L80.83 222.97 L81.04 222.52 L81.25 222.70 L81.46 222.54 L81.67 222.26 L81.88 222.16 L82.09 222.23 L82.30 222.29 L82.51 222.05 L82.72 222.02 L82.92 221.73 L83.13 221.95 L83.34 221.82 L83.55 221.56 L83.76 221.84 L83.97 221.65 L84.18 221.44 L84.39 221.42 L84.60 221.66 L84.81 221.62 L85.02 221.57 L85.23 221.20 L85.44 221.43 L85.65 221.21 L85.86 221.12 L86.07 221.31 L86.28 221.31 L86.49 221.02 L86.70 221.13 L86.91 221.25 L87.12 221.05 L87.33 221.19 L87.53 221.19 L87.74 221.28 L87.95 220.97 L88.16 220.89 L88.37 220.99 L88.58 220.86 L88.79 221.20 L89.00 221.11 L89.21 221.00 L89.42 220.81 L89.63 220.80 L89.84 221.01 L90.05 221.06 L90.26 220.98 L90.47 220.95 L90.68 220.77 L90.89 221.05 L91.10 220.81 L91.31 220.83 L91.52 220.79 L91.73 220.80 L91.94 220.86 L92.14 220.97 L92.35 220.97 L92.56 220.95 L92.77 220.78 L92.98 221.05 L93.19 221.00 L93.40 220.78 L93.61 220.97 L93.82 221.04 L94.03 221.05 L94.24 220.85 L94.45 220.93 L94.66 220.30 L94.87 237.49 L95.08 245.91 L95.29 250.38 L95.50 252.56 L95.71 253.63 L95.92 254.04 L96.13 254.28 L96.34 254.57 L96.55 254.78 L96.75 254.81 L96.96 254.80 L97.17 254.89 L97.38 254.94 L97.59 254.97 L97.80 255.04 L98.01 255.14 L98.22 255.09 L98.43 255.19 L98.64 255.19 L98.85 255.24 L99.06 255.23 L99.27 255.31 L99.48 255.33 L99.69 255.35 L99.90 255.38 L100.11 255.31 L100.32 255.36 L100.53 255.41 L100.74 255.41 L100.95 255.35 L101.16 255.42 L101.36 255.47 L101.57 255.41 L101.78 255.43 L101.99 255.40 L102.20 255.51 L102.41 255.48 L102.62 255.44 L102.83 255.45 L103.04 255.44 L103.25 255.55 L103.46 255.53 L103.67 255.55 L103.88 255.55 L104.09 255.46 L104.30 255.51 L104.51 255.47 L104.72 255.54 L104.93 255.48 L105.14 255.53 L105.35 255.56 L105.56 255.50 L105.77 255.48 L105.97 255.58 L106.18 255.53 L106.39 255.52 L106.60 255.57 L106.81 255.56 L107.02 255.58 L107.23 255.58 L107.44 255.57 L107.65 255.53 L107.86 255.53 L108.07 255.58 L108.28 255.60 L108.49 255.57 L108.70 255.53 L108.91 255.59 L109.12 255.57 L109.33 255.58 L109.54 255.52 L109.75 242.57 L109.96 226.43 L110.17 223.03 L110.38 222.79 L110.58 222.61 L110.79 222.47 L111.00 222.58 L111.21 222.46 L111.42 222.16 L111.63 222.18 L111.84 222.15 L112.05 222.07 L112.26 221.75 L112.47 221.93 L112.68 221.77 L112.89 221.79 L113.10 221.71 L113.31 221.49 L113.52 221.39 L113.73 221.59 L113.94 221.61 L114.15 221.37 L114.36 221.53 L114.57 221.57 L114.78 221.19 L114.99 221.35 L115.19 221.16 L115.40 221.30 L115.61 221.08 L115.82 221.22 L116.03 221.32 L116.24 221.35 L116.45 221.12 L116.66 221.07 L116.87 220.95 L117.08 221.25 L117.29 221.03 L117.50 221.11 L117.71 221.04 L117.92 221.17 L118.13 221.11 L118.34 221.00 L118.55 220.83 L118.76 221.14 L118.97 220.98 L119.18 220.85 L119.39 220.78 L119.60 221.07 L119.80 221.09 L120.01 220.77 L120.22 220.75 L120.43 220.93 L120.64 221.10 L120.85 220.75 L121.06 220.95 L121.27 220.75 L121.48 220.85 L121.69 220.77 L121.90 221.03 L122.11 220.78 L122.32 220.99 L122.53 220.92 L122.74 220.74 L122.95 220.75 L123.16 221.00 L123.37 220.98 L123.58 220.91 L123.79 220.86 L124.00 220.53 L124.21 237.79 L124.41 246.20 L124.62 250.20 L124.83 252.24 L125.04 253.65 L125.25 254.02 L125.46 254.26 L125.67 254.73 L125.88 254.55 L126.09 254.92 L126.30 254.81 L126.51 254.90 L126.72 254.95 L126.93 255.04 L127.14 255.07 L127.35 255.09 L127.56 255.14 L127.77 255.15 L127.98 255.20 L128.19 255.23 L128.40 255.31 L128.61 255.26 L128.81 255.30 L129.02 255.35 L129.23 255.31 L129.44 255.32 L129.65 255.38 L129.86 255.42 L130.07 255.40 L130.28 255.46 L130.49 255.47 L130.70 255.44 L130.91 255.49 L131.12 255.46 L131.33 255.46 L131.54 255.52 L131.75 255.46 L131.96 255.53 L132.17 255.46 L132.38 255.46 L132.59 255.50 L132.80 255.55 L133.01 255.51 L133.22 255.52 L133.43 255.46 L133.63 255.56 L133.84 255.48 L134.05 255.47 L134.26 255.50 L134.47 255.49 L134.68 255.57 L134.89 255.48 L135.10 255.53 L135.31 255.48 L135.52 255.49 L135.73 255.58 L135.94 255.51 L136.15 255.49 L136.36 255.59 L136.57 255.56 L136.78 255.51 L136.99 255.58 L137.20 255.50 L137.41 255.57 L137.62 255.51 L137.83 255.59 L138.03 255.55 L138.24 255.50 L138.45 255.58 L138.66 255.58" fill="none" stroke="#e8323c" stroke-width="1.2" stroke-linejoin="round" stroke-linecap="round"/>
<path d="M31.38 255.55 L31.59 255.58 L31.80 255.61 L32.01 255.59 L32.21 255.59 L32.42 255.50 L32.63 255.53 L32.84 255.51 L33.05 255.59 L33.26 255.52 L33.47 255.60 L33.68 255.55 L33.89 255.54 L34.10 255.57 L34.31 255.51 L34.52 255.55 L34.73 255.55 L34.94 255.51 L35.15 255.60 L35.36 255.50 L35.57 255.54 L35.78 255.57 L35.99 255.52 L36.20 255.58 L36.41 255.50 L36.62 255.55 L36.82 255.57 L37.03 255.52 L37.24 255.56 L37.45 255.59 L37.66 255.53 L37.87 255.61 L38.08 255.52 L38.29 255.58 L38.50 255.54 L38.71 255.50 L38.92 255.54 L39.13 255.54 L39.34 255.58 L39.55 255.61 L39.76 255.61 L39.97 255.60 L40.18 255.54 L40.39 255.56 L40.60 255.55 L40.81 255.51 L41.02 255.60 L41.23 255.59 L41.43 255.54 L41.64 255.61 L41.85 255.61 L42.06 255.57 L42.27 255.60 L42.48 255.57 L42.69 255.59 L42.90 255.55 L43.11 255.54 L43.32 255.59 L43.53 255.54 L43.74 255.56 L43.95 255.60 L44.16 255.50 L44.37 255.58 L44.58 255.60 L44.79 255.60 L45.00 255.54 L45.21 255.51 L45.42 255.52 L45.63 255.57 L45.84 255.58 L46.04 255.61 L46.25 255.54 L46.46 255.55 L46.67 255.57 L46.88 255.54 L47.09 255.56 L47.30 255.50 L47.51 255.53 L47.72 255.58 L47.93 255.51 L48.14 255.61 L48.35 255.55 L48.56 255.57 L48.77 255.59 L48.98 255.61 L49.19 255.52 L49.40 246.49 L49.61 223.01 L49.82 208.72 L50.03 208.85 L50.24 208.66 L50.45 208.34 L50.65 208.23 L50.86 208.04 L51.07 207.84 L51.28 207.96 L51.49 207.79 L51.70 207.69 L51.91 207.68 L52.12 207.26 L52.33 207.21 L52.54 207.15 L52.75 207.34 L52.96 206.94 L53.17 206.91 L53.38 206.95 L53.59 206.78 L53.80 206.83 L54.01 206.87 L54.22 206.86 L54.43 206.76 L54.64 206.79 L54.85 206.64 L55.05 206.43 L55.26 206.42 L55.47 206.32 L55.68 206.34 L55.89 206.48 L56.10 206.34 L56.31 206.36 L56.52 206.20 L56.73 206.28 L56.94 206.35 L57.15 206.18 L57.36 206.04 L57.57 206.31 L57.78 206.03 L57.99 206.35 L58.20 206.24 L58.41 206.24 L58.62 206.03 L58.83 205.93 L59.04 206.00 L59.25 206.15 L59.46 205.92 L59.67 206.13 L59.87 206.15 L60.08 205.89 L60.29 205.98 L60.50 205.95 L60.71 205.96 L60.92 205.83 L61.13 206.02 L61.34 205.87 L61.55 205.92 L61.76 205.85 L61.97 206.01 L62.18 205.89 L62.39 205.95 L62.60 206.04 L62.81 206.08 L63.02 205.91 L63.23 206.12 L63.44 205.80 L63.65 206.09 L63.86 206.13 L64.07 206.10 L64.28 205.78 L64.48 206.00 L64.69 206.08 L64.90 205.59 L65.11 230.12 L65.32 241.96 L65.53 247.98 L65.74 250.96 L65.95 252.49 L66.16 253.56 L66.37 253.81 L66.58 254.18 L66.79 254.18 L67.00 254.31 L67.21 254.39 L67.42 254.80 L67.63 254.57 L67.84 254.62 L68.05 254.67 L68.26 255.05 L68.47 254.99 L68.68 255.05 L68.89 255.10 L69.09 255.05 L69.30 255.09 L69.51 255.14 L69.72 255.15 L69.93 255.20 L70.14 255.27 L70.35 255.32 L70.56 255.34 L70.77 255.28 L70.98 255.37 L71.19 255.37 L71.40 255.38 L71.61 255.44 L71.82 255.42 L72.03 255.43 L72.24 255.40 L72.45 255.45 L72.66 255.46 L72.87 255.40 L73.08 255.46 L73.29 255.43 L73.50 255.46 L73.70 255.53 L73.91 255.50 L74.12 255.50 L74.33 255.46 L74.54 255.52 L74.75 255.48 L74.96 255.50 L75.17 255.55 L75.38 255.47 L75.59 255.57 L75.80 255.48 L76.01 255.56 L76.22 255.59 L76.43 255.56 L76.64 255.50 L76.85 255.48 L77.06 255.59 L77.27 255.54 L77.48 255.54 L77.69 255.50 L77.90 255.58 L78.11 255.54 L78.31 255.56 L78.52 255.51 L78.73 255.57 L78.94 255.49 L79.15 255.57 L79.36 255.58 L79.57 255.52 L79.78 255.55 L79.99 255.60 L80.20 250.88 L80.41 227.86 L80.62 208.82 L80.83 208.67 L81.04 208.47 L81.25 208.37 L81.46 208.32 L81.67 208.16 L81.88 208.03 L82.09 207.71 L82.30 207.90 L82.51 207.48 L82.72 207.71 L82.92 207.54 L83.13 207.43 L83.34 207.09 L83.55 207.17 L83.76 207.14 L83.97 206.87 L84.18 207.05 L84.39 206.90 L84.60 206.82 L84.81 206.67 L85.02 206.62 L85.23 206.61 L85.44 206.68 L85.65 206.65 L85.86 206.67 L86.07 206.37 L86.28 206.40 L86.49 206.34 L86.70 206.53 L86.91 206.39 L87.12 206.23 L87.33 206.28 L87.53 206.43 L87.74 206.28 L87.95 206.09 L88.16 206.33 L88.37 206.32 L88.58 206.26 L88.79 206.09 L89.00 206.02 L89.21 206.27 L89.42 206.26 L89.63 206.21 L89.84 206.17 L90.05 206.08 L90.26 206.21 L90.47 206.13 L90.68 206.18 L90.89 205.86 L91.10 205.95 L91.31 206.18 L91.52 205.84 L91.73 206.17 L91.94 206.05 L92.14 205.81 L92.35 205.88 L92.56 205.90 L92.77 206.01 L92.98 206.10 L93.19 205.92 L93.40 206.12 L93.61 206.08 L93.82 206.01 L94.03 206.14 L94.24 206.00 L94.45 205.84 L94.66 205.33 L94.87 229.94 L95.08 241.98 L95.29 248.04 L95.50 251.18 L95.71 252.54 L95.92 253.43 L96.13 253.75 L96.34 253.96 L96.55 254.33 L96.75 254.41 L96.96 254.45 L97.17 254.66 L97.38 254.82 L97.59 254.69 L97.80 254.69 L98.01 254.79 L98.22 254.93 L98.43 254.96 L98.64 255.02 L98.85 255.07 L99.06 255.13 L99.27 255.18 L99.48 255.17 L99.69 255.27 L99.90 255.26 L100.11 255.24 L100.32 255.27 L100.53 255.30 L100.74 255.36 L100.95 255.36 L101.16 255.37 L101.36 255.37 L101.57 255.41 L101.78 255.39 L101.99 255.37 L102.20 255.47 L102.41 255.42 L102.62 255.42 L102.83 255.47 L103.04 255.47 L103.25 255.42 L103.46 255.53 L103.67 255.48 L103.88 255.53 L104.09 255.46 L104.30 255.45 L104.51 255.50 L104.72 255.56 L104.93 255.50 L105.14 255.51 L105.35 255.49 L105.56 255.52 L105.77 255.51 L105.97 255.49 L106.18 255.53 L106.39 255.54 L106.60 255.48 L106.81 255.57 L107.02 255.52 L107.23 255.55 L107.44 255.51 L107.65 255.58 L107.86 255.49 L108.07 255.56 L108.28 255.60 L108.49 255.57 L108.70 255.56 L108.91 255.60 L109.12 255.56 L109.33 255.56 L109.54 255.52 L109.75 237.07 L109.96 213.76 L110.17 208.93 L110.38 208.55 L110.58 208.31 L110.79 208.31 L111.00 208.29 L111.21 207.92 L111.42 207.95 L111.63 207.90 L111.84 207.82 L112.05 207.46 L112.26 207.34 L112.47 207.32 L112.68 207.29 L112.89 207.17 L113.10 207.23 L113.31 206.87 L113.52 207.03 L113.73 206.86 L113.94 206.73 L114.15 206.67 L114.36 206.75 L114.57 206.77 L114.78 206.62 L114.99 206.74 L115.19 206.42 L115.40 206.57 L115.61 206.34 L115.82 206.53 L116.03 206.46 L116.24 206.48 L116.45 206.38 L116.66 206.45 L116.87 206.49 L117.08 206.19 L117.29 206.34 L117.50 206.33 L117.71 206.29 L117.92 206.20 L118.13 206.20 L118.34 206.11 L118.55 206.08 L118.76 206.18 L118.97 205.95 L119.18 205.96 L119.39 206.26 L119.60 205.95 L119.80 205.91 L120.01 205.95 L120.22 206.19 L120.43 205.91 L120.64 205.98 L120.85 206.21 L121.06 206.21 L121.27 205.83 L121.48 205.94 L121.69 206.10 L121.90 206.15 L122.11 206.13 L122.32 206.09 L122.53 205.87 L122.74 206.03 L122.95 206.10 L123.16 205.81 L123.37 205.85 L123.58 206.09 L123.79 205.80 L124.00 205.37 L124.21 229.83 L124.41 241.96 L124.62 247.88 L124.83 250.93 L125.04 252.45 L125.25 253.51 L125.46 253.77 L125.67 254.11 L125.88 254.21 L126.09 254.46 L126.30 254.39 L126.51 254.61 L126.72 254.80 L126.93 254.88 L127.14 254.98 L127.35 254.90 L127.56 255.00 L127.77 255.00 L127.98 255.09 L128.19 255.09 L128.40 255.12 L128.61 255.15 L128.81 255.15 L129.02 255.28 L129.23 255.21 L129.44 255.27 L129.65 255.29 L129.86 255.29 L130.07 255.29 L130.28 255.37 L130.49 255.38 L130.70 255.33 L130.91 255.45 L131.12 255.39 L131.33 255.40 L131.54 255.49 L131.75 255.43 L131.96 255.43 L132.17 255.41 L132.38 255.49 L132.59 255.42 L132.80 255.48 L133.01 255.49 L133.22 255.44 L133.43 255.55 L133.63 255.48 L133.84 255.49 L134.05 255.53 L134.26 255.47 L134.47 255.53 L134.68 255.52 L134.89 255.52 L135.10 255.49 L135.31 255.56 L135.52 255.54 L135.73 255.54 L135.94 255.53 L136.15 255.50 L136.36 255.56 L136.57 255.50 L136.78 255.55 L136.99 255.54 L137.20 255.57 L137.41 255.54 L137.62 255.49 L137.83 255.53 L138.03 255.51 L138.24 255.57 L138.45 255.57 L138.66 255.57" fill="none" stroke="#3f72e6" stroke-width="1.2" stroke-linejoin="round" stroke-linecap="round"/>
<path d="M31.38 255.54 L31.59 255.54 L31.80 255.52 L32.01 255.61 L32.21 255.53 L32.42 255.51 L32.63 255.55 L32.84 255.61 L33.05 255.58 L33.26 255.61 L33.47 255.59 L33.68 255.51 L33.89 255.54 L34.10 255.54 L34.31 255.52 L34.52 255.51 L34.73 255.54 L34.94 255.54 L35.15 255.54 L35.36 255.53 L35.57 255.54 L35.78 255.53 L35.99 255.59 L36.20 255.54 L36.41 255.56 L36.62 255.52 L36.82 255.60 L37.03 255.59 L37.24 255.61 L37.45 255.52 L37.66 255.51 L37.87 255.54 L38.08 255.57 L38.29 255.52 L38.50 255.52 L38.71 255.55 L38.92 255.58 L39.13 255.58 L39.34 255.56 L39.55 255.58 L39.76 255.56 L39.97 255.54 L40.18 255.50 L40.39 255.61 L40.60 255.55 L40.81 255.61 L41.02 255.60 L41.23 255.52 L41.43 255.55 L41.64 255.51 L41.85 255.56 L42.06 255.61 L42.27 255.57 L42.48 255.54 L42.69 255.50 L42.90 255.50 L43.11 255.56 L43.32 255.57 L43.53 255.60 L43.74 255.54 L43.95 255.59 L44.16 255.60 L44.37 255.61 L44.58 255.61 L44.79 255.53 L45.00 255.60 L45.21 255.50 L45.42 255.60 L45.63 255.51 L45.84 255.60 L46.04 255.61 L46.25 255.53 L46.46 255.58 L46.67 255.53 L46.88 255.59 L47.09 255.61 L47.30 255.52 L47.51 255.53 L47.72 255.51 L47.93 255.53 L48.14 255.60 L48.35 255.54 L48.56 255.53 L48.77 255.56 L48.98 255.50 L49.19 255.58 L49.40 244.01 L49.61 215.50 L49.82 198.41 L50.03 198.19 L50.24 197.73 L50.45 197.47 L50.65 197.57 L50.86 197.31 L51.07 196.98 L51.28 197.05 L51.49 196.63 L51.70 196.65 L51.91 196.68 L52.12 196.45 L52.33 196.25 L52.54 196.20 L52.75 196.01 L52.96 196.12 L53.17 195.78 L53.38 195.87 L53.59 195.68 L53.80 195.62 L54.01 195.63 L54.22 195.58 L54.43 195.36 L54.64 195.25 L54.85 195.26 L55.05 195.29 L55.26 195.35 L55.47 195.40 L55.68 195.00 L55.89 195.07 L56.10 194.98 L56.31 195.14 L56.52 195.00 L56.73 194.83 L56.94 194.86 L57.15 194.92 L57.36 195.01 L57.57 194.94 L57.78 194.74 L57.99 194.92 L58.20 194.78 L58.41 194.79 L58.62 194.66 L58.83 194.68 L59.04 194.87 L59.25 194.96 L59.46 194.85 L59.67 194.77 L59.87 194.70 L60.08 194.59 L60.29 194.56 L60.50 194.88 L60.71 194.56 L60.92 194.56 L61.13 194.53 L61.34 194.64 L61.55 194.74 L61.76 194.51 L61.97 194.52 L62.18 194.57 L62.39 194.47 L62.60 194.69 L62.81 194.78 L63.02 194.60 L63.23 194.50 L63.44 194.73 L63.65 194.51 L63.86 194.43 L64.07 194.70 L64.28 194.55 L64.48 194.52 L64.69 194.60 L64.90 194.05 L65.11 224.17 L65.32 238.84 L65.53 246.19 L65.74 250.02 L65.95 252.06 L66.16 252.78 L66.37 253.35 L66.58 253.90 L66.79 253.99 L67.00 254.03 L67.21 254.16 L67.42 254.41 L67.63 254.53 L67.84 254.57 L68.05 254.80 L68.26 254.87 L68.47 254.94 L68.68 254.80 L68.89 254.94 L69.09 254.97 L69.30 255.04 L69.51 255.07 L69.72 255.15 L69.93 255.20 L70.14 255.12 L70.35 255.22 L70.56 255.28 L70.77 255.24 L70.98 255.25 L71.19 255.34 L71.40 255.31 L71.61 255.36 L71.82 255.36 L72.03 255.43 L72.24 255.44 L72.45 255.35 L72.66 255.37 L72.87 255.43 L73.08 255.43 L73.29 255.47 L73.50 255.42 L73.70 255.47 L73.91 255.42 L74.12 255.45 L74.33 255.45 L74.54 255.43 L74.75 255.52 L74.96 255.55 L75.17 255.54 L75.38 255.54 L75.59 255.56 L75.80 255.57 L76.01 255.51 L76.22 255.48 L76.43 255.53 L76.64 255.47 L76.85 255.48 L77.06 255.58 L77.27 255.52 L77.48 255.55 L77.69 255.58 L77.90 255.48 L78.11 255.57 L78.31 255.53 L78.52 255.52 L78.73 255.49 L78.94 255.52 L79.15 255.56 L79.36 255.55 L79.57 255.59 L79.78 255.49 L79.99 255.50 L80.20 249.98 L80.41 221.51 L80.62 198.36 L80.83 198.10 L81.04 197.67 L81.25 197.47 L81.46 197.31 L81.67 197.45 L81.88 196.99 L82.09 196.87 L82.30 196.75 L82.51 196.48 L82.72 196.71 L82.92 196.56 L83.13 196.20 L83.34 196.03 L83.55 196.03 L83.76 196.08 L83.97 195.88 L84.18 195.73 L84.39 195.91 L84.60 195.75 L84.81 195.71 L85.02 195.69 L85.23 195.49 L85.44 195.56 L85.65 195.48 L85.86 195.46 L86.07 195.21 L86.28 195.42 L86.49 195.11 L86.70 195.27 L86.91 195.30 L87.12 194.92 L87.33 195.16 L87.53 194.85 L87.74 194.85 L87.95 194.81 L88.16 195.08 L88.37 194.93 L88.58 195.05 L88.79 194.70 L89.00 194.72 L89.21 194.78 L89.42 194.83 L89.63 194.86 L89.84 194.66 L90.05 194.78 L90.26 194.71 L90.47 194.88 L90.68 194.84 L90.89 194.89 L91.10 194.63 L91.31 194.68 L91.52 194.83 L91.73 194.54 L91.94 194.76 L92.14 194.70 L92.35 194.79 L92.56 194.74 L92.77 194.51 L92.98 194.70 L93.19 194.76 L93.40 194.63 L93.61 194.69 L93.82 194.46 L94.03 194.76 L94.24 194.42 L94.45 194.78 L94.66 193.78 L94.87 224.01 L95.08 239.05 L95.29 246.32 L95.50 250.09 L95.71 251.99 L95.92 253.01 L96.13 253.51 L96.34 253.60 L96.55 253.83 L96.75 254.02 L96.96 254.47 L97.17 254.50 L97.38 254.36 L97.59 254.77 L97.80 254.59 L98.01 254.83 L98.22 254.63 L98.43 255.06 L98.64 254.89 L98.85 255.00 L99.06 255.07 L99.27 255.13 L99.48 255.07 L99.69 255.14 L99.90 255.21 L100.11 255.21 L100.32 255.19 L100.53 255.29 L100.74 255.27 L100.95 255.35 L101.16 255.36 L101.36 255.31 L101.57 255.34 L101.78 255.41 L101.99 255.44 L102.20 255.45 L102.41 255.40 L102.62 255.43 L102.83 255.46 L103.04 255.48 L103.25 255.44 L103.46 255.44 L103.67 255.43 L103.88 255.47 L104.09 255.52 L104.30 255.54 L104.51 255.47 L104.72 255.51 L104.93 255.48 L105.14 255.56 L105.35 255.48 L105.56 255.53 L105.77 255.48 L105.97 255.48 L106.18 255.52 L106.39 255.58 L106.60 255.48 L106.81 255.53 L107.02 255.49 L107.23 255.56 L107.44 255.57 L107.65 255.50 L107.86 255.55 L108.07 255.58 L108.28 255.56 L108.49 255.53 L108.70 255.60 L108.91 255.54 L109.12 255.55 L109.33 255.54 L109.54 255.59 L109.75 232.69 L109.96 203.96 L110.17 197.99 L110.38 197.98 L110.58 197.63 L110.79 197.56 L111.00 197.24 L111.21 197.34 L111.42 196.86 L111.63 196.68 L111.84 196.72 L112.05 196.58 L112.26 196.45 L112.47 196.33 L112.68 196.43 L112.89 195.95 L113.10 196.15 L113.31 196.07 L113.52 196.02 L113.73 195.88 L113.94 195.59 L114.15 195.82 L114.36 195.73 L114.57 195.43 L114.78 195.57 L114.99 195.59 L115.19 195.31 L115.40 195.27 L115.61 195.24 L115.82 195.13 L116.03 195.32 L116.24 194.99 L116.45 195.01 L116.66 195.24 L116.87 195.18 L117.08 195.00 L117.29 194.97 L117.50 195.03 L117.71 195.07 L117.92 194.94 L118.13 195.02 L118.34 194.82 L118.55 194.70 L118.76 194.96 L118.97 194.78 L119.18 194.69 L119.39 194.91 L119.60 194.63 L119.80 194.58 L120.01 194.78 L120.22 194.76 L120.43 194.58 L120.64 194.69 L120.85 194.73 L121.06 194.51 L121.27 194.57 L121.48 194.73 L121.69 194.76 L121.90 194.72 L122.11 194.67 L122.32 194.45 L122.53 194.52 L122.74 194.47 L122.95 194.50 L123.16 194.48 L123.37 194.79 L123.58 194.60 L123.79 194.43 L124.00 193.77 L124.21 224.17 L124.41 238.97 L124.62 246.26 L124.83 250.06 L125.04 251.89 L125.25 253.07 L125.46 253.48 L125.67 253.79 L125.88 254.21 L126.09 254.32 L126.30 254.13 L126.51 254.31 L126.72 254.35 L126.93 254.55 L127.14 254.56 L127.35 254.60 L127.56 254.66 L127.77 255.06 L127.98 254.91 L128.19 255.01 L128.40 255.00 L128.61 255.09 L128.81 255.10 L129.02 255.09 L129.23 255.16 L129.44 255.23 L129.65 255.23 L129.86 255.27 L130.07 255.23 L130.28 255.33 L130.49 255.35 L130.70 255.33 L130.91 255.40 L131.12 255.36 L131.33 255.34 L131.54 255.40 L131.75 255.44 L131.96 255.43 L132.17 255.43 L132.38 255.49 L132.59 255.50 L132.80 255.51 L133.01 255.49 L133.22 255.49 L133.43 255.51 L133.63 255.52 L133.84 255.54 L134.05 255.49 L134.26 255.46 L134.47 255.49 L134.68 255.50 L134.89 255.50 L135.10 255.55 L135.31 255.50 L135.52 255.53 L135.73 255.52 L135.94 255.52 L136.15 255.53 L136.36 255.55 L136.57 255.56 L136.78 255.57 L136.99 255.54 L137.20 255.55 L137.41 255.53 L137.62 255.60 L137.83 255.56 L138.03 255.50 L138.24 255.57 L138.45 255.54 L138.66 255.55" fill="none" stroke="#46b964" stroke-width="1.2" stroke-linejoin="round" stroke-linecap="round"/>
<path d="M31.38 255.58 L31.59 255.50 L31.80 255.58 L32.01 255.52 L32.21 255.59 L32.42 255.61 L32.63 255.51 L32.84 255.56 L33.05 255.61 L33.26 255.57 L33.47 255.56 L33.68 255.53 L33.89 255.60 L34.10 255.59 L34.31 255.50 L34.52 255.53 L34.73 255.60 L34.94 255.57 L35.15 255.57 L35.36 255.53 L35.57 255.54 L35.78 255.51 L35.99 255.52 L36.20 255.55 L36.41 255.53 L36.62 255.53 L36.82 255.52 L37.03 255.56 L37.24 255.52 L37.45 255.53 L37.66 255.51 L37.87 255.60 L38.08 255.51 L38.29 255.61 L38.50 255.52 L38.71 255.54 L38.92 255.56 L39.13 255.50 L39.34 255.55 L39.55 255.56 L39.76 255.52 L39.97 255.51 L40.18 255.54 L40.39 255.57 L40.60 255.56 L40.81 255.56 L41.02 255.53 L41.23 255.58 L41.43 255.57 L41.64 255.55 L41.85 255.57 L42.06 255.58 L42.27 255.52 L42.48 255.51 L42.69 255.55 L42.90 255.56 L43.11 255.59 L43.32 255.58 L43.53 255.60 L43.74 255.55 L43.95 255.55 L44.16 255.60 L44.37 255.51 L44.58 255.58 L44.79 255.51 L45.00 255.52 L45.21 255.50 L45.42 255.59 L45.63 255.56 L45.84 255.51 L46.04 255.61 L46.25 255.61 L46.46 255.55 L46.67 255.56 L46.88 255.51 L47.09 255.52 L47.30 255.55 L47.51 255.50 L47.72 255.55 L47.93 255.55 L48.14 255.53 L48.35 255.57 L48.56 255.57 L48.77 255.54 L48.98 255.57 L49.19 255.50 L49.40 240.67 L49.61 203.46 L49.82 180.99 L50.03 180.60 L50.24 180.31 L50.45 180.00 L50.65 179.75 L50.86 179.41 L51.07 179.16 L51.28 179.15 L51.49 178.98 L51.70 178.73 L51.91 178.42 L52.12 178.52 L52.33 178.30 L52.54 178.05 L52.75 178.17 L52.96 178.00 L53.17 177.62 L53.38 177.58 L53.59 177.60 L53.80 177.66 L54.01 177.27 L54.22 177.26 L54.43 177.13 L54.64 177.00 L54.85 176.97 L55.05 177.08 L55.26 177.13 L55.47 177.02 L55.68 176.88 L55.89 176.83 L56.10 176.90 L56.31 176.86 L56.52 176.65 L56.73 176.62 L56.94 176.68 L57.15 176.39 L57.36 176.50 L57.57 176.70 L57.78 176.53 L57.99 176.35 L58.20 176.52 L58.41 176.34 L58.62 176.59 L58.83 176.45 L59.04 176.22 L59.25 176.30 L59.46 176.25 L59.67 176.42 L59.87 176.29 L60.08 176.25 L60.29 176.35 L60.50 176.19 L60.71 176.22 L60.92 176.03 L61.13 176.18 L61.34 176.24 L61.55 176.34 L61.76 176.32 L61.97 176.07 L62.18 176.32 L62.39 176.32 L62.60 176.28 L62.81 176.14 L63.02 176.02 L63.23 176.09 L63.44 176.01 L63.65 176.30 L63.86 176.31 L64.07 176.01 L64.28 176.18 L64.48 176.02 L64.69 176.16 L64.90 175.38 L65.11 214.62 L65.32 234.05 L65.53 243.35 L65.74 248.29 L65.95 250.85 L66.16 252.11 L66.37 252.87 L66.58 253.44 L66.79 253.40 L67.00 253.73 L67.21 253.76 L67.42 254.10 L67.63 254.16 L67.84 254.41 L68.05 254.59 L68.26 254.34 L68.47 254.45 L68.68 254.74 L68.89 254.58 L69.09 254.68 L69.30 254.94 L69.51 254.91 L69.72 254.92 L69.93 255.02 L70.14 255.01 L70.35 255.13 L70.56 255.15 L70.77 255.14 L70.98 255.23 L71.19 255.25 L71.40 255.21 L71.61 255.28 L71.82 255.27 L72.03 255.35 L72.24 255.38 L72.45 255.37 L72.66 255.41 L72.87 255.33 L73.08 255.43 L73.29 255.41 L73.50 255.47 L73.70 255.43 L73.91 255.46 L74.12 255.46 L74.33 255.51 L74.54 255.51 L74.75 255.44 L74.96 255.50 L75.17 255.52 L75.38 255.53 L75.59 255.52 L75.80 255.53 L76.01 255.56 L76.22 255.49 L76.43 255.53 L76.64 255.56 L76.85 255.50 L77.06 255.57 L77.27 255.55 L77.48 255.49 L77.69 255.57 L77.90 255.54 L78.11 255.49 L78.31 255.50 L78.52 255.58 L78.73 255.56 L78.94 255.51 L79.15 255.56 L79.36 255.49 L79.57 255.58 L79.78 255.49 L79.99 255.55 L80.20 248.26 L80.41 210.97 L80.62 181.04 L80.83 180.52 L81.04 180.42 L81.25 179.91 L81.46 179.79 L81.67 179.65 L81.88 179.48 L82.09 179.14 L82.30 179.10 L82.51 178.67 L82.72 178.79 L82.92 178.48 L83.13 178.32 L83.34 178.29 L83.55 177.96 L83.76 177.99 L83.97 177.77 L84.18 177.70 L84.39 177.70 L84.60 177.57 L84.81 177.60 L85.02 177.48 L85.23 177.14 L85.44 177.27 L85.65 177.07 L85.86 177.22 L86.07 176.98 L86.28 177.00 L86.49 176.89 L86.70 176.92 L86.91 176.96 L87.12 176.82 L87.33 176.81 L87.53 176.81 L87.74 176.54 L87.95 176.68 L88.16 176.60 L88.37 176.37 L88.58 176.39 L88.79 176.32 L89.00 176.31 L89.21 176.57 L89.42 176.49 L89.63 176.56 L89.84 176.29 L90.05 176.28 L90.26 176.38 L90.47 176.34 L90.68 176.23 L90.89 176.20 L91.10 176.36 L91.31 176.11 L91.52 176.29 L91.73 176.17 L91.94 176.34 L92.14 176.35 L92.35 176.03 L92.56 176.09 L92.77 176.09 L92.98 176.35 L93.19 176.34 L93.40 176.29 L93.61 176.27 L93.82 176.22 L94.03 176.18 L94.24 176.31 L94.45 176.20 L94.66 175.20 L94.87 214.66 L95.08 233.77 L95.29 243.48 L95.50 248.24 L95.71 250.88 L95.92 252.12 L96.13 252.75 L96.34 253.32 L96.55 253.75 L96.75 253.64 L96.96 253.83 L97.17 254.16 L97.38 254.38 L97.59 254.18 L97.80 254.37 L98.01 254.68 L98.22 254.69 L98.43 254.82 L98.64 254.63 L98.85 254.92 L99.06 254.70 L99.27 254.89 L99.48 255.02 L99.69 254.99 L99.90 255.07 L100.11 255.07 L100.32 255.10 L100.53 255.19 L100.74 255.25 L100.95 255.18 L101.16 255.26 L101.36 255.23 L101.57 255.28 L101.78 255.29 L101.99 255.30 L102.20 255.34 L102.41 255.38 L102.62 255.44 L102.83 255.38 L103.04 255.42 L103.25 255.42 L103.46 255.38 L103.67 255.49 L103.88 255.42 L104.09 255.51 L104.30 255.45 L104.51 255.44 L104.72 255.51 L104.93 255.48 L105.14 255.44 L105.35 255.48 L105.56 255.50 L105.77 255.54 L105.97 255.56 L106.18 255.53 L106.39 255.53 L106.60 255.56 L106.81 255.55 L107.02 255.57 L107.23 255.50 L107.44 255.51 L107.65 255.56 L107.86 255.56 L108.07 255.53 L108.28 255.54 L108.49 255.49 L108.70 255.56 L108.91 255.56 L109.12 255.50 L109.33 255.59 L109.54 255.54 L109.75 225.93 L109.96 188.35 L110.17 180.70 L110.38 180.34 L110.58 180.30 L110.79 179.86 L111.00 179.65 L111.21 179.48 L111.42 179.16 L111.63 178.94 L111.84 179.03 L112.05 178.79 L112.26 178.60 L112.47 178.51 L112.68 178.43 L112.89 178.21 L113.10 178.11 L113.31 177.80 L113.52 177.79 L113.73 177.81 L113.94 177.63 L114.15 177.49 L114.36 177.44 L114.57 177.44 L114.78 177.40 L114.99 177.35 L115.19 176.90 L115.40 176.93 L115.61 177.13 L115.82 176.83 L116.03 176.67 L116.24 176.79 L116.45 176.92 L116.66 176.73 L116.87 176.71 L117.08 176.76 L117.29 176.59 L117.50 176.76 L117.71 176.38 L117.92 176.45 L118.13 176.43 L118.34 176.29 L118.55 176.37 L118.76 176.51 L118.97 176.49 L119.18 176.51 L119.39 176.53 L119.60 176.22 L119.80 176.18 L120.01 176.38 L120.22 176.40 L120.43 176.21 L120.64 176.12 L120.85 176.08 L121.06 176.36 L121.27 176.11 L121.48 176.08 L121.69 176.10 L121.90 176.26 L122.11 176.30 L122.32 176.05 L122.53 176.24 L122.74 176.21 L122.95 176.13 L123.16 176.20 L123.37 176.01 L123.58 176.24 L123.79 176.31 L124.00 175.23 L124.21 214.48 L124.41 233.77 L124.62 243.42 L124.83 248.16 L125.04 250.61 L125.25 252.10 L125.46 252.82 L125.67 253.40 L125.88 253.63 L126.09 253.74 L126.30 254.10 L126.51 254.00 L126.72 254.33 L126.93 254.34 L127.14 254.23 L127.35 254.67 L127.56 254.77 L127.77 254.69 L127.98 254.86 L128.19 254.72 L128.40 255.06 L128.61 254.88 L128.81 254.93 L129.02 254.98 L129.23 255.07 L129.44 255.12 L129.65 255.12 L129.86 255.17 L130.07 255.21 L130.28 255.25 L130.49 255.26 L130.70 255.26 L130.91 255.26 L131.12 255.27 L131.33 255.38 L131.54 255.38 L131.75 255.38 L131.96 255.38 L132.17 255.42 L132.38 255.45 L132.59 255.47 L132.80 255.46 L133.01 255.45 L133.22 255.40 L133.43 255.41 L133.63 255.43 L133.84 255.42 L134.05 255.43 L134.26 255.47 L134.47 255.46 L134.68 255.55 L134.89 255.48 L135.10 255.49 L135.31 255.53 L135.52 255.51 L135.73 255.46 L135.94 255.52 L136.15 255.51 L136.36 255.55 L136.57 255.55 L136.78 255.49 L136.99 255.59 L137.20 255.57 L137.41 255.51 L137.62 255.54 L137.83 255.59 L138.03 255.52 L138.24 255.56 L138.45 255.53 L138.66 255.55" fill="none" stroke="#a55ff0" stroke-width="1.2" stroke-linejoin="round" stroke-linecap="round"/>
<path d="M125.2 166.10H136.3" stroke="#666" stroke-width="2.0"/>
<text x="138.5" y="167.80" font-size="4.8" font-weight="bold" fill="#222" stroke="#222" stroke-width="0.12">65 mW/cm<tspan font-size="3.2" dy="-1.9">2</tspan></text>
<path d="M125.2 172.50H136.3" stroke="#e8323c" stroke-width="1.5"/>
<text x="138.5" y="174.20" font-size="4.8" font-weight="bold" fill="#222" stroke="#222" stroke-width="0.12">77 mW/cm<tspan font-size="3.2" dy="-1.9">2</tspan></text>
<path d="M125.2 179.00H136.3" stroke="#3f72e6" stroke-width="1.5"/>
<text x="138.5" y="180.70" font-size="4.8" font-weight="bold" fill="#222" stroke="#222" stroke-width="0.12">91 mW/cm<tspan font-size="3.2" dy="-1.9">2</tspan></text>
<path d="M125.2 185.60H136.3" stroke="#46b964" stroke-width="1.5"/>
<text x="138.5" y="187.30" font-size="4.8" font-weight="bold" fill="#222" stroke="#222" stroke-width="0.12">110 mW/cm<tspan font-size="3.2" dy="-1.9">2</tspan></text>
<path d="M125.2 191.80H136.3" stroke="#a55ff0" stroke-width="1.5"/>
<text x="138.5" y="193.50" font-size="4.8" font-weight="bold" fill="#222" stroke="#222" stroke-width="0.12">137 mW/cm<tspan font-size="3.2" dy="-1.9">2</tspan></text>
<rect x="204.00" y="161.60" width="137.40" height="100.40" fill="none" stroke="#7a7a7a" stroke-width="1"/>
<path d="M217.74 262.00v-2.2M217.74 161.60v2.2M245.22 262.00v-2.2M245.22 161.60v2.2M272.70 262.00v-2.2M272.70 161.60v2.2M300.18 262.00v-2.2M300.18 161.60v2.2M327.66 262.00v-2.2M327.66 161.60v2.2M204.00 262.00v-1.2M204.00 161.60v1.2M231.48 262.00v-1.2M231.48 161.60v1.2M258.96 262.00v-1.2M258.96 161.60v1.2M286.44 262.00v-1.2M286.44 161.60v1.2M313.92 262.00v-1.2M313.92 161.60v1.2M341.40 262.00v-1.2M341.40 161.60v1.2M204.00 262.00h2.2M341.40 262.00h-2.2M204.00 241.92h2.2M341.40 241.92h-2.2M204.00 221.84h2.2M341.40 221.84h-2.2M204.00 201.76h2.2M341.40 201.76h-2.2M204.00 181.68h2.2M341.40 181.68h-2.2M204.00 161.60h2.2M341.40 161.60h-2.2M204.00 251.96h1.2M341.40 251.96h-1.2M204.00 231.88h1.2M341.40 231.88h-1.2M204.00 211.80h1.2M341.40 211.80h-1.2M204.00 191.72h1.2M341.40 191.72h-1.2M204.00 171.64h1.2M341.40 171.64h-1.2" stroke="#444" stroke-width="0.9" fill="none"/>
<text x="217.74" y="270.00" font-size="6.3" text-anchor="middle" font-weight="bold" fill="#222" stroke="#222" stroke-width="0.18">100</text>
<text x="245.22" y="270.00" font-size="6.3" text-anchor="middle" font-weight="bold" fill="#222" stroke="#222" stroke-width="0.18">105</text>
<text x="272.70" y="270.00" font-size="6.3" text-anchor="middle" font-weight="bold" fill="#222" stroke="#222" stroke-width="0.18">110</text>
<text x="300.18" y="270.00" font-size="6.3" text-anchor="middle" font-weight="bold" fill="#222" stroke="#222" stroke-width="0.18">115</text>
<text x="327.66" y="270.00" font-size="6.3" text-anchor="middle" font-weight="bold" fill="#222" stroke="#222" stroke-width="0.18">120</text>
<text x="202.00" y="264.27" font-size="6.3" text-anchor="end" font-weight="bold" fill="#222" stroke="#222" stroke-width="0.18">80</text>
<text x="202.00" y="244.19" font-size="6.3" text-anchor="end" font-weight="bold" fill="#222" stroke="#222" stroke-width="0.18">90</text>
<text x="202.00" y="224.11" font-size="6.3" text-anchor="end" font-weight="bold" fill="#222" stroke="#222" stroke-width="0.18">100</text>
<text x="202.00" y="204.03" font-size="6.3" text-anchor="end" font-weight="bold" fill="#222" stroke="#222" stroke-width="0.18">110</text>
<text x="202.00" y="183.95" font-size="6.3" text-anchor="end" font-weight="bold" fill="#222" stroke="#222" stroke-width="0.18">120</text>
<text x="202.00" y="163.87" font-size="6.3" text-anchor="end" font-weight="bold" fill="#222" stroke="#222" stroke-width="0.18">130</text>
<text x="173.55" y="156.80" font-size="13.1" text-anchor="start" font-weight="bold" fill="#111" stroke="#111" stroke-width="0" textLength="15.1" lengthAdjust="spacingAndGlyphs">(f)</text>
<text x="188.20" y="213.30" font-size="7.6" text-anchor="middle" font-weight="bold" fill="#222" stroke="#222" stroke-width="0.18" transform="rotate(-90 188.20 213.30)" textLength="87.7" lengthAdjust="spacingAndGlyphs">Capacitance change (%)</text>
<text x="272.80" y="281.70" font-size="7.8" text-anchor="middle" font-weight="bold" fill="#222" stroke="#222" stroke-width="0.18" textLength="53.8" lengthAdjust="spacingAndGlyphs">Distance (mm)</text>
<path d="M218.00 195.41 L218.60 192.52 L219.05 191.82 L219.50 191.08 L219.88 190.90 L220.25 190.92 L220.62 190.61 L221.00 190.28 L221.38 190.48 L221.77 190.26 L222.15 190.18 L222.53 190.28 L222.92 190.16 L223.30 190.20 L223.73 190.54 L224.15 190.77 L224.57 191.20 L225.00 191.38 L225.43 192.13 L225.85 192.78 L226.27 193.25 L226.70 193.97 L227.13 193.37 L227.57 192.98 L228.00 192.61 L228.36 191.69 L228.72 190.91 L229.09 190.10 L229.45 189.08 L229.81 188.52 L230.18 187.62 L230.54 186.61 L230.90 186.00 L231.27 185.48 L231.64 185.03 L232.01 184.88 L232.39 184.38 L232.76 184.05 L233.13 183.48 L233.50 183.28 L233.89 182.80 L234.28 182.60 L234.66 182.37 L235.05 182.00 L235.44 181.92 L235.82 181.54 L236.21 181.00 L236.60 181.47 L236.98 180.79 L237.36 181.44 L237.73 180.78 L238.11 181.06 L238.49 180.32 L238.87 180.78 L239.24 180.52 L239.62 179.08 L240.00 179.94 L240.38 179.07 L240.76 179.68 L241.15 179.39 L241.53 179.50 L241.91 178.09 L242.29 178.40 L242.67 178.91 L243.05 179.14 L243.44 178.59 L243.82 177.22 L244.20 178.09 L244.55 177.22 L244.90 178.06 L245.25 178.56 L245.60 177.35 L245.95 178.85 L246.30 178.44 L246.65 177.72 L247.00 177.65 L247.35 178.17 L247.70 178.93 L248.05 178.53 L248.40 177.75 L248.75 177.65 L249.10 177.87 L249.45 179.18 L249.80 178.13 L250.16 178.91 L250.51 178.54 L250.87 179.36 L251.23 178.92 L251.58 178.60 L251.94 180.03 L252.30 179.53 L252.65 179.91 L253.01 180.23 L253.37 180.59 L253.72 179.02 L254.08 179.72 L254.43 179.48 L254.79 180.22 L255.15 181.00 L255.50 180.98 L255.86 179.71 L256.22 180.08 L256.57 181.34 L256.93 181.20 L257.29 180.79 L257.64 181.05 L258.00 180.58 L258.36 181.93 L258.71 181.23 L259.07 182.21 L259.42 181.85 L259.78 181.00 L260.14 181.56 L260.49 181.47 L260.85 182.81 L261.20 182.37 L261.56 181.50 L261.92 181.84 L262.27 182.29 L262.63 182.60 L262.98 182.91 L263.34 182.68 L263.70 182.73 L264.05 182.21 L264.41 183.36 L264.76 183.03 L265.12 182.58 L265.48 183.48 L265.83 184.54 L266.19 182.96 L266.54 183.25 L266.90 184.31 L267.25 183.68 L267.60 183.77 L267.95 184.27 L268.30 183.93 L268.65 184.57 L269.00 184.58 L269.35 185.44 L269.70 185.59 L270.05 183.96 L270.40 184.99 L270.75 185.46 L271.10 185.73 L271.45 185.64 L271.80 185.48 L272.15 185.57 L272.50 185.17 L272.85 185.11 L273.20 186.12 L273.55 186.35 L273.90 186.56 L274.25 186.18 L274.60 185.59 L274.95 186.51 L275.30 186.55 L275.65 186.23 L276.00 186.54 L276.35 186.12 L276.71 186.56 L277.06 186.39 L277.41 185.85 L277.77 186.44 L278.12 186.50 L278.48 187.78 L278.83 186.95 L279.18 186.83 L279.54 186.70 L279.89 186.77 L280.24 187.06 L280.60 186.76 L280.95 186.61 L281.30 188.25 L281.66 187.59 L282.01 187.66 L282.36 187.97 L282.72 187.57 L283.07 187.42 L283.42 187.32 L283.78 187.83 L284.13 187.93 L284.49 188.77 L284.84 188.54 L285.19 189.32 L285.55 188.33 L285.90 189.46 L286.25 188.95 L286.60 188.14 L286.95 188.42 L287.30 189.24 L287.65 190.08 L288.00 189.04 L288.35 189.89 L288.70 189.37 L289.05 190.26 L289.40 188.92 L289.75 189.77 L290.10 190.62 L290.45 189.60 L290.80 189.66 L291.15 189.34 L291.50 189.70 L291.85 189.98 L292.20 190.87 L292.55 190.09 L292.90 190.52 L293.25 190.26 L293.60 191.09 L293.95 191.66 L294.30 191.37 L294.65 190.65 L295.00 191.72 L295.35 192.24 L295.71 191.70 L296.06 190.87 L296.41 192.30 L296.77 192.53 L297.12 191.68 L297.48 191.42 L297.83 191.62 L298.18 192.36 L298.54 193.08 L298.89 192.77 L299.24 193.39 L299.60 192.22 L299.95 192.54 L300.30 193.66 L300.66 193.49 L301.01 192.92 L301.36 193.79 L301.72 192.95 L302.07 192.28 L302.42 193.38 L302.78 192.46 L303.13 194.20 L303.49 193.49 L303.84 194.05 L304.19 194.45 L304.55 193.61 L304.90 194.30 L305.29 192.96 L305.67 195.44 L306.06 194.35 L306.45 195.47 L306.84 192.78 L307.23 194.27 L307.61 194.50 L308.00 193.32 L308.38 192.64 L308.75 192.79 L309.12 192.72 L309.50 194.45 L309.88 192.53 L310.25 194.53 L310.62 193.41 L311.00 193.71 L311.38 193.82 L311.75 193.70 L312.12 193.97 L312.50 193.78 L312.87 193.07 L313.23 194.27 L313.60 192.96 L313.97 194.28 L314.33 194.47 L314.70 194.55 L315.07 193.29 L315.43 194.64 L315.80 195.26 L316.17 193.84 L316.53 193.39 L316.90 194.13 L317.27 195.34 L317.63 193.12 L318.00 192.83 L318.36 194.11 L318.73 194.60 L319.09 194.91 L319.45 193.74 L319.82 195.48 L320.18 193.33 L320.55 194.79 L320.91 192.91 L321.27 192.71 L321.64 192.99 L322.00 192.77 L322.36 194.04 L322.72 194.22 L323.08 193.20 L323.45 195.35 L323.81 193.78 L324.17 193.20 L324.53 193.31 L324.89 194.91 L325.25 195.46 L325.62 193.36 L325.98 193.02 L326.34 195.15 L326.70 194.40 L327.20 196.00 L327.60 202.00" fill="none" stroke="#333" stroke-width="0.8" stroke-linejoin="round"/>
<text x="343.25" y="157.20" font-size="13.1" text-anchor="start" font-weight="bold" fill="#111" stroke="#111" stroke-width="0" textLength="16.8" lengthAdjust="spacingAndGlyphs">(g)</text>
<text x="362.30" y="156.40" font-size="9.4" text-anchor="start" font-weight="bold" fill="#222" stroke="#222" stroke-width="0.18" textLength="35.5" lengthAdjust="spacingAndGlyphs">Sample</text>
<text x="424.00" y="156.80" font-size="9.4" text-anchor="start" font-weight="bold" fill="#222" stroke="#222" stroke-width="0.18" textLength="60.6" lengthAdjust="spacingAndGlyphs">Light source</text>
<defs>
<filter id="bl1" x="-50%" y="-50%" width="200%" height="200%"><feGaussianBlur stdDeviation="1.2"/></filter>
<filter id="bl2" x="-50%" y="-50%" width="200%" height="200%"><feGaussianBlur stdDeviation="2.5"/></filter>
<filter id="bl3" x="-50%" y="-50%" width="200%" height="200%"><feGaussianBlur stdDeviation="0.6"/></filter>
<filter id="bl4" x="-50%" y="-50%" width="200%" height="200%"><feGaussianBlur stdDeviation="4"/></filter>
<filter id="bl5" x="-50%" y="-50%" width="200%" height="200%"><feGaussianBlur stdDeviation="1.8"/></filter>
<radialGradient id="glow1" cx="0.5" cy="0.5" r="0.5">
<stop offset="0" stop-color="#e8ffff"/><stop offset="0.25" stop-color="#a0f8ff"/><stop offset="0.55" stop-color="#50b8ff" stop-opacity="0.9"/><stop offset="0.8" stop-color="#3a70ff" stop-opacity="0.5"/><stop offset="1" stop-color="#3050ff" stop-opacity="0"/></radialGradient>
<radialGradient id="glow2" cx="0.5" cy="0.5" r="0.5">
<stop offset="0" stop-color="#c8fff4"/><stop offset="0.35" stop-color="#80eef0"/><stop offset="0.65" stop-color="#40a8f8" stop-opacity="0.8"/><stop offset="1" stop-color="#3050ff" stop-opacity="0"/></radialGradient>
<clipPath id="cp1"><rect x="362" y="161.4" width="130" height="51.4"/></clipPath>
<clipPath id="cp2"><rect x="362.2" y="216.2" width="130.2" height="51"/></clipPath>
</defs>
<rect x="361" y="212.8" width="132.5" height="3.4" fill="#d8d8d8"/>
<rect x="362.5" y="267.2" width="131.5" height="2" fill="#e4e4e4"/>
<rect x="492" y="162.5" width="1.6" height="50.5" fill="#8a8a8a"/>
<rect x="492.4" y="217" width="1.6" height="50.5" fill="#8a8a8a"/>
<g clip-path="url(#cp1)">
<rect x="362" y="161.4" width="130" height="51.4" fill="#1806fa"/>
<rect x="362" y="161.4" width="30" height="30" fill="#3a40ff" opacity="0.55" filter="url(#bl4)"/>
<path d="M392 211 L420 205 L440 200.5 L470 198.5 L492 196.5 L492 214 L388 214 Z" fill="#12087a" filter="url(#bl5)"/>
<path d="M425 213 L460 207.5 L492 205 L492 214 Z" fill="#0a0550" filter="url(#bl5)"/>
<path d="M485 161 L492 161 L492 200 L485 200 Z" fill="#1c10c8" opacity="0.75" filter="url(#bl2)"/>
<path d="M440 190 L492 193" stroke="#3a30ff" stroke-width="1" opacity="0.6" filter="url(#bl3)"/>
<path d="M400 187 L445 196" stroke="#3a30ff" stroke-width="1" opacity="0.5" filter="url(#bl3)"/>
<path d="M362 192 L420 201 L492 204" stroke="#3020ff" stroke-width="2" fill="none" opacity="0.5" filter="url(#bl1)"/>
<ellipse cx="409.4" cy="180.9" rx="3.8" ry="1.8" fill="#1a0cb8" filter="url(#bl3)"/>
<path d="M432.5 212 L434 194 L436 212 Z" fill="#0c0670" filter="url(#bl3)"/>
<path d="M364 166 L387 196" stroke="#6aa8ff" stroke-width="3" opacity="0.55" filter="url(#bl1)"/>
<path d="M370 186 L382 172" stroke="#6aa8ff" stroke-width="2" opacity="0.35" filter="url(#bl1)"/>
<ellipse cx="375.8" cy="179.5" rx="10" ry="14" fill="url(#glow1)"/>
<ellipse cx="375.7" cy="179.5" rx="3" ry="4.6" fill="#e8ffff" filter="url(#bl3)"/>
</g>
<g clip-path="url(#cp2)">
<rect x="362.2" y="216.2" width="130.2" height="51" fill="#1806fa"/>
<path d="M362 264 L400 262 L440 259 L470 256 L492 252 L492 268 L362 268 Z" fill="#10087a" opacity="0.85" filter="url(#bl5)"/>
<path d="M468 268 L470 259 L476 254 L480 249 L486 251 L492 247 L492 268 Z" fill="#0a0550" opacity="0.85" filter="url(#bl1)"/>
<path d="M484 216 L492 216 L492 246 L484 246 Z" fill="#1c10c8" opacity="0.7" filter="url(#bl2)"/>
<path d="M430 268 L445 262 L466 262 L466 268 Z" fill="#0a0550" opacity="0.8" filter="url(#bl1)"/>
<ellipse cx="375.6" cy="237.5" rx="8" ry="16" fill="url(#glow2)"/>
<ellipse cx="375.4" cy="236" rx="3.4" ry="9.5" fill="#c0fff0" opacity="0.85" filter="url(#bl1)"/>
<ellipse cx="377" cy="250" rx="3" ry="3" fill="#70c0ff" opacity="0.5" filter="url(#bl1)"/>
<rect x="438.6" y="229.9" width="30.7" height="8.5" rx="2" fill="#14096a" filter="url(#bl3)"/>
<ellipse cx="446" cy="234" rx="3" ry="2" fill="#2a1890" opacity="0.6" filter="url(#bl3)"/>
</g>
<path d="M372 162.6V267.5 M387.6 162.6V267.5" stroke="#ffffff" stroke-width="1.6" stroke-dasharray="1.6 1.6"/>
<path d="M372 161.9H387.6 M372 266.9H387.6" stroke="#ffffff" stroke-width="1.3" stroke-dasharray="1.4 1.0"/>
<path d="M458.9 168.5V226.5" stroke="#ffffff" stroke-width="1.6" stroke-dasharray="1.6 1.6"/>
<path d="M456.2 169 L458.9 163.6 L461.6 169 Z" fill="#ffffff"/>
<path d="M420.5 175.8 L433.5 165.2" stroke="#ffffff" stroke-width="1.6" stroke-dasharray="1.6 1.6"/>
<path d="M431.3 163.6 L436.2 162.8 L434.9 167.6" stroke="#ffffff" stroke-width="1.2" fill="none"/>
<path d="M384.5 181.2H399.5" stroke="#ffffff" stroke-width="1.5"/>
<path d="M387.3 178.3 L383.6 181.2 L387.3 184.1 M396.9 178.3 L400.6 181.2 L396.9 184.1" stroke="#ffffff" stroke-width="1.5" fill="none" stroke-linejoin="miter"/>
<path d="M384.5 232.8H435" stroke="#ffffff" stroke-width="1.6"/>
<path d="M387.3 229.9 L383.6 232.8 L387.3 235.7 M432.4 229.9 L436.1 232.8 L432.4 235.7" stroke="#ffffff" stroke-width="1.5" fill="none"/>
<text x="386.00" y="194.90" font-size="9.8" text-anchor="start" font-weight="bold" fill="#ffffff" stroke="#ffffff" stroke-width="0.18" textLength="27" lengthAdjust="spacingAndGlyphs">10 cm</text>
<text x="384.90" y="245.50" font-size="9.8" text-anchor="start" font-weight="bold" fill="#ffffff" stroke="#ffffff" stroke-width="0.18" textLength="28.2" lengthAdjust="spacingAndGlyphs">30 cm</text>
<rect x="551.60" y="158.30" width="10.52" height="100.20" fill="#eed6da"/>
<rect x="614.74" y="158.30" width="52.61" height="100.20" fill="#eed6da"/>
<rect x="535.40" y="158.30" width="136.90" height="100.20" fill="none" stroke="#7a7a7a" stroke-width="1"/>
<path d="M551.60 258.50v-2.2M572.65 258.50v-2.2M593.70 258.50v-2.2M614.74 258.50v-2.2M635.79 258.50v-2.2M656.83 258.50v-2.2M541.08 258.50v-1.2M562.13 258.50v-1.2M583.17 258.50v-1.2M604.22 258.50v-1.2M625.26 258.50v-1.2M646.31 258.50v-1.2M667.35 258.50v-1.2M535.40 249.91h2.2M535.40 220.64h2.2M535.40 191.37h2.2M535.40 162.10h2.2M535.40 235.27h1.2M535.40 206.01h1.2M535.40 176.74h1.2" stroke="#444" stroke-width="0.9" fill="none"/>
<text x="551.60" y="266.10" font-size="6.5" text-anchor="middle" font-weight="bold" fill="#222" stroke="#222" stroke-width="0.18">135.0</text>
<text x="572.65" y="266.10" font-size="6.5" text-anchor="middle" font-weight="bold" fill="#222" stroke="#222" stroke-width="0.18">135.2</text>
<text x="593.70" y="266.10" font-size="6.5" text-anchor="middle" font-weight="bold" fill="#222" stroke="#222" stroke-width="0.18">135.4</text>
<text x="614.74" y="266.10" font-size="6.5" text-anchor="middle" font-weight="bold" fill="#222" stroke="#222" stroke-width="0.18">135.6</text>
<text x="635.79" y="266.10" font-size="6.5" text-anchor="middle" font-weight="bold" fill="#222" stroke="#222" stroke-width="0.18">135.8</text>
<text x="656.83" y="266.10" font-size="6.5" text-anchor="middle" font-weight="bold" fill="#222" stroke="#222" stroke-width="0.18">136.0</text>
<text x="533.00" y="252.14" font-size="6.2" text-anchor="end" font-weight="bold" fill="#222" stroke="#222" stroke-width="0.18">440</text>
<text x="533.00" y="222.87" font-size="6.2" text-anchor="end" font-weight="bold" fill="#222" stroke="#222" stroke-width="0.18">550</text>
<text x="533.00" y="193.60" font-size="6.2" text-anchor="end" font-weight="bold" fill="#222" stroke="#222" stroke-width="0.18">660</text>
<text x="533.00" y="164.34" font-size="6.2" text-anchor="end" font-weight="bold" fill="#222" stroke="#222" stroke-width="0.18">770</text>
<text x="511.55" y="156.80" font-size="13.1" text-anchor="start" font-weight="bold" fill="#111" stroke="#111" stroke-width="0" textLength="18.0" lengthAdjust="spacingAndGlyphs">(h)</text>
<text x="516.90" y="207.60" font-size="8.0" text-anchor="middle" font-weight="bold" fill="#222" stroke="#222" stroke-width="0.18" transform="rotate(-90 516.90 207.60)" textLength="64.3" lengthAdjust="spacingAndGlyphs">Capacitance (pF)</text>
<text x="603.60" y="277.70" font-size="7.6" text-anchor="middle" font-weight="bold" fill="#222" stroke="#222" stroke-width="0.18" textLength="28.6" lengthAdjust="spacingAndGlyphs">Time (s)</text>
<path d="M535.40 248.80 L551.60 255.60 L561.30 167.30 L564.00 166.00 L581.00 165.20 L600.00 165.20 L614.50 165.40 L620.00 185.00 L625.20 204.00 L630.00 217.00 L636.30 231.60 L643.00 239.50 L650.10 245.40 L658.00 250.00 L666.70 254.00 L672.30 214.00" fill="none" stroke="#222" stroke-width="1.1" stroke-linejoin="round"/>
<path d="M551.60 235H562.13 M614.74 235H667.35" stroke="#d0283a" stroke-width="1.2" stroke-dasharray="1.1 0.9"/>
<text x="553.60" y="247.60" font-size="10.4" text-anchor="start" font-weight="bold" fill="#8c1820" stroke="#8c1820" stroke-width="0.18" textLength="35.2" lengthAdjust="spacingAndGlyphs">102 ms</text>
<text x="620.00" y="247.40" font-size="10.4" text-anchor="start" font-weight="bold" fill="#8c1820" stroke="#8c1820" stroke-width="0.18" textLength="36.3" lengthAdjust="spacingAndGlyphs">498 ms</text>
<rect x="30.60" y="297.30" width="137.60" height="100.70" fill="none" stroke="#7a7a7a" stroke-width="1"/>
<path d="M38.69 398.00v-2.2M54.88 398.00v-2.2M71.07 398.00v-2.2M87.26 398.00v-2.2M103.45 398.00v-2.2M119.64 398.00v-2.2M135.82 398.00v-2.2M152.01 398.00v-2.2M168.20 398.00v-2.2M46.79 398.00v-1.2M62.98 398.00v-1.2M79.16 398.00v-1.2M95.35 398.00v-1.2M111.54 398.00v-1.2M127.73 398.00v-1.2M143.92 398.00v-1.2M160.11 398.00v-1.2M30.60 391.71h2.2M30.60 379.12h2.2M30.60 366.53h2.2M30.60 353.94h2.2M30.60 341.36h2.2M30.60 328.77h2.2M30.60 316.18h2.2M30.60 303.59h2.2M30.60 385.41h1.2M30.60 372.82h1.2M30.60 360.24h1.2M30.60 347.65h1.2M30.60 335.06h1.2M30.60 322.48h1.2M30.60 309.89h1.2" stroke="#444" stroke-width="0.9" fill="none"/>
<text x="38.69" y="405.30" font-size="6.3" text-anchor="middle" font-weight="bold" fill="#222" stroke="#222" stroke-width="0.18">0</text>
<text x="54.88" y="405.30" font-size="6.3" text-anchor="middle" font-weight="bold" fill="#222" stroke="#222" stroke-width="0.18">20</text>
<text x="71.07" y="405.30" font-size="6.3" text-anchor="middle" font-weight="bold" fill="#222" stroke="#222" stroke-width="0.18">40</text>
<text x="87.26" y="405.30" font-size="6.3" text-anchor="middle" font-weight="bold" fill="#222" stroke="#222" stroke-width="0.18">60</text>
<text x="103.45" y="405.30" font-size="6.3" text-anchor="middle" font-weight="bold" fill="#222" stroke="#222" stroke-width="0.18">80</text>
<text x="119.64" y="405.30" font-size="6.3" text-anchor="middle" font-weight="bold" fill="#222" stroke="#222" stroke-width="0.18">100</text>
<text x="135.82" y="405.30" font-size="6.3" text-anchor="middle" font-weight="bold" fill="#222" stroke="#222" stroke-width="0.18">120</text>
<text x="152.01" y="405.30" font-size="6.3" text-anchor="middle" font-weight="bold" fill="#222" stroke="#222" stroke-width="0.18">140</text>
<text x="168.20" y="405.30" font-size="6.3" text-anchor="middle" font-weight="bold" fill="#222" stroke="#222" stroke-width="0.18">160</text>
<text x="27.50" y="393.97" font-size="6.3" text-anchor="end" font-weight="bold" fill="#222" stroke="#222" stroke-width="0.18">0</text>
<text x="27.50" y="381.39" font-size="6.3" text-anchor="end" font-weight="bold" fill="#222" stroke="#222" stroke-width="0.18">20</text>
<text x="27.50" y="368.80" font-size="6.3" text-anchor="end" font-weight="bold" fill="#222" stroke="#222" stroke-width="0.18">40</text>
<text x="27.50" y="356.21" font-size="6.3" text-anchor="end" font-weight="bold" fill="#222" stroke="#222" stroke-width="0.18">60</text>
<text x="27.50" y="343.62" font-size="6.3" text-anchor="end" font-weight="bold" fill="#222" stroke="#222" stroke-width="0.18">80</text>
<text x="27.50" y="331.04" font-size="6.3" text-anchor="end" font-weight="bold" fill="#222" stroke="#222" stroke-width="0.18">100</text>
<text x="27.50" y="318.45" font-size="6.3" text-anchor="end" font-weight="bold" fill="#222" stroke="#222" stroke-width="0.18">120</text>
<text x="27.50" y="305.86" font-size="6.3" text-anchor="end" font-weight="bold" fill="#222" stroke="#222" stroke-width="0.18">140</text>
<text x="3.25" y="295.30" font-size="13.1" text-anchor="start" font-weight="bold" fill="#111" stroke="#111" stroke-width="0" textLength="12.5" lengthAdjust="spacingAndGlyphs">(i)</text>
<text x="14.20" y="348.30" font-size="7.7" text-anchor="middle" font-weight="bold" fill="#222" stroke="#222" stroke-width="0.18" transform="rotate(-90 14.20 348.30)" textLength="90" lengthAdjust="spacingAndGlyphs">Capacitance Change (%)</text>
<text x="99.60" y="417.40" font-size="7.7" text-anchor="middle" font-weight="bold" fill="#222" stroke="#222" stroke-width="0.18" textLength="29.5" lengthAdjust="spacingAndGlyphs">Time (s)</text>
<path d="M38.69 391.68 L38.90 391.71 L39.10 391.68 L39.30 391.70 L39.50 391.70 L39.71 391.69 L39.91 391.72 L40.11 391.68 L40.31 391.77 L40.52 391.71 L40.72 391.75 L40.92 391.66 L41.12 391.72 L41.32 391.71 L41.53 391.76 L41.73 391.66 L41.93 391.63 L42.13 391.60 L42.34 391.68 L42.54 391.75 L42.74 391.79 L42.94 391.76 L43.15 391.77 L43.35 391.77 L43.55 391.74 L43.75 391.70 L43.96 391.69 L44.16 391.66 L44.36 391.71 L44.56 391.68 L44.76 391.76 L44.97 391.70 L45.17 391.67 L45.37 391.65 L45.57 391.67 L45.78 391.67 L45.98 391.67 L46.18 391.71 L46.38 391.75 L46.59 391.68 L46.79 391.70 L46.99 391.68 L47.19 391.71 L47.40 391.68 L47.60 391.69 L47.80 391.66 L48.00 391.69 L48.20 391.66 L48.41 391.70 L48.61 391.63 L48.81 391.61 L49.01 391.61 L49.22 391.58 L49.42 391.55 L49.62 391.52 L49.82 388.08 L50.03 380.60 L50.23 369.29 L50.43 358.28 L50.63 348.33 L50.84 339.68 L51.04 332.01 L51.24 325.63 L51.44 320.30 L51.64 316.12 L51.85 313.06 L52.05 311.12 L52.25 310.18 L52.45 309.85 L52.66 309.78 L52.86 309.77 L53.06 309.85 L53.26 309.91 L53.47 309.93 L53.67 309.86 L53.87 309.89 L54.07 309.92 L54.28 309.96 L54.48 309.92 L54.68 309.96 L54.88 309.99 L55.08 309.93 L55.29 309.91 L55.49 309.82 L55.69 309.91 L55.89 309.89 L56.10 309.97 L56.30 309.93 L56.50 309.97 L56.70 309.91 L56.91 309.94 L57.11 309.88 L57.31 309.90 L57.51 309.90 L57.72 309.94 L57.92 309.94 L58.12 309.86 L58.32 309.86 L58.52 309.89 L58.73 309.88 L58.93 309.83 L59.13 309.77 L59.33 309.85 L59.54 309.92 L59.74 309.97 L59.94 309.99 L60.14 310.01 L60.35 309.98 L60.55 309.94 L60.75 309.89 L60.95 309.91 L61.16 309.95 L61.36 309.93 L61.56 309.90 L61.76 309.85 L61.96 309.86 L62.17 309.86 L62.37 309.81 L62.57 309.78 L62.77 309.77 L62.98 309.84 L63.18 309.89 L63.38 309.93 L63.58 309.87 L63.79 309.86 L63.99 309.86 L64.19 309.92 L64.39 310.18 L64.60 311.27 L64.80 313.95 L65.00 318.26 L65.20 324.04 L65.40 330.89 L65.61 338.52 L65.81 346.66 L66.01 354.87 L66.21 362.93 L66.42 370.45 L66.62 377.04 L66.82 382.47 L67.02 386.40 L67.23 388.77 L67.43 389.71 L67.63 389.95 L67.83 389.94 L68.04 390.02 L68.24 390.08 L68.44 390.10 L68.64 390.22 L68.84 390.23 L69.05 390.30 L69.25 390.31 L69.45 390.38 L69.65 390.43 L69.86 390.52 L70.06 390.57 L70.26 390.66 L70.46 390.70 L70.67 390.75 L70.87 390.85 L71.07 390.89 L71.27 390.96 L71.48 390.99 L71.68 391.07 L71.88 391.13 L72.08 391.20 L72.28 391.27 L72.49 391.33 L72.69 391.42 L72.89 391.40 L73.09 391.48 L73.30 391.49 L73.50 391.59 L73.70 391.64 L73.90 391.71 L74.11 391.75 L74.31 391.68 L74.51 391.63 L74.71 391.57 L74.92 391.59 L75.12 391.54 L75.32 391.55 L75.52 391.57 L75.72 391.55 L75.93 391.51 L76.13 391.44 L76.33 387.08 L76.53 378.71 L76.74 366.77 L76.94 356.09 L77.14 346.51 L77.34 338.02 L77.55 330.57 L77.75 324.38 L77.95 319.35 L78.15 315.45 L78.36 312.63 L78.56 310.91 L78.76 310.10 L78.96 309.87 L79.16 309.86 L79.37 309.93 L79.57 309.95 L79.77 309.89 L79.97 309.83 L80.18 309.82 L80.38 309.87 L80.58 309.86 L80.78 309.83 L80.99 309.87 L81.19 309.88 L81.39 309.92 L81.59 309.88 L81.80 309.93 L82.00 309.93 L82.20 309.95 L82.40 309.93 L82.60 309.97 L82.81 309.98 L83.01 309.96 L83.21 309.96 L83.41 309.96 L83.62 309.94 L83.82 309.92 L84.02 309.91 L84.22 309.96 L84.43 309.90 L84.63 309.92 L84.83 309.88 L85.03 309.88 L85.24 309.87 L85.44 309.89 L85.64 309.90 L85.84 309.85 L86.04 309.86 L86.25 309.94 L86.45 309.95 L86.65 309.96 L86.85 309.89 L87.06 309.90 L87.26 309.90 L87.46 309.90 L87.66 309.85 L87.87 309.85 L88.07 309.88 L88.27 309.91 L88.47 309.85 L88.68 309.87 L88.88 309.83 L89.08 309.85 L89.28 309.83 L89.48 309.86 L89.69 309.90 L89.89 309.93 L90.09 309.92 L90.29 310.16 L90.50 311.26 L90.70 313.92 L90.90 318.23 L91.10 323.98 L91.31 330.90 L91.51 338.57 L91.71 346.68 L91.91 354.84 L92.12 362.83 L92.32 370.33 L92.52 376.98 L92.72 382.47 L92.92 386.48 L93.13 388.76 L93.33 389.73 L93.53 389.87 L93.73 389.91 L93.94 389.94 L94.14 390.04 L94.34 390.17 L94.54 390.24 L94.75 390.28 L94.95 390.26 L95.15 390.31 L95.35 390.42 L95.56 390.53 L95.76 390.66 L95.96 390.65 L96.16 390.72 L96.36 390.78 L96.57 390.84 L96.77 390.85 L96.97 390.92 L97.17 390.98 L97.38 391.03 L97.58 391.04 L97.78 391.17 L97.98 391.23 L98.19 391.29 L98.39 391.30 L98.59 391.32 L98.79 391.34 L99.00 391.37 L99.20 391.52 L99.40 391.63 L99.60 391.71 L99.80 391.75 L100.01 391.68 L100.21 391.69 L100.41 391.65 L100.61 391.70 L100.82 391.69 L101.02 391.61 L101.22 391.57 L101.42 391.52 L101.63 391.55 L101.83 391.59 L102.03 391.60 L102.23 391.53 L102.44 391.44 L102.64 391.36 L102.84 391.41 L103.04 391.46 L103.24 391.52 L103.45 387.19 L103.65 378.95 L103.85 367.15 L104.05 356.52 L104.26 346.98 L104.46 338.60 L104.66 331.30 L104.86 325.19 L105.07 320.10 L105.27 316.21 L105.47 313.43 L105.67 311.82 L105.88 311.08 L106.08 310.86 L106.28 310.83 L106.48 310.85 L106.68 310.87 L106.89 310.84 L107.09 310.85 L107.29 310.80 L107.49 310.80 L107.70 310.77 L107.90 310.79 L108.10 310.78 L108.30 310.80 L108.51 310.75 L108.71 310.84 L108.91 310.85 L109.11 310.87 L109.32 310.87 L109.52 310.83 L109.72 310.89 L109.92 310.83 L110.12 310.90 L110.33 310.81 L110.53 310.81 L110.73 310.75 L110.93 310.79 L111.14 310.78 L111.34 310.80 L111.54 310.82 L111.74 310.87 L111.95 310.85 L112.15 310.86 L112.35 310.79 L112.55 310.86 L112.76 310.86 L112.96 310.95 L113.16 310.89 L113.36 310.80 L113.56 310.76 L113.77 310.78 L113.97 310.85 L114.17 310.80 L114.37 310.79 L114.58 310.81 L114.78 310.89 L114.98 310.89 L115.18 310.91 L115.39 310.82 L115.59 310.87 L115.79 310.85 L115.99 310.87 L116.20 311.11 L116.40 312.21 L116.60 314.87 L116.80 319.13 L117.00 324.89 L117.21 331.63 L117.41 339.28 L117.61 347.25 L117.81 355.38 L118.02 363.30 L118.22 370.82 L118.42 377.48 L118.62 382.91 L118.83 386.87 L119.03 389.12 L119.23 390.09 L119.43 390.23 L119.64 390.25 L119.84 390.25 L120.04 390.27 L120.24 390.37 L120.44 390.37 L120.65 390.47 L120.85 390.42 L121.05 390.45 L121.25 390.40 L121.46 390.48 L121.66 390.59 L121.86 390.70 L122.06 390.71 L122.27 390.73 L122.47 390.71 L122.67 390.82 L122.87 390.86 L123.08 390.90 L123.28 390.89 L123.48 390.92 L123.68 391.04 L123.88 391.13 L124.09 391.20 L124.29 391.15 L124.49 391.12 L124.69 391.16 L124.90 391.20 L125.10 391.32 L125.30 391.32 L125.50 391.35 L125.71 391.35 L125.91 391.33 L126.11 391.37 L126.31 391.41 L126.52 391.49 L126.72 391.52 L126.92 391.51 L127.12 391.47 L127.32 391.51 L127.53 391.47 L127.73 391.52 L127.93 391.55 L128.13 391.58 L128.34 391.61 L128.54 391.57 L128.74 391.56 L128.94 391.52 L129.15 391.54 L129.35 391.62 L129.55 391.64 L129.75 391.69 L129.96 391.64 L130.16 391.69 L130.36 391.65 L130.56 391.69 L130.76 391.67 L130.97 391.70" fill="none" stroke="#333333" stroke-width="1.3" stroke-linejoin="round" stroke-linecap="round"/>
<path d="M38.69 391.73 L38.90 391.76 L39.10 391.73 L39.30 391.71 L39.50 391.64 L39.71 391.65 L39.91 391.63 L40.11 391.71 L40.31 391.79 L40.52 391.75 L40.72 391.75 L40.92 391.71 L41.12 391.74 L41.32 391.74 L41.53 391.75 L41.73 391.78 L41.93 391.74 L42.13 391.74 L42.34 391.72 L42.54 391.75 L42.74 391.76 L42.94 391.78 L43.15 391.79 L43.35 391.80 L43.55 391.73 L43.75 391.69 L43.96 391.63 L44.16 391.72 L44.36 391.67 L44.56 391.71 L44.76 391.63 L44.97 391.67 L45.17 391.65 L45.37 391.71 L45.57 391.69 L45.78 391.74 L45.98 391.74 L46.18 391.82 L46.38 391.79 L46.59 391.76 L46.79 391.74 L46.99 391.69 L47.19 391.73 L47.40 391.70 L47.60 391.77 L47.80 391.72 L48.00 391.69 L48.20 391.64 L48.41 391.69 L48.61 391.74 L48.81 391.73 L49.01 391.62 L49.22 391.62 L49.42 391.60 L49.62 391.61 L49.82 391.51 L50.03 391.52 L50.23 391.49 L50.43 391.51 L50.63 391.43 L50.84 391.49 L51.04 391.42 L51.24 391.46 L51.44 387.97 L51.64 380.68 L51.85 369.74 L52.05 358.97 L52.25 349.28 L52.45 340.78 L52.66 333.41 L52.86 327.17 L53.06 321.97 L53.26 317.89 L53.47 314.89 L53.67 312.94 L53.87 311.96 L54.07 311.65 L54.28 311.70 L54.48 311.75 L54.68 311.75 L54.88 311.70 L55.08 311.68 L55.29 311.69 L55.49 311.77 L55.69 311.78 L55.89 311.76 L56.10 311.70 L56.30 311.75 L56.50 311.77 L56.70 311.81 L56.91 311.80 L57.11 311.78 L57.31 311.74 L57.51 311.68 L57.72 311.77 L57.92 311.75 L58.12 311.73 L58.32 311.65 L58.52 311.66 L58.73 311.67 L58.93 311.68 L59.13 311.70 L59.33 311.74 L59.54 311.74 L59.74 311.72 L59.94 311.67 L60.14 311.73 L60.35 311.71 L60.55 311.75 L60.75 311.68 L60.95 311.77 L61.16 311.72 L61.36 311.74 L61.56 311.72 L61.76 311.74 L61.96 311.79 L62.17 311.80 L62.37 311.84 L62.57 311.84 L62.77 311.81 L62.98 311.76 L63.18 311.71 L63.38 311.69 L63.58 311.75 L63.79 311.74 L63.99 311.73 L64.19 311.70 L64.39 311.68 L64.60 311.68 L64.80 311.70 L65.00 311.79 L65.20 311.81 L65.40 311.77 L65.61 311.80 L65.81 312.50 L66.01 314.43 L66.21 318.00 L66.42 323.19 L66.62 329.54 L66.82 336.81 L67.02 344.56 L67.23 352.53 L67.43 360.42 L67.63 367.93 L67.83 374.83 L68.04 380.69 L68.24 385.26 L68.44 388.17 L68.64 389.49 L68.84 389.84 L69.05 389.91 L69.25 390.05 L69.45 390.14 L69.65 390.16 L69.86 390.18 L70.06 390.20 L70.26 390.25 L70.46 390.34 L70.67 390.40 L70.87 390.54 L71.07 390.52 L71.27 390.63 L71.48 390.67 L71.68 390.71 L71.88 390.75 L72.08 390.82 L72.28 390.88 L72.49 390.92 L72.69 390.90 L72.89 391.02 L73.09 391.09 L73.30 391.14 L73.50 391.19 L73.70 391.19 L73.90 391.33 L74.11 391.36 L74.31 391.50 L74.51 391.53 L74.71 391.67 L74.92 391.73 L75.12 391.72 L75.32 391.68 L75.52 391.59 L75.72 391.65 L75.93 391.64 L76.13 391.69 L76.33 391.64 L76.53 391.57 L76.74 391.50 L76.94 391.50 L77.14 391.48 L77.34 391.42 L77.55 391.37 L77.75 388.01 L77.95 380.66 L78.15 369.72 L78.36 358.89 L78.56 349.28 L78.76 340.74 L78.96 333.37 L79.16 327.06 L79.37 321.88 L79.57 317.79 L79.77 314.75 L79.97 312.88 L80.18 312.02 L80.38 311.75 L80.58 311.79 L80.78 311.74 L80.99 311.77 L81.19 311.72 L81.39 311.76 L81.59 311.75 L81.80 311.71 L82.00 311.68 L82.20 311.68 L82.40 311.77 L82.60 311.82 L82.81 311.88 L83.01 311.78 L83.21 311.73 L83.41 311.72 L83.62 311.76 L83.82 311.80 L84.02 311.81 L84.22 311.83 L84.43 311.81 L84.63 311.75 L84.83 311.76 L85.03 311.76 L85.24 311.79 L85.44 311.77 L85.64 311.80 L85.84 311.73 L86.04 311.72 L86.25 311.68 L86.45 311.71 L86.65 311.74 L86.85 311.72 L87.06 311.72 L87.26 311.69 L87.46 311.76 L87.66 311.81 L87.87 311.83 L88.07 311.77 L88.27 311.70 L88.47 311.73 L88.68 311.80 L88.88 311.83 L89.08 311.77 L89.28 311.77 L89.48 311.75 L89.69 311.82 L89.89 311.80 L90.09 311.88 L90.29 311.86 L90.50 311.86 L90.70 311.76 L90.90 311.69 L91.10 311.71 L91.31 311.78 L91.51 311.84 L91.71 312.53 L91.91 314.46 L92.12 318.13 L92.32 323.27 L92.52 329.59 L92.72 336.79 L92.92 344.52 L93.13 352.45 L93.33 360.40 L93.53 367.97 L93.73 374.84 L93.94 380.67 L94.14 385.14 L94.34 388.07 L94.54 389.41 L94.75 389.85 L94.95 389.96 L95.15 390.02 L95.35 390.07 L95.56 390.08 L95.76 390.15 L95.96 390.18 L96.16 390.27 L96.36 390.36 L96.57 390.40 L96.77 390.43 L96.97 390.50 L97.17 390.59 L97.38 390.68 L97.58 390.69 L97.78 390.81 L97.98 390.81 L98.19 390.89 L98.39 390.91 L98.59 390.96 L98.79 391.05 L99.00 391.12 L99.20 391.27 L99.40 391.30 L99.60 391.31 L99.80 391.30 L100.01 391.38 L100.21 391.43 L100.41 391.55 L100.61 391.62 L100.82 391.69 L101.02 391.64 L101.22 391.61 L101.42 391.59 L101.63 391.59 L101.83 391.60 L102.03 391.56 L102.23 391.55 L102.44 391.54 L102.64 391.58 L102.84 391.55 L103.04 391.54 L103.24 391.54 L103.45 391.52 L103.65 391.48 L103.85 391.43 L104.05 391.44 L104.26 391.38 L104.46 391.40 L104.66 387.18 L104.86 379.15 L105.07 367.50 L105.27 356.97 L105.47 347.48 L105.67 339.16 L105.88 331.97 L106.08 325.93 L106.28 320.97 L106.48 317.14 L106.68 314.33 L106.89 312.65 L107.09 311.86 L107.29 311.75 L107.49 311.76 L107.70 311.77 L107.90 311.73 L108.10 311.71 L108.30 311.69 L108.51 311.67 L108.71 311.67 L108.91 311.70 L109.11 311.69 L109.32 311.76 L109.52 311.75 L109.72 311.77 L109.92 311.72 L110.12 311.77 L110.33 311.83 L110.53 311.83 L110.73 311.78 L110.93 311.75 L111.14 311.80 L111.34 311.86 L111.54 311.88 L111.74 311.83 L111.95 311.75 L112.15 311.68 L112.35 311.71 L112.55 311.74 L112.76 311.81 L112.96 311.76 L113.16 311.80 L113.36 311.81 L113.56 311.83 L113.77 311.85 L113.97 311.82 L114.17 311.88 L114.37 311.85 L114.58 311.82 L114.78 311.74 L114.98 311.79 L115.18 311.76 L115.39 311.83 L115.59 311.81 L115.79 311.83 L115.99 311.81 L116.20 311.80 L116.40 311.80 L116.60 311.82 L116.80 311.77 L117.00 311.80 L117.21 311.75 L117.41 312.27 L117.61 313.88 L117.81 317.25 L118.02 322.12 L118.22 328.30 L118.42 335.32 L118.62 343.06 L118.83 351.07 L119.03 359.06 L119.23 366.72 L119.43 373.72 L119.64 379.85 L119.84 384.71 L120.04 387.98 L120.24 389.64 L120.44 390.13 L120.65 390.14 L120.85 390.12 L121.05 390.15 L121.25 390.26 L121.46 390.28 L121.66 390.41 L121.86 390.44 L122.06 390.56 L122.27 390.56 L122.47 390.58 L122.67 390.56 L122.87 390.60 L123.08 390.68 L123.28 390.77 L123.48 390.81 L123.68 390.86 L123.88 390.90 L124.09 390.90 L124.29 390.92 L124.49 390.93 L124.69 391.03 L124.90 391.05 L125.10 391.11 L125.30 391.14 L125.50 391.20 L125.71 391.18 L125.91 391.15 L126.11 391.17 L126.31 391.18 L126.52 391.23 L126.72 391.26 L126.92 391.31 L127.12 391.41 L127.32 391.48 L127.53 391.57 L127.73 391.50 L127.93 391.45 L128.13 391.40 L128.34 391.48 L128.54 391.53 L128.74 391.59 L128.94 391.57 L129.15 391.51 L129.35 391.51 L129.55 391.58 L129.75 391.68 L129.96 391.69 L130.16 391.61 L130.36 391.56 L130.56 391.56 L130.76 391.66 L130.97 391.72" fill="none" stroke="#3f72e6" stroke-width="1.3" stroke-linejoin="round" stroke-linecap="round"/>
<path d="M38.69 391.82 L38.90 391.75 L39.10 391.72 L39.30 391.63 L39.50 391.61 L39.71 391.58 L39.91 391.63 L40.11 391.64 L40.31 391.71 L40.52 391.75 L40.72 391.78 L40.92 391.74 L41.12 391.73 L41.32 391.76 L41.53 391.81 L41.73 391.74 L41.93 391.69 L42.13 391.59 L42.34 391.59 L42.54 391.62 L42.74 391.64 L42.94 391.70 L43.15 391.66 L43.35 391.65 L43.55 391.68 L43.75 391.76 L43.96 391.83 L44.16 391.78 L44.36 391.74 L44.56 391.76 L44.76 391.74 L44.97 391.69 L45.17 391.65 L45.37 391.73 L45.57 391.72 L45.78 391.71 L45.98 391.71 L46.18 391.77 L46.38 391.76 L46.59 391.67 L46.79 391.65 L46.99 391.65 L47.19 391.72 L47.40 391.75 L47.60 391.72 L47.80 391.70 L48.00 391.72 L48.20 391.75 L48.41 391.77 L48.61 391.75 L48.81 391.74 L49.01 391.67 L49.22 391.61 L49.42 391.56 L49.62 391.56 L49.82 388.38 L50.03 381.44 L50.23 371.16 L50.43 360.99 L50.63 351.92 L50.84 343.78 L51.04 336.71 L51.24 330.72 L51.44 325.74 L51.64 321.81 L51.85 318.89 L52.05 317.08 L52.25 316.14 L52.45 315.79 L52.66 315.72 L52.86 315.71 L53.06 315.59 L53.26 315.49 L53.47 315.40 L53.67 315.34 L53.87 315.20 L54.07 315.10 L54.28 315.02 L54.48 315.03 L54.68 315.00 L54.88 314.90 L55.08 314.74 L55.29 314.67 L55.49 314.69 L55.69 314.67 L55.89 314.50 L56.10 314.40 L56.30 314.28 L56.50 314.20 L56.70 314.07 L56.91 313.97 L57.11 313.96 L57.31 313.93 L57.51 313.95 L57.72 313.82 L57.92 313.74 L58.12 313.57 L58.32 313.49 L58.52 313.40 L58.73 313.34 L58.93 313.32 L59.13 313.21 L59.33 313.20 L59.54 313.06 L59.74 312.94 L59.94 312.78 L60.14 312.78 L60.35 312.71 L60.55 312.67 L60.75 312.50 L60.95 312.46 L61.16 312.37 L61.36 312.32 L61.56 312.21 L61.76 312.19 L61.96 312.17 L62.17 312.11 L62.37 312.01 L62.57 311.90 L62.77 311.88 L62.98 311.75 L63.18 311.71 L63.38 311.54 L63.58 311.46 L63.79 311.34 L63.99 311.33 L64.19 311.27 L64.39 311.47 L64.60 312.54 L64.80 315.19 L65.00 319.40 L65.20 325.07 L65.40 331.81 L65.61 339.42 L65.81 347.35 L66.01 355.38 L66.21 363.19 L66.42 370.63 L66.62 377.23 L66.82 382.69 L67.02 386.57 L67.23 388.84 L67.43 389.72 L67.63 389.88 L67.83 389.87 L68.04 389.99 L68.24 390.15 L68.44 390.27 L68.64 390.26 L68.84 390.26 L69.05 390.28 L69.25 390.36 L69.45 390.44 L69.65 390.49 L69.86 390.53 L70.06 390.54 L70.26 390.58 L70.46 390.63 L70.67 390.69 L70.87 390.74 L71.07 390.80 L71.27 390.95 L71.48 391.03 L71.68 391.07 L71.88 391.09 L72.08 391.13 L72.28 391.26 L72.49 391.26 L72.69 391.37 L72.89 391.37 L73.09 391.50 L73.30 391.58 L73.50 391.67 L73.70 391.72 L73.90 391.76 L74.11 391.75 L74.31 391.66 L74.51 391.58 L74.71 391.51 L74.92 391.51 L75.12 391.47 L75.32 391.45 L75.52 391.43 L75.72 391.47 L75.93 391.53 L76.13 391.54 L76.33 387.44 L76.53 379.56 L76.74 368.22 L76.94 357.91 L77.14 348.74 L77.34 340.67 L77.55 333.67 L77.75 327.66 L77.95 322.78 L78.15 319.00 L78.36 316.35 L78.56 314.69 L78.76 313.95 L78.96 313.67 L79.16 313.68 L79.37 313.61 L79.57 313.53 L79.77 313.50 L79.97 313.46 L80.18 313.45 L80.38 313.36 L80.58 313.27 L80.78 313.25 L80.99 313.17 L81.19 313.15 L81.39 313.04 L81.59 313.08 L81.80 313.09 L82.00 313.12 L82.20 312.98 L82.40 312.96 L82.60 312.92 L82.81 312.89 L83.01 312.74 L83.21 312.71 L83.41 312.69 L83.62 312.68 L83.82 312.58 L84.02 312.50 L84.22 312.45 L84.43 312.45 L84.63 312.45 L84.83 312.48 L85.03 312.39 L85.24 312.35 L85.44 312.28 L85.64 312.21 L85.84 312.12 L86.04 312.04 L86.25 312.02 L86.45 311.98 L86.65 311.93 L86.85 311.92 L87.06 311.93 L87.26 311.95 L87.46 311.93 L87.66 311.86 L87.87 311.80 L88.07 311.75 L88.27 311.69 L88.47 311.56 L88.68 311.45 L88.88 311.43 L89.08 311.40 L89.28 311.41 L89.48 311.38 L89.69 311.39 L89.89 311.32 L90.09 311.21 L90.29 311.40 L90.50 312.48 L90.70 315.13 L90.90 319.37 L91.10 325.10 L91.31 331.78 L91.51 339.39 L91.71 347.30 L91.91 355.44 L92.12 363.24 L92.32 370.62 L92.52 377.12 L92.72 382.58 L92.92 386.62 L93.13 388.92 L93.33 389.77 L93.53 389.93 L93.73 389.94 L93.94 390.03 L94.14 390.04 L94.34 390.14 L94.54 390.25 L94.75 390.37 L94.95 390.34 L95.15 390.38 L95.35 390.38 L95.56 390.48 L95.76 390.56 L95.96 390.68 L96.16 390.79 L96.36 390.79 L96.57 390.84 L96.77 390.80 L96.97 390.91 L97.17 390.91 L97.38 391.05 L97.58 391.07 L97.78 391.17 L97.98 391.21 L98.19 391.30 L98.39 391.37 L98.59 391.44 L98.79 391.47 L99.00 391.51 L99.20 391.56 L99.40 391.62 L99.60 391.67 L99.80 391.72 L100.01 391.77 L100.21 391.74 L100.41 391.71 L100.61 391.65 L100.82 391.62 L101.02 391.55 L101.22 391.60 L101.42 391.56 L101.63 391.55 L101.83 391.51 L102.03 391.56 L102.23 391.59 L102.44 391.58 L102.64 391.52 L102.84 391.48 L103.04 391.46 L103.24 391.48 L103.45 387.22 L103.65 379.02 L103.85 367.29 L104.05 356.69 L104.26 347.21 L104.46 338.86 L104.66 331.61 L104.86 325.44 L105.07 320.32 L105.27 316.39 L105.47 313.64 L105.67 312.03 L105.88 311.26 L106.08 311.01 L106.28 310.94 L106.48 310.90 L106.68 310.86 L106.89 310.93 L107.09 310.92 L107.29 310.95 L107.49 310.93 L107.70 311.00 L107.90 310.95 L108.10 310.94 L108.30 310.94 L108.51 311.00 L108.71 310.91 L108.91 310.86 L109.11 310.80 L109.32 310.88 L109.52 310.87 L109.72 310.91 L109.92 310.88 L110.12 310.85 L110.33 310.84 L110.53 310.84 L110.73 310.79 L110.93 310.77 L111.14 310.75 L111.34 310.84 L111.54 310.82 L111.74 310.77 L111.95 310.76 L112.15 310.77 L112.35 310.74 L112.55 310.67 L112.76 310.69 L112.96 310.70 L113.16 310.69 L113.36 310.63 L113.56 310.66 L113.77 310.63 L113.97 310.59 L114.17 310.51 L114.37 310.50 L114.58 310.55 L114.78 310.52 L114.98 310.58 L115.18 310.59 L115.39 310.61 L115.59 310.52 L115.79 310.53 L115.99 310.56 L116.20 310.88 L116.40 311.98 L116.60 314.62 L116.80 318.94 L117.00 324.66 L117.21 331.45 L117.41 338.98 L117.61 347.07 L117.81 355.23 L118.02 363.31 L118.22 370.71 L118.42 377.39 L118.62 382.81 L118.83 386.86 L119.03 389.06 L119.23 389.98 L119.43 390.09 L119.64 390.16 L119.84 390.23 L120.04 390.29 L120.24 390.37 L120.44 390.33 L120.65 390.41 L120.85 390.44 L121.05 390.49 L121.25 390.54 L121.46 390.56 L121.66 390.67 L121.86 390.67 L122.06 390.75 L122.27 390.78 L122.47 390.88 L122.67 390.83 L122.87 390.91 L123.08 390.90 L123.28 391.00 L123.48 390.99 L123.68 391.04 L123.88 391.03 L124.09 391.10 L124.29 391.17 L124.49 391.28 L124.69 391.23 L124.90 391.28 L125.10 391.32 L125.30 391.40 L125.50 391.39 L125.71 391.34 L125.91 391.40 L126.11 391.45 L126.31 391.54 L126.52 391.49 L126.72 391.48 L126.92 391.46 L127.12 391.44 L127.32 391.43 L127.53 391.39 L127.73 391.40 L127.93 391.45 L128.13 391.45 L128.34 391.52 L128.54 391.55 L128.74 391.56 L128.94 391.61 L129.15 391.62 L129.35 391.70 L129.55 391.69 L129.75 391.60 L129.96 391.55 L130.16 391.54 L130.36 391.60 L130.56 391.61 L130.76 391.58 L130.97 391.56" fill="none" stroke="#e8323c" stroke-width="1.3" stroke-linejoin="round" stroke-linecap="round"/>
<path d="M38.69 391.68 L38.90 391.73 L39.10 391.77 L39.30 391.76 L39.50 391.71 L39.71 391.65 L39.91 391.62 L40.11 391.58 L40.31 391.65 L40.52 391.73 L40.72 391.74 L40.92 391.70 L41.12 391.69 L41.32 391.71 L41.53 391.75 L41.73 391.74 L41.93 391.77 L42.13 391.75 L42.34 391.70 L42.54 391.73 L42.74 391.71 L42.94 391.71 L43.15 391.67 L43.35 391.68 L43.55 391.66 L43.75 391.71 L43.96 391.73 L44.16 391.74 L44.36 391.67 L44.56 391.65 L44.76 391.70 L44.97 391.68 L45.17 391.66 L45.37 391.66 L45.57 391.71 L45.78 391.69 L45.98 391.70 L46.18 391.70 L46.38 391.70 L46.59 391.63 L46.79 391.64 L46.99 391.67 L47.19 391.72 L47.40 391.68 L47.60 391.68 L47.80 391.70 L48.00 391.75 L48.20 391.80 L48.41 391.78 L48.61 391.79 L48.81 391.78 L49.01 391.74 L49.22 391.68 L49.42 391.67 L49.62 391.63 L49.82 388.18 L50.03 380.84 L50.23 370.06 L50.43 359.49 L50.63 349.99 L50.84 341.60 L51.04 334.30 L51.24 328.11 L51.44 322.91 L51.64 318.89 L51.85 315.90 L52.05 313.99 L52.25 313.03 L52.45 312.71 L52.66 312.72 L52.86 312.71 L53.06 312.71 L53.26 312.66 L53.47 312.68 L53.67 312.66 L53.87 312.71 L54.07 312.69 L54.28 312.67 L54.48 312.62 L54.68 312.54 L54.88 312.51 L55.08 312.50 L55.29 312.55 L55.49 312.62 L55.69 312.61 L55.89 312.54 L56.10 312.49 L56.30 312.52 L56.50 312.58 L56.70 312.57 L56.91 312.49 L57.11 312.47 L57.31 312.45 L57.51 312.48 L57.72 312.39 L57.92 312.29 L58.12 312.30 L58.32 312.34 L58.52 312.33 L58.73 312.21 L58.93 312.19 L59.13 312.24 L59.33 312.27 L59.54 312.23 L59.74 312.21 L59.94 312.19 L60.14 312.18 L60.35 312.20 L60.55 312.23 L60.75 312.22 L60.95 312.20 L61.16 312.12 L61.36 312.05 L61.56 312.02 L61.76 311.98 L61.96 311.96 L62.17 311.93 L62.37 311.95 L62.57 311.99 L62.77 311.91 L62.98 311.88 L63.18 311.88 L63.38 311.94 L63.58 311.91 L63.79 311.86 L63.99 311.78 L64.19 311.81 L64.39 311.99 L64.60 313.10 L64.80 315.69 L65.00 319.97 L65.20 325.67 L65.40 332.31 L65.61 339.74 L65.81 347.57 L66.01 355.64 L66.21 363.54 L66.42 370.87 L66.62 377.33 L66.82 382.68 L67.02 386.65 L67.23 388.88 L67.43 389.79 L67.63 389.92 L67.83 390.01 L68.04 390.06 L68.24 390.14 L68.44 390.17 L68.64 390.18 L68.84 390.28 L69.05 390.32 L69.25 390.43 L69.45 390.46 L69.65 390.53 L69.86 390.54 L70.06 390.56 L70.26 390.59 L70.46 390.70 L70.67 390.79 L70.87 390.88 L71.07 390.93 L71.27 391.01 L71.48 391.11 L71.68 391.12 L71.88 391.11 L72.08 391.11 L72.28 391.15 L72.49 391.22 L72.69 391.32 L72.89 391.44 L73.09 391.51 L73.30 391.60 L73.50 391.62 L73.70 391.74 L73.90 391.76 L74.11 391.77 L74.31 391.74 L74.51 391.63 L74.71 391.57 L74.92 391.52 L75.12 391.58 L75.32 391.64 L75.52 391.61 L75.72 391.56 L75.93 391.51 L76.13 391.47 L76.33 387.28 L76.53 379.23 L76.74 367.84 L76.94 357.53 L77.14 348.30 L77.34 340.08 L77.55 332.97 L77.75 326.95 L77.95 322.07 L78.15 318.24 L78.36 315.53 L78.56 313.84 L78.76 313.06 L78.96 312.88 L79.16 312.90 L79.37 312.87 L79.57 312.80 L79.77 312.78 L79.97 312.85 L80.18 312.90 L80.38 312.88 L80.58 312.86 L80.78 312.89 L80.99 312.85 L81.19 312.77 L81.39 312.75 L81.59 312.80 L81.80 312.82 L82.00 312.79 L82.20 312.82 L82.40 312.80 L82.60 312.74 L82.81 312.70 L83.01 312.76 L83.21 312.79 L83.41 312.81 L83.62 312.71 L83.82 312.74 L84.02 312.71 L84.22 312.72 L84.43 312.70 L84.63 312.71 L84.83 312.78 L85.03 312.76 L85.24 312.71 L85.44 312.62 L85.64 312.61 L85.84 312.64 L86.04 312.64 L86.25 312.60 L86.45 312.58 L86.65 312.63 L86.85 312.64 L87.06 312.57 L87.26 312.56 L87.46 312.55 L87.66 312.57 L87.87 312.47 L88.07 312.40 L88.27 312.42 L88.47 312.40 L88.68 312.42 L88.88 312.43 L89.08 312.48 L89.28 312.46 L89.48 312.40 L89.69 312.43 L89.89 312.47 L90.09 312.44 L90.29 312.67 L90.50 313.71 L90.70 316.33 L90.90 320.54 L91.10 326.19 L91.31 332.83 L91.51 340.15 L91.71 347.99 L91.91 355.90 L92.12 363.73 L92.32 370.98 L92.52 377.43 L92.72 382.75 L92.92 386.64 L93.13 388.88 L93.33 389.73 L93.53 389.84 L93.73 389.88 L93.94 390.02 L94.14 390.09 L94.34 390.15 L94.54 390.12 L94.75 390.15 L94.95 390.24 L95.15 390.31 L95.35 390.38 L95.56 390.45 L95.76 390.55 L95.96 390.66 L96.16 390.71 L96.36 390.77 L96.57 390.85 L96.77 390.93 L96.97 390.93 L97.17 390.96 L97.38 390.97 L97.58 391.04 L97.78 391.06 L97.98 391.16 L98.19 391.21 L98.39 391.27 L98.59 391.25 L98.79 391.33 L99.00 391.39 L99.20 391.47 L99.40 391.58 L99.60 391.64 L99.80 391.71 L100.01 391.64 L100.21 391.68 L100.41 391.65 L100.61 391.69 L100.82 391.60 L101.02 391.60 L101.22 391.53 L101.42 391.51 L101.63 391.44 L101.83 391.50 L102.03 391.47 L102.23 391.47 L102.44 391.40 L102.64 391.41 L102.84 391.47 L103.04 391.43 L103.24 391.42 L103.45 387.18 L103.65 379.20 L103.85 367.69 L104.05 357.26 L104.26 347.91 L104.46 339.76 L104.66 332.69 L104.86 326.74 L105.07 321.83 L105.27 317.99 L105.47 315.28 L105.67 313.56 L105.88 312.83 L106.08 312.63 L106.28 312.70 L106.48 312.64 L106.68 312.61 L106.89 312.56 L107.09 312.59 L107.29 312.51 L107.49 312.45 L107.70 312.45 L107.90 312.46 L108.10 312.46 L108.30 312.43 L108.51 312.39 L108.71 312.40 L108.91 312.40 L109.11 312.40 L109.32 312.40 L109.52 312.42 L109.72 312.44 L109.92 312.40 L110.12 312.35 L110.33 312.35 L110.53 312.38 L110.73 312.33 L110.93 312.30 L111.14 312.31 L111.34 312.36 L111.54 312.38 L111.74 312.29 L111.95 312.25 L112.15 312.26 L112.35 312.26 L112.55 312.32 L112.76 312.26 L112.96 312.30 L113.16 312.22 L113.36 312.22 L113.56 312.25 L113.77 312.26 L113.97 312.21 L114.17 312.13 L114.37 312.13 L114.58 312.19 L114.78 312.18 L114.98 312.12 L115.18 312.11 L115.39 312.09 L115.59 312.06 L115.79 312.03 L115.99 312.07 L116.20 312.33 L116.40 313.39 L116.60 315.98 L116.80 320.28 L117.00 325.98 L117.21 332.63 L117.41 340.10 L117.61 347.96 L117.81 356.00 L118.02 363.77 L118.22 371.13 L118.42 377.58 L118.62 382.91 L118.83 386.79 L119.03 389.04 L119.23 390.02 L119.43 390.15 L119.64 390.21 L119.84 390.19 L120.04 390.23 L120.24 390.29 L120.44 390.32 L120.65 390.42 L120.85 390.50 L121.05 390.58 L121.25 390.55 L121.46 390.50 L121.66 390.49 L121.86 390.57 L122.06 390.61 L122.27 390.69 L122.47 390.76 L122.67 390.83 L122.87 390.85 L123.08 390.86 L123.28 390.90 L123.48 391.00 L123.68 391.05 L123.88 391.11 L124.09 391.12 L124.29 391.14 L124.49 391.22 L124.69 391.31 L124.90 391.36 L125.10 391.34 L125.30 391.30 L125.50 391.34 L125.71 391.42 L125.91 391.46 L126.11 391.47 L126.31 391.45 L126.52 391.42 L126.72 391.43 L126.92 391.44 L127.12 391.47 L127.32 391.42 L127.53 391.42 L127.73 391.43 L127.93 391.49 L128.13 391.49 L128.34 391.47 L128.54 391.51 L128.74 391.51 L128.94 391.57 L129.15 391.57 L129.35 391.68 L129.55 391.65 L129.75 391.60 L129.96 391.60 L130.16 391.65 L130.36 391.66 L130.56 391.58 L130.76 391.60 L130.97 391.61" fill="none" stroke="#46b964" stroke-width="1.3" stroke-linejoin="round" stroke-linecap="round"/>
<path d="M123.70 304.50H137.00" stroke="#333333" stroke-width="1.2"/>
<text x="138.80" y="306.55" font-size="5.7" text-anchor="start" font-weight="bold" fill="#222" stroke="#222" stroke-width="0.18">Flat State</text>
<path d="M123.70 311.70H137.00" stroke="#e8323c" stroke-width="1.6"/>
<text x="138.80" y="313.75" font-size="5.7" text-anchor="start" font-weight="bold" fill="#222" stroke="#222" stroke-width="0.18">10 mm</text>
<path d="M123.70 318.80H137.00" stroke="#3f72e6" stroke-width="1.9"/>
<text x="140.30" y="320.85" font-size="5.7" text-anchor="start" font-weight="bold" fill="#222" stroke="#222" stroke-width="0.18">5 mm</text>
<path d="M123.70 326.00H137.00" stroke="#46b964" stroke-width="1.6"/>
<text x="140.30" y="328.05" font-size="5.7" text-anchor="start" font-weight="bold" fill="#222" stroke="#222" stroke-width="0.18">2 mm</text>
<rect x="203.40" y="297.20" width="137.40" height="100.20" fill="none" stroke="#7a7a7a" stroke-width="1"/>
<path d="M211.48 397.40v-2.2M227.65 397.40v-2.2M243.81 397.40v-2.2M259.98 397.40v-2.2M276.14 397.40v-2.2M292.31 397.40v-2.2M308.47 397.40v-2.2M324.64 397.40v-2.2M340.80 397.40v-2.2M219.56 397.40v-1.2M235.73 397.40v-1.2M251.89 397.40v-1.2M268.06 397.40v-1.2M284.22 397.40v-1.2M300.39 397.40v-1.2M316.55 397.40v-1.2M332.72 397.40v-1.2M203.40 393.94h2.2M203.40 380.12h2.2M203.40 366.30h2.2M203.40 352.48h2.2M203.40 338.66h2.2M203.40 324.84h2.2M203.40 311.02h2.2M203.40 297.20h2.2M203.40 387.03h1.2M203.40 373.21h1.2M203.40 359.39h1.2M203.40 345.57h1.2M203.40 331.75h1.2M203.40 317.93h1.2M203.40 304.11h1.2" stroke="#444" stroke-width="0.9" fill="none"/>
<text x="211.48" y="404.90" font-size="6.3" text-anchor="middle" font-weight="bold" fill="#222" stroke="#222" stroke-width="0.18">0</text>
<text x="227.65" y="404.90" font-size="6.3" text-anchor="middle" font-weight="bold" fill="#222" stroke="#222" stroke-width="0.18">20</text>
<text x="243.81" y="404.90" font-size="6.3" text-anchor="middle" font-weight="bold" fill="#222" stroke="#222" stroke-width="0.18">40</text>
<text x="259.98" y="404.90" font-size="6.3" text-anchor="middle" font-weight="bold" fill="#222" stroke="#222" stroke-width="0.18">60</text>
<text x="276.14" y="404.90" font-size="6.3" text-anchor="middle" font-weight="bold" fill="#222" stroke="#222" stroke-width="0.18">80</text>
<text x="292.31" y="404.90" font-size="6.3" text-anchor="middle" font-weight="bold" fill="#222" stroke="#222" stroke-width="0.18">100</text>
<text x="308.47" y="404.90" font-size="6.3" text-anchor="middle" font-weight="bold" fill="#222" stroke="#222" stroke-width="0.18">120</text>
<text x="324.64" y="404.90" font-size="6.3" text-anchor="middle" font-weight="bold" fill="#222" stroke="#222" stroke-width="0.18">140</text>
<text x="340.80" y="404.90" font-size="6.3" text-anchor="middle" font-weight="bold" fill="#222" stroke="#222" stroke-width="0.18">160</text>
<text x="201.60" y="396.21" font-size="6.3" text-anchor="end" font-weight="bold" fill="#222" stroke="#222" stroke-width="0.18">0</text>
<text x="201.60" y="382.39" font-size="6.3" text-anchor="end" font-weight="bold" fill="#222" stroke="#222" stroke-width="0.18">20</text>
<text x="201.60" y="368.57" font-size="6.3" text-anchor="end" font-weight="bold" fill="#222" stroke="#222" stroke-width="0.18">40</text>
<text x="201.60" y="354.75" font-size="6.3" text-anchor="end" font-weight="bold" fill="#222" stroke="#222" stroke-width="0.18">60</text>
<text x="201.60" y="340.93" font-size="6.3" text-anchor="end" font-weight="bold" fill="#222" stroke="#222" stroke-width="0.18">80</text>
<text x="201.60" y="327.11" font-size="6.3" text-anchor="end" font-weight="bold" fill="#222" stroke="#222" stroke-width="0.18">100</text>
<text x="201.60" y="313.29" font-size="6.3" text-anchor="end" font-weight="bold" fill="#222" stroke="#222" stroke-width="0.18">120</text>
<text x="201.60" y="299.47" font-size="6.3" text-anchor="end" font-weight="bold" fill="#222" stroke="#222" stroke-width="0.18">140</text>
<text x="174.35" y="295.30" font-size="13.1" text-anchor="start" font-weight="bold" fill="#111" stroke="#111" stroke-width="0" textLength="14.3" lengthAdjust="spacingAndGlyphs">(j)</text>
<text x="185.20" y="347.80" font-size="7.7" text-anchor="middle" font-weight="bold" fill="#222" stroke="#222" stroke-width="0.18" transform="rotate(-90 185.20 347.80)" textLength="90" lengthAdjust="spacingAndGlyphs">Capacitance Change (%)</text>
<text x="272.40" y="417.00" font-size="7.8" text-anchor="middle" font-weight="bold" fill="#222" stroke="#222" stroke-width="0.18" textLength="29.8" lengthAdjust="spacingAndGlyphs">Time (s)</text>
<path d="M211.48 393.94 L211.68 393.98 L211.89 394.08 L212.09 394.04 L212.29 393.97 L212.49 393.94 L212.69 393.97 L212.90 394.03 L213.10 394.06 L213.30 394.05 L213.50 394.02 L213.71 393.95 L213.91 393.95 L214.11 393.91 L214.31 393.92 L214.51 393.78 L214.72 393.77 L214.92 393.69 L215.12 393.76 L215.32 393.80 L215.52 393.85 L215.73 393.90 L215.93 393.89 L216.13 393.97 L216.33 393.88 L216.53 393.74 L216.74 393.68 L216.94 393.73 L217.14 393.81 L217.34 393.81 L217.54 393.75 L217.75 393.75 L217.95 393.77 L218.15 393.74 L218.35 393.70 L218.55 393.72 L218.76 393.72 L218.96 393.69 L219.16 393.62 L219.36 393.65 L219.56 393.61 L219.77 393.60 L219.97 393.62 L220.17 393.72 L220.37 393.69 L220.58 393.64 L220.78 393.57 L220.98 393.50 L221.18 393.57 L221.38 393.63 L221.59 393.63 L221.79 393.52 L221.99 393.48 L222.19 393.51 L222.39 393.58 L222.60 384.76 L222.80 367.30 L223.00 343.58 L223.20 325.02 L223.40 313.87 L223.61 308.79 L223.81 307.43 L224.01 307.43 L224.21 307.51 L224.41 307.55 L224.62 307.46 L224.82 307.44 L225.02 307.36 L225.22 307.37 L225.42 307.33 L225.63 307.31 L225.83 307.25 L226.03 307.24 L226.23 307.33 L226.43 307.35 L226.64 307.32 L226.84 307.23 L227.04 307.24 L227.24 307.26 L227.44 307.31 L227.65 307.28 L227.85 307.18 L228.05 307.14 L228.25 307.14 L228.46 307.22 L228.66 307.16 L228.86 307.17 L229.06 307.10 L229.26 307.21 L229.47 307.19 L229.67 307.28 L229.87 307.14 L230.07 307.13 L230.27 307.09 L230.48 307.20 L230.68 307.17 L230.88 307.07 L231.08 306.95 L231.28 306.83 L231.49 306.78 L231.69 306.80 L231.89 306.78 L232.09 306.90 L232.29 306.83 L232.50 306.90 L232.70 306.86 L232.90 306.88 L233.10 306.80 L233.30 306.75 L233.51 306.84 L233.71 306.83 L233.91 306.75 L234.11 306.66 L234.31 306.63 L234.52 306.73 L234.72 306.80 L234.92 306.93 L235.12 306.92 L235.33 306.80 L235.53 306.70 L235.73 306.67 L235.93 306.75 L236.13 306.81 L236.34 306.71 L236.54 306.63 L236.74 307.07 L236.94 308.93 L237.14 312.52 L237.35 318.00 L237.55 324.78 L237.75 332.74 L237.95 341.31 L238.15 350.11 L238.36 358.87 L238.56 367.34 L238.76 375.30 L238.96 382.22 L239.16 387.71 L239.37 391.32 L239.57 392.50 L239.77 392.55 L239.97 392.03 L240.17 392.10 L240.38 392.16 L240.58 392.23 L240.78 392.27 L240.98 392.22 L241.19 392.27 L241.39 392.29 L241.59 392.32 L241.79 392.37 L241.99 392.48 L242.20 392.45 L242.40 392.40 L242.60 392.34 L242.80 392.42 L243.00 392.55 L243.21 392.69 L243.41 392.74 L243.61 392.67 L243.81 392.71 L244.01 392.65 L244.22 392.65 L244.42 392.58 L244.62 392.72 L244.82 392.72 L245.02 392.75 L245.23 392.65 L245.43 392.70 L245.63 392.65 L245.83 392.70 L246.03 392.64 L246.24 392.61 L246.44 392.53 L246.64 392.59 L246.84 392.70 L247.04 392.79 L247.25 392.85 L247.45 392.76 L247.65 392.70 L247.85 392.61 L248.06 392.63 L248.26 392.60 L248.46 392.62 L248.66 392.70 L248.86 392.74 L249.07 392.81 L249.27 392.77 L249.47 392.86 L249.67 392.77 L249.87 392.79 L250.08 393.04 L250.28 382.77 L250.48 364.48 L250.68 340.11 L250.88 323.22 L251.09 313.59 L251.29 309.63 L251.49 308.86 L251.69 308.72 L251.89 308.73 L252.10 308.74 L252.30 308.72 L252.50 308.78 L252.70 308.71 L252.90 308.83 L253.11 308.78 L253.31 308.88 L253.51 308.74 L253.71 308.69 L253.91 308.58 L254.12 308.66 L254.32 308.60 L254.52 308.60 L254.72 308.61 L254.93 308.63 L255.13 308.60 L255.33 308.57 L255.53 308.53 L255.73 308.58 L255.94 308.54 L256.14 308.48 L256.34 308.36 L256.54 308.24 L256.74 308.31 L256.95 308.35 L257.15 308.37 L257.35 308.30 L257.55 308.30 L257.75 308.28 L257.96 308.32 L258.16 308.22 L258.36 308.27 L258.56 308.30 L258.76 308.32 L258.97 308.35 L259.17 308.25 L259.37 308.35 L259.57 308.19 L259.77 308.20 L259.98 308.07 L260.18 308.20 L260.38 308.17 L260.58 308.21 L260.78 308.17 L260.99 308.13 L261.19 308.17 L261.39 308.12 L261.59 308.22 L261.80 308.07 L262.00 307.99 L262.20 307.98 L262.40 308.03 L262.60 308.08 L262.81 307.96 L263.01 307.90 L263.21 307.90 L263.41 307.85 L263.61 308.07 L263.82 309.08 L264.02 311.55 L264.22 315.88 L264.42 321.77 L264.62 328.97 L264.83 336.97 L265.03 345.56 L265.23 354.29 L265.43 362.92 L265.63 371.00 L265.84 378.46 L266.04 384.56 L266.24 389.32 L266.44 391.46 L266.64 392.19 L266.85 391.80 L267.05 391.89 L267.25 391.95 L267.45 392.08 L267.65 392.11 L267.86 392.19 L268.06 392.31 L268.26 392.34 L268.46 392.32 L268.67 392.26 L268.87 392.32 L269.07 392.44 L269.27 392.50 L269.47 392.52 L269.68 392.42 L269.88 392.37 L270.08 392.49 L270.28 392.56 L270.48 392.63 L270.69 392.61 L270.89 392.70 L271.09 392.78 L271.29 392.79 L271.49 392.74 L271.70 392.73 L271.90 392.76 L272.10 392.76 L272.30 392.69 L272.50 392.66 L272.71 392.73 L272.91 392.71 L273.11 392.75 L273.31 392.63 L273.51 392.62 L273.72 392.66 L273.92 392.73 L274.12 392.73 L274.32 392.70 L274.52 392.70 L274.73 392.81 L274.93 392.87 L275.13 392.93 L275.33 392.96 L275.54 392.92 L275.74 392.86 L275.94 392.79 L276.14 392.68 L276.34 392.68 L276.55 392.71 L276.75 392.71 L276.95 392.72 L277.15 388.40 L277.35 374.45 L277.56 353.28 L277.76 331.72 L277.96 317.61 L278.16 310.51 L278.36 307.96 L278.57 307.81 L278.77 307.68 L278.97 307.81 L279.17 307.84 L279.37 307.89 L279.58 307.85 L279.78 307.75 L279.98 307.81 L280.18 307.69 L280.38 307.65 L280.59 307.54 L280.79 307.51 L280.99 307.44 L281.19 307.43 L281.39 307.45 L281.60 307.59 L281.80 307.68 L282.00 307.71 L282.20 307.53 L282.40 307.48 L282.61 307.44 L282.81 307.58 L283.01 307.54 L283.21 307.47 L283.42 307.36 L283.62 307.28 L283.82 307.41 L284.02 307.46 L284.22 307.55 L284.43 307.40 L284.63 307.40 L284.83 307.26 L285.03 307.34 L285.23 307.19 L285.44 307.25 L285.64 307.22 L285.84 307.19 L286.04 307.19 L286.24 307.12 L286.45 307.25 L286.65 307.16 L286.85 307.10 L287.05 307.08 L287.25 307.08 L287.46 307.17 L287.66 307.15 L287.86 307.20 L288.06 307.12 L288.26 306.97 L288.47 306.86 L288.67 306.79 L288.87 306.82 L289.07 306.86 L289.27 306.98 L289.48 306.95 L289.68 306.95 L289.88 306.90 L290.08 306.86 L290.29 306.89 L290.49 307.17 L290.69 308.53 L290.89 311.40 L291.09 316.04 L291.30 322.19 L291.50 329.63 L291.70 337.92 L291.90 346.72 L292.10 355.55 L292.31 364.26 L292.51 372.40 L292.71 379.72 L292.91 385.75 L293.11 390.14 L293.32 391.78 L293.52 391.85 L293.72 391.22 L293.92 391.13 L294.12 391.21 L294.33 391.24 L294.53 391.29 L294.73 391.27 L294.93 391.23 L295.13 391.18 L295.34 391.21 L295.54 391.16 L295.74 391.14 L295.94 391.11 L296.14 391.13 L296.35 391.12 L296.55 391.10 L296.75 391.15 L296.95 391.28 L297.16 391.37 L297.36 391.34 L297.56 391.34 L297.76 391.25 L297.96 391.24 L298.17 391.20 L298.37 391.22 L298.57 391.14 L298.77 391.15 L298.97 391.21 L299.18 391.31 L299.38 391.30 L299.58 391.17 L299.78 391.11 L299.98 391.09 L300.19 391.21 L300.39 391.32 L300.59 391.37 L300.79 391.26 L300.99 391.16 L301.20 391.16 L301.40 391.19 L301.60 391.29 L301.80 391.23 L302.00 391.28 L302.21 391.27 L302.41 391.23 L302.61 391.17 L302.81 391.10 L303.01 391.20 L303.22 391.21 L303.42 391.22 L303.62 391.14 L303.82 391.23 L304.03 391.24" fill="none" stroke="#333333" stroke-width="1.3" stroke-linejoin="round" stroke-linecap="round"/>
<path d="M211.48 393.96 L211.68 394.00 L211.89 394.07 L212.09 394.03 L212.29 394.05 L212.49 394.00 L212.69 393.86 L212.90 393.82 L213.10 393.88 L213.30 393.92 L213.50 393.93 L213.71 393.90 L213.91 393.90 L214.11 393.86 L214.31 393.89 L214.51 393.98 L214.72 393.96 L214.92 393.82 L215.12 393.67 L215.32 393.74 L215.52 393.81 L215.73 393.87 L215.93 393.85 L216.13 393.82 L216.33 393.81 L216.53 393.70 L216.74 393.76 L216.94 393.68 L217.14 393.67 L217.34 393.64 L217.54 393.76 L217.75 393.80 L217.95 393.85 L218.15 393.76 L218.35 393.72 L218.55 393.64 L218.76 393.58 L218.96 393.68 L219.16 393.65 L219.36 393.68 L219.56 393.66 L219.77 393.72 L219.97 393.83 L220.17 393.75 L220.37 393.68 L220.58 393.62 L220.78 393.60 L220.98 393.65 L221.18 393.58 L221.38 393.64 L221.59 393.54 L221.79 393.57 L221.99 393.61 L222.19 393.76 L222.39 393.71 L222.60 385.16 L222.80 368.29 L223.00 345.63 L223.20 327.70 L223.40 316.92 L223.61 312.14 L223.81 311.01 L224.01 311.01 L224.21 311.01 L224.41 311.06 L224.62 311.10 L224.82 310.95 L225.02 310.79 L225.22 310.78 L225.42 310.77 L225.63 310.79 L225.83 310.69 L226.03 310.73 L226.23 310.70 L226.43 310.72 L226.64 310.65 L226.84 310.71 L227.04 310.77 L227.24 310.83 L227.44 310.83 L227.65 310.80 L227.85 310.81 L228.05 310.80 L228.25 310.75 L228.46 310.76 L228.66 310.79 L228.86 310.80 L229.06 310.74 L229.26 310.71 L229.47 310.67 L229.67 310.71 L229.87 310.68 L230.07 310.74 L230.27 310.63 L230.48 310.60 L230.68 310.50 L230.88 310.53 L231.08 310.60 L231.28 310.56 L231.49 310.56 L231.69 310.53 L231.89 310.62 L232.09 310.63 L232.29 310.56 L232.50 310.47 L232.70 310.44 L232.90 310.43 L233.10 310.52 L233.30 310.51 L233.51 310.56 L233.71 310.54 L233.91 310.54 L234.11 310.47 L234.31 310.39 L234.52 310.41 L234.72 310.48 L234.92 310.46 L235.12 310.38 L235.33 310.30 L235.53 310.31 L235.73 310.30 L235.93 310.35 L236.13 310.43 L236.34 310.48 L236.54 310.52 L236.74 310.92 L236.94 312.63 L237.14 316.02 L237.35 321.18 L237.55 327.63 L237.75 335.21 L237.95 343.48 L238.15 352.10 L238.36 360.51 L238.56 368.62 L238.76 376.06 L238.96 382.63 L239.16 387.86 L239.37 391.35 L239.57 392.37 L239.77 392.18 L239.97 391.52 L240.17 391.57 L240.38 391.71 L240.58 391.85 L240.78 391.99 L240.98 391.96 L241.19 392.05 L241.39 392.12 L241.59 392.27 L241.79 392.19 L241.99 392.12 L242.20 392.14 L242.40 392.18 L242.60 392.20 L242.80 392.21 L243.00 392.34 L243.21 392.38 L243.41 392.41 L243.61 392.44 L243.81 392.44 L244.01 392.44 L244.22 392.41 L244.42 392.48 L244.62 392.52 L244.82 392.59 L245.02 392.63 L245.23 392.62 L245.43 392.63 L245.63 392.64 L245.83 392.59 L246.03 392.54 L246.24 392.50 L246.44 392.53 L246.64 392.56 L246.84 392.67 L247.04 392.66 L247.25 392.60 L247.45 392.56 L247.65 392.64 L247.85 392.60 L248.06 392.51 L248.26 392.50 L248.46 392.55 L248.66 392.61 L248.86 392.59 L249.07 392.68 L249.27 392.73 L249.47 392.68 L249.67 392.59 L249.87 392.56 L250.08 392.98 L250.28 383.01 L250.48 365.06 L250.68 341.15 L250.88 324.49 L251.09 314.93 L251.29 311.07 L251.49 310.19 L251.69 310.28 L251.89 310.15 L252.10 310.26 L252.30 310.20 L252.50 310.26 L252.70 310.29 L252.90 310.24 L253.11 310.16 L253.31 310.11 L253.51 310.11 L253.71 310.15 L253.91 310.02 L254.12 310.13 L254.32 310.13 L254.52 310.25 L254.72 310.14 L254.93 310.07 L255.13 309.96 L255.33 309.96 L255.53 310.01 L255.73 310.01 L255.94 310.07 L256.14 310.08 L256.34 310.08 L256.54 310.01 L256.74 309.89 L256.95 309.98 L257.15 309.97 L257.35 310.08 L257.55 310.09 L257.75 310.14 L257.96 310.15 L258.16 310.08 L258.36 310.01 L258.56 309.93 L258.76 309.94 L258.97 309.88 L259.17 309.87 L259.37 309.75 L259.57 309.82 L259.77 309.81 L259.98 309.88 L260.18 309.84 L260.38 309.77 L260.58 309.81 L260.78 309.72 L260.99 309.79 L261.19 309.76 L261.39 309.79 L261.59 309.74 L261.80 309.74 L262.00 309.82 L262.20 309.74 L262.40 309.72 L262.60 309.70 L262.81 309.74 L263.01 309.71 L263.21 309.66 L263.41 309.70 L263.61 309.79 L263.82 310.74 L264.02 313.13 L264.22 317.34 L264.42 323.12 L264.62 330.13 L264.83 338.13 L265.03 346.50 L265.23 355.07 L265.43 363.51 L265.63 371.56 L265.84 378.83 L266.04 384.83 L266.24 389.39 L266.44 391.37 L266.64 391.98 L266.85 391.56 L267.05 391.76 L267.25 391.86 L267.45 391.89 L267.65 391.85 L267.86 391.83 L268.06 391.96 L268.26 392.04 L268.46 392.16 L268.67 392.25 L268.87 392.26 L269.07 392.22 L269.27 392.24 L269.47 392.26 L269.68 392.38 L269.88 392.35 L270.08 392.45 L270.28 392.41 L270.48 392.48 L270.69 392.43 L270.89 392.51 L271.09 392.50 L271.29 392.50 L271.49 392.51 L271.70 392.55 L271.90 392.55 L272.10 392.50 L272.30 392.46 L272.50 392.45 L272.71 392.45 L272.91 392.52 L273.11 392.58 L273.31 392.55 L273.51 392.50 L273.72 392.45 L273.92 392.53 L274.12 392.55 L274.32 392.52 L274.52 392.45 L274.73 392.42 L274.93 392.57 L275.13 392.60 L275.33 392.71 L275.54 392.57 L275.74 392.52 L275.94 392.41 L276.14 392.52 L276.34 392.54 L276.55 392.63 L276.75 392.54 L276.95 392.60 L277.15 388.47 L277.35 374.78 L277.56 354.04 L277.76 332.67 L277.96 318.78 L278.16 311.72 L278.36 309.31 L278.57 309.18 L278.77 309.10 L278.97 309.17 L279.17 309.18 L279.37 309.26 L279.58 309.29 L279.78 309.26 L279.98 309.20 L280.18 309.18 L280.38 309.15 L280.59 309.18 L280.79 309.14 L280.99 309.00 L281.19 308.89 L281.39 308.78 L281.60 308.75 L281.80 308.81 L282.00 308.81 L282.20 308.90 L282.40 308.81 L282.61 308.79 L282.81 308.70 L283.01 308.80 L283.21 308.90 L283.42 308.85 L283.62 308.79 L283.82 308.69 L284.02 308.68 L284.22 308.73 L284.43 308.70 L284.63 308.75 L284.83 308.63 L285.03 308.65 L285.23 308.68 L285.44 308.64 L285.64 308.65 L285.84 308.55 L286.04 308.55 L286.24 308.54 L286.45 308.53 L286.65 308.59 L286.85 308.57 L287.05 308.64 L287.25 308.53 L287.46 308.49 L287.66 308.43 L287.86 308.48 L288.06 308.52 L288.26 308.47 L288.47 308.41 L288.67 308.26 L288.87 308.31 L289.07 308.38 L289.27 308.45 L289.48 308.37 L289.68 308.28 L289.88 308.26 L290.08 308.28 L290.29 308.34 L290.49 308.50 L290.69 309.73 L290.89 312.48 L291.09 317.14 L291.30 323.34 L291.50 330.62 L291.70 338.84 L291.90 347.36 L292.10 356.22 L292.31 364.79 L292.51 372.82 L292.71 379.87 L292.91 385.73 L293.11 390.04 L293.32 391.73 L293.52 391.89 L293.72 391.32 L293.92 391.22 L294.12 391.25 L294.33 391.12 L294.53 391.16 L294.73 391.10 L294.93 391.14 L295.13 391.20 L295.34 391.18 L295.54 391.23 L295.74 391.11 L295.94 391.11 L296.14 391.05 L296.35 391.05 L296.55 391.11 L296.75 391.11 L296.95 391.09 L297.16 391.13 L297.36 391.22 L297.56 391.31 L297.76 391.26 L297.96 391.25 L298.17 391.28 L298.37 391.22 L298.57 391.18 L298.77 391.20 L298.97 391.31 L299.18 391.28 L299.38 391.27 L299.58 391.22 L299.78 391.23 L299.98 391.19 L300.19 391.18 L300.39 391.14 L300.59 391.20 L300.79 391.13 L300.99 391.24 L301.20 391.23 L301.40 391.26 L301.60 391.20 L301.80 391.12 L302.00 391.21 L302.21 391.17 L302.41 391.21 L302.61 391.13 L302.81 391.22 L303.01 391.18 L303.22 391.19 L303.42 391.17 L303.62 391.18 L303.82 391.27 L304.03 391.29" fill="none" stroke="#e8323c" stroke-width="1.3" stroke-linejoin="round" stroke-linecap="round"/>
<path d="M211.48 393.86 L211.68 393.94 L211.89 393.94 L212.09 393.92 L212.29 393.92 L212.49 393.86 L212.69 393.83 L212.90 393.83 L213.10 393.91 L213.30 394.03 L213.50 393.98 L213.71 394.00 L213.91 393.92 L214.11 393.91 L214.31 393.87 L214.51 393.86 L214.72 393.83 L214.92 393.74 L215.12 393.69 L215.32 393.72 L215.52 393.80 L215.73 393.90 L215.93 393.86 L216.13 393.87 L216.33 393.74 L216.53 393.66 L216.74 393.51 L216.94 393.58 L217.14 393.68 L217.34 393.71 L217.54 393.67 L217.75 393.51 L217.95 393.52 L218.15 393.45 L218.35 393.46 L218.55 393.24 L218.76 393.08 L218.96 392.89 L219.16 392.84 L219.36 392.67 L219.56 392.56 L219.77 392.60 L219.97 392.82 L220.17 393.02 L220.37 393.08 L220.58 393.18 L220.78 393.27 L220.98 393.45 L221.18 393.53 L221.38 393.58 L221.59 393.63 L221.79 393.62 L221.99 393.57 L222.19 393.60 L222.39 393.63 L222.60 385.36 L222.80 368.71 L223.00 346.39 L223.20 328.78 L223.40 318.24 L223.61 313.39 L223.81 312.22 L224.01 312.28 L224.21 312.34 L224.41 312.29 L224.62 312.17 L224.82 312.16 L225.02 312.16 L225.22 312.15 L225.42 312.06 L225.63 312.14 L225.83 312.15 L226.03 312.18 L226.23 312.07 L226.43 312.07 L226.64 312.08 L226.84 312.05 L227.04 312.04 L227.24 311.91 L227.44 311.95 L227.65 311.89 L227.85 311.86 L228.05 311.88 L228.25 311.83 L228.46 311.93 L228.66 311.77 L228.86 311.87 L229.06 311.74 L229.26 311.81 L229.47 311.77 L229.67 311.80 L229.87 311.76 L230.07 311.70 L230.27 311.73 L230.48 311.70 L230.68 311.70 L230.88 311.55 L231.08 311.55 L231.28 311.51 L231.49 311.61 L231.69 311.49 L231.89 311.49 L232.09 311.40 L232.29 311.41 L232.50 311.37 L232.70 311.34 L232.90 311.41 L233.10 311.43 L233.30 311.53 L233.51 311.48 L233.71 311.34 L233.91 311.29 L234.11 311.27 L234.31 311.27 L234.52 311.24 L234.72 311.27 L234.92 311.28 L235.12 311.24 L235.33 311.09 L235.53 311.01 L235.73 311.02 L235.93 311.06 L236.13 311.12 L236.34 311.14 L236.54 311.15 L236.74 311.60 L236.94 313.28 L237.14 316.72 L237.35 321.87 L237.55 328.35 L237.75 335.74 L237.95 343.94 L238.15 352.34 L238.36 360.81 L238.56 368.92 L238.76 376.35 L238.96 382.89 L239.16 387.94 L239.37 391.45 L239.57 392.85 L239.77 393.11 L239.97 392.82 L240.17 392.87 L240.38 392.91 L240.58 392.88 L240.78 392.91 L240.98 392.83 L241.19 392.88 L241.39 392.89 L241.59 393.00 L241.79 392.96 L241.99 393.01 L242.20 392.95 L242.40 393.09 L242.60 392.96 L242.80 393.03 L243.00 392.96 L243.21 392.98 L243.41 393.04 L243.61 393.14 L243.81 393.18 L244.01 393.11 L244.22 393.01 L244.42 393.08 L244.62 393.11 L244.82 393.20 L245.02 393.18 L245.23 393.22 L245.43 393.16 L245.63 393.19 L245.83 393.19 L246.03 393.19 L246.24 393.22 L246.44 393.14 L246.64 393.17 L246.84 393.15 L247.04 393.26 L247.25 393.26 L247.45 393.22 L247.65 393.12 L247.85 393.15 L248.06 393.16 L248.26 393.14 L248.46 393.16 L248.66 393.07 L248.86 393.07 L249.07 392.95 L249.27 392.96 L249.47 393.06 L249.67 393.09 L249.87 393.15 L250.08 393.30 L250.28 383.22 L250.48 365.34 L250.68 341.78 L250.88 325.49 L251.09 316.28 L251.29 312.42 L251.49 311.71 L251.69 311.67 L251.89 311.70 L252.10 311.69 L252.30 311.64 L252.50 311.62 L252.70 311.62 L252.90 311.58 L253.11 311.67 L253.31 311.60 L253.51 311.59 L253.71 311.48 L253.91 311.54 L254.12 311.61 L254.32 311.55 L254.52 311.49 L254.72 311.44 L254.93 311.52 L255.13 311.46 L255.33 311.40 L255.53 311.35 L255.73 311.38 L255.94 311.40 L256.14 311.41 L256.34 311.44 L256.54 311.36 L256.74 311.28 L256.95 311.18 L257.15 311.16 L257.35 311.23 L257.55 311.21 L257.75 311.32 L257.96 311.26 L258.16 311.27 L258.36 311.15 L258.56 311.13 L258.76 311.09 L258.97 311.19 L259.17 311.18 L259.37 311.24 L259.57 311.22 L259.77 311.28 L259.98 311.22 L260.18 311.12 L260.38 311.03 L260.58 311.04 L260.78 311.14 L260.99 311.24 L261.19 311.25 L261.39 311.23 L261.59 311.19 L261.80 311.26 L262.00 311.25 L262.20 311.18 L262.40 311.15 L262.60 311.03 L262.81 311.08 L263.01 310.97 L263.21 311.05 L263.41 311.05 L263.61 311.25 L263.82 312.24 L264.02 314.58 L264.22 318.74 L264.42 324.43 L264.62 331.24 L264.83 338.99 L265.03 347.27 L265.23 355.73 L265.43 364.10 L265.63 371.93 L265.84 379.17 L266.04 385.14 L266.24 389.56 L266.44 391.85 L266.64 392.64 L266.85 392.65 L267.05 392.74 L267.25 392.71 L267.45 392.72 L267.65 392.65 L267.86 392.69 L268.06 392.76 L268.26 392.81 L268.46 392.98 L268.67 392.91 L268.87 392.93 L269.07 392.84 L269.27 392.89 L269.47 392.90 L269.68 393.01 L269.88 393.02 L270.08 393.12 L270.28 393.10 L270.48 393.16 L270.69 393.10 L270.89 393.08 L271.09 393.00 L271.29 393.02 L271.49 393.02 L271.70 393.00 L271.90 392.98 L272.10 392.99 L272.30 393.09 L272.50 393.08 L272.71 393.11 L272.91 393.15 L273.11 393.25 L273.31 393.20 L273.51 393.07 L273.72 393.03 L273.92 393.03 L274.12 393.04 L274.32 393.02 L274.52 393.05 L274.73 393.13 L274.93 393.14 L275.13 393.16 L275.33 393.22 L275.54 393.24 L275.74 393.16 L275.94 393.14 L276.14 393.13 L276.34 393.12 L276.55 393.14 L276.75 393.23 L276.95 393.30 L277.15 389.03 L277.35 375.37 L277.56 354.87 L277.76 334.13 L277.96 320.57 L278.16 313.76 L278.36 311.46 L278.57 311.22 L278.77 311.28 L278.97 311.28 L279.17 311.35 L279.37 311.36 L279.58 311.27 L279.78 311.27 L279.98 311.10 L280.18 311.09 L280.38 311.01 L280.59 311.02 L280.79 310.98 L280.99 311.06 L281.19 311.12 L281.39 311.12 L281.60 311.08 L281.80 311.01 L282.00 310.99 L282.20 310.98 L282.40 310.98 L282.61 310.88 L282.81 310.88 L283.01 310.91 L283.21 311.05 L283.42 311.06 L283.62 311.09 L283.82 311.00 L284.02 310.87 L284.22 310.75 L284.43 310.65 L284.63 310.63 L284.83 310.63 L285.03 310.68 L285.23 310.80 L285.44 310.81 L285.64 310.85 L285.84 310.73 L286.04 310.77 L286.24 310.71 L286.45 310.73 L286.65 310.65 L286.85 310.65 L287.05 310.68 L287.25 310.63 L287.46 310.55 L287.66 310.45 L287.86 310.54 L288.06 310.55 L288.26 310.49 L288.47 310.34 L288.67 310.30 L288.87 310.41 L289.07 310.41 L289.27 310.41 L289.48 310.36 L289.68 310.34 L289.88 310.30 L290.08 310.18 L290.29 310.27 L290.49 310.55 L290.69 311.82 L290.89 314.55 L291.09 319.05 L291.30 325.02 L291.50 332.15 L291.70 340.13 L291.90 348.49 L292.10 357.00 L292.31 365.29 L292.51 373.16 L292.71 380.03 L292.91 385.91 L293.11 390.12 L293.32 392.00 L293.52 392.27 L293.72 391.75 L293.92 391.74 L294.12 391.78 L294.33 391.83 L294.53 391.85 L294.73 391.81 L294.93 391.76 L295.13 391.84 L295.34 391.91 L295.54 391.92 L295.74 391.91 L295.94 391.84 L296.14 391.97 L296.35 391.88 L296.55 391.88 L296.75 391.84 L296.95 391.88 L297.16 391.98 L297.36 391.90 L297.56 391.88 L297.76 391.82 L297.96 391.88 L298.17 391.87 L298.37 391.81 L298.57 391.74 L298.77 391.68 L298.97 391.79 L299.18 391.84 L299.38 391.93 L299.58 391.91 L299.78 391.87 L299.98 391.90 L300.19 391.87 L300.39 391.87 L300.59 391.75 L300.79 391.83 L300.99 391.92 L301.20 391.99 L301.40 391.84 L301.60 391.86 L301.80 391.80 L302.00 391.89 L302.21 391.83 L302.41 391.81 L302.61 391.87 L302.81 391.90 L303.01 392.02 L303.22 392.01 L303.42 392.02 L303.62 391.93 L303.82 391.86 L304.03 391.80" fill="none" stroke="#3f72e6" stroke-width="1.3" stroke-linejoin="round" stroke-linecap="round"/>
<path d="M211.48 393.99 L211.68 393.97 L211.89 393.95 L212.09 393.94 L212.29 393.79 L212.49 393.75 L212.69 393.69 L212.90 393.68 L213.10 393.67 L213.30 394.10 L213.50 394.06 L213.71 393.78 L213.91 393.73 L214.11 393.77 L214.31 393.79 L214.51 393.53 L214.72 393.50 L214.92 393.39 L215.12 393.53 L215.32 393.52 L215.52 393.54 L215.73 393.54 L215.93 393.61 L216.13 393.71 L216.33 393.46 L216.53 393.50 L216.74 393.68 L216.94 393.95 L217.14 393.96 L217.34 394.01 L217.54 393.73 L217.75 393.56 L217.95 393.51 L218.15 393.57 L218.35 393.67 L218.55 393.72 L218.76 393.67 L218.96 393.62 L219.16 393.53 L219.36 393.84 L219.56 394.05 L219.77 393.83 L219.97 393.66 L220.17 393.40 L220.37 393.68 L220.58 393.84 L220.78 394.05 L220.98 393.71 L221.18 393.68 L221.38 393.80 L221.59 393.85 L221.79 393.87 L221.99 393.60 L222.19 393.90 L222.39 393.83 L222.60 387.78 L222.80 375.34 L223.00 358.87 L223.20 346.05 L223.40 338.68 L223.61 335.25 L223.81 334.46 L224.01 334.09 L224.21 333.90 L224.41 333.63 L224.62 333.73 L224.82 333.72 L225.02 334.00 L225.22 334.05 L225.42 334.22 L225.63 334.13 L225.83 333.94 L226.03 333.96 L226.23 333.92 L226.43 334.11 L226.64 333.79 L226.84 333.63 L227.04 333.51 L227.24 333.72 L227.44 333.57 L227.65 333.34 L227.85 333.28 L228.05 333.43 L228.25 333.44 L228.46 333.51 L228.66 333.64 L228.86 333.96 L229.06 333.83 L229.26 333.58 L229.47 333.53 L229.67 333.54 L229.87 333.42 L230.07 333.25 L230.27 333.26 L230.48 333.31 L230.68 333.10 L230.88 333.08 L231.08 333.39 L231.28 333.49 L231.49 333.30 L231.69 332.91 L231.89 332.88 L232.09 333.06 L232.29 333.23 L232.50 333.38 L232.70 333.30 L232.90 333.30 L233.10 332.99 L233.30 332.76 L233.51 332.53 L233.71 332.71 L233.91 332.66 L234.11 333.00 L234.31 332.78 L234.52 332.91 L234.72 332.55 L234.92 332.77 L235.12 332.59 L235.33 332.96 L235.53 332.74 L235.73 332.79 L235.93 332.61 L236.13 332.60 L236.34 332.86 L236.54 332.68 L236.74 333.23 L236.94 334.41 L237.14 337.22 L237.35 340.83 L237.55 345.43 L237.75 350.96 L237.95 356.84 L238.15 363.29 L238.36 369.37 L238.56 375.60 L238.76 380.91 L238.96 385.42 L239.16 388.95 L239.37 391.47 L239.57 392.76 L239.77 393.34 L239.97 393.41 L240.17 393.38 L240.38 393.19 L240.58 393.04 L240.78 392.85 L240.98 392.95 L241.19 393.02 L241.39 393.30 L241.59 393.43 L241.79 393.17 L241.99 393.11 L242.20 392.95 L242.40 393.20 L242.60 393.37 L242.80 393.48 L243.00 393.46 L243.21 393.38 L243.41 393.08 L243.61 393.06 L243.81 393.18 L244.01 393.61 L244.22 393.80 L244.42 393.74 L244.62 393.41 L244.82 393.08 L245.02 393.14 L245.23 393.14 L245.43 393.35 L245.63 393.22 L245.83 393.33 L246.03 393.52 L246.24 393.74 L246.44 393.68 L246.64 393.38 L246.84 393.24 L247.04 393.13 L247.25 393.07 L247.45 393.11 L247.65 393.50 L247.85 393.63 L248.06 393.46 L248.26 393.39 L248.46 393.63 L248.66 393.71 L248.86 393.80 L249.07 393.48 L249.27 393.41 L249.47 393.30 L249.67 393.44 L249.87 393.62 L250.08 393.74 L250.28 386.58 L250.48 373.40 L250.68 356.34 L250.88 344.28 L251.09 337.79 L251.29 334.84 L251.49 334.34 L251.69 334.19 L251.89 334.37 L252.10 334.37 L252.30 334.58 L252.50 334.30 L252.70 334.24 L252.90 334.07 L253.11 334.21 L253.31 334.47 L253.51 334.55 L253.71 334.72 L253.91 334.37 L254.12 334.51 L254.32 334.40 L254.52 334.38 L254.72 334.01 L254.93 333.88 L255.13 334.13 L255.33 334.37 L255.53 334.37 L255.73 334.36 L255.94 334.12 L256.14 334.27 L256.34 334.05 L256.54 334.11 L256.74 333.88 L256.95 333.77 L257.15 333.85 L257.35 333.76 L257.55 334.20 L257.75 333.96 L257.96 334.39 L258.16 334.13 L258.36 334.35 L258.56 334.00 L258.76 334.09 L258.97 334.16 L259.17 334.15 L259.37 334.03 L259.57 333.77 L259.77 333.89 L259.98 334.12 L260.18 334.10 L260.38 334.21 L260.58 334.00 L260.78 334.35 L260.99 334.32 L261.19 334.22 L261.39 333.86 L261.59 333.67 L261.80 333.76 L262.00 333.77 L262.20 333.74 L262.40 333.84 L262.60 333.92 L262.81 333.94 L263.01 333.69 L263.21 333.84 L263.41 333.96 L263.61 334.23 L263.82 334.96 L264.02 336.65 L264.22 339.49 L264.42 343.38 L264.62 348.44 L264.83 354.05 L265.03 360.25 L265.23 366.12 L265.43 372.43 L265.63 378.14 L265.84 383.50 L266.04 387.64 L266.24 390.81 L266.44 392.26 L266.64 392.71 L266.85 392.67 L267.05 392.77 L267.25 392.91 L267.45 392.81 L267.65 393.07 L267.86 392.97 L268.06 392.81 L268.26 392.95 L268.46 393.25 L268.67 393.56 L268.87 393.49 L269.07 393.46 L269.27 393.21 L269.47 393.30 L269.68 393.12 L269.88 393.41 L270.08 393.42 L270.28 393.40 L270.48 393.43 L270.69 393.34 L270.89 393.71 L271.09 393.67 L271.29 393.72 L271.49 393.70 L271.70 393.76 L271.90 393.55 L272.10 393.43 L272.30 393.41 L272.50 393.44 L272.71 393.29 L272.91 393.10 L273.11 393.19 L273.31 393.12 L273.51 393.09 L273.72 392.99 L273.92 393.20 L274.12 393.41 L274.32 393.61 L274.52 393.43 L274.73 393.30 L274.93 393.32 L275.13 393.30 L275.33 393.17 L275.54 393.20 L275.74 393.31 L275.94 393.61 L276.14 393.38 L276.34 393.32 L276.55 393.27 L276.75 393.28 L276.95 393.36 L277.15 390.33 L277.35 380.42 L277.56 365.65 L277.76 350.22 L277.96 340.55 L278.16 335.41 L278.36 334.14 L278.57 333.94 L278.77 334.20 L278.97 334.13 L279.17 334.00 L279.37 333.96 L279.58 333.65 L279.78 333.83 L279.98 333.61 L280.18 333.56 L280.38 333.53 L280.59 333.70 L280.79 333.73 L280.99 333.56 L281.19 333.21 L281.39 333.39 L281.60 333.41 L281.80 333.38 L282.00 333.36 L282.20 333.09 L282.40 333.10 L282.61 333.15 L282.81 333.33 L283.01 333.29 L283.21 333.31 L283.42 333.16 L283.62 333.22 L283.82 332.91 L284.02 333.01 L284.22 333.30 L284.43 333.19 L284.63 333.41 L284.83 333.08 L285.03 333.17 L285.23 333.05 L285.44 333.08 L285.64 333.21 L285.84 333.00 L286.04 333.28 L286.24 333.02 L286.45 333.17 L286.65 332.81 L286.85 333.00 L287.05 332.79 L287.25 333.01 L287.46 332.96 L287.66 333.30 L287.86 333.20 L288.06 333.40 L288.26 333.00 L288.47 332.90 L288.67 332.72 L288.87 332.65 L289.07 332.51 L289.27 332.25 L289.48 332.65 L289.68 332.74 L289.88 332.83 L290.08 332.58 L290.29 332.88 L290.49 332.96 L290.69 333.90 L290.89 335.63 L291.09 338.99 L291.30 343.45 L291.50 348.93 L291.70 354.68 L291.90 360.82 L292.10 367.06 L292.31 373.52 L292.51 378.89 L292.71 383.63 L292.91 387.79 L293.11 391.24 L293.32 392.68 L293.52 392.94 L293.72 392.61 L293.92 392.96 L294.12 393.08 L294.33 392.91 L294.53 392.97 L294.73 392.97 L294.93 393.38 L295.13 392.92 L295.34 393.07 L295.54 392.65 L295.74 392.72 L295.94 392.44 L296.14 392.86 L296.35 392.92 L296.55 393.03 L296.75 392.83 L296.95 393.08 L297.16 393.07 L297.36 392.93 L297.56 392.93 L297.76 392.77 L297.96 392.94 L298.17 392.88 L298.37 393.17 L298.57 393.15 L298.77 392.98 L298.97 392.83 L299.18 392.63 L299.38 392.69 L299.58 392.72 L299.78 392.67 L299.98 392.81 L300.19 393.04 L300.39 393.34 L300.59 393.30 L300.79 393.25 L300.99 393.21 L301.20 393.33 L301.40 392.97 L301.60 392.94 L301.80 392.55 L302.00 392.65 L302.21 392.54 L302.41 392.59 L302.61 392.77 L302.81 392.78 L303.01 393.03 L303.22 392.91 L303.42 392.97 L303.62 392.71 L303.82 392.89 L304.03 392.95" fill="none" stroke="#46b964" stroke-width="1.3" stroke-linejoin="round" stroke-linecap="round"/>
<path d="M295.70 305.00H308.60" stroke="#666" stroke-width="1.8"/>
<text x="310.20" y="307.09" font-size="5.8" text-anchor="start" font-weight="bold" fill="#222" stroke="#222" stroke-width="0.18">Flat State</text>
<path d="M295.70 312.40H308.60" stroke="#e8323c" stroke-width="1.6"/>
<text x="311.80" y="314.49" font-size="5.8" text-anchor="start" font-weight="bold" fill="#222" stroke="#222" stroke-width="0.18">5%</text>
<path d="M295.70 319.50H308.60" stroke="#3f72e6" stroke-width="1.8"/>
<text x="311.80" y="321.59" font-size="5.8" text-anchor="start" font-weight="bold" fill="#222" stroke="#222" stroke-width="0.18">20%</text>
<path d="M295.70 326.70H308.60" stroke="#46b964" stroke-width="1.6"/>
<text x="311.80" y="328.79" font-size="5.8" text-anchor="start" font-weight="bold" fill="#222" stroke="#222" stroke-width="0.18">30%</text>
<rect x="374.50" y="297.40" width="136.90" height="100.60" fill="none" stroke="#7a7a7a" stroke-width="1"/>
<path d="M374.50 297.40v2.2M388.19 297.40v2.2M401.88 297.40v2.2M415.57 297.40v2.2M429.26 297.40v2.2M442.95 297.40v2.2M456.64 297.40v2.2M470.33 297.40v2.2M484.02 297.40v2.2M497.71 297.40v2.2M511.40 297.40v2.2M381.35 297.40v1.2M395.03 297.40v1.2M408.73 297.40v1.2M422.41 297.40v1.2M436.11 297.40v1.2M449.79 297.40v1.2M463.49 297.40v1.2M477.17 297.40v1.2M490.87 297.40v1.2M504.55 297.40v1.2M374.50 398.00h2.2M511.40 398.00h-2.2M374.50 386.16h2.2M511.40 386.16h-2.2M374.50 374.33h2.2M511.40 374.33h-2.2M374.50 362.49h2.2M511.40 362.49h-2.2M374.50 350.66h2.2M511.40 350.66h-2.2M374.50 338.82h2.2M511.40 338.82h-2.2M374.50 326.99h2.2M511.40 326.99h-2.2M374.50 315.15h2.2M511.40 315.15h-2.2M374.50 303.32h2.2M511.40 303.32h-2.2M374.50 392.08h1.2M511.40 392.08h-1.2M374.50 380.25h1.2M511.40 380.25h-1.2M374.50 368.41h1.2M511.40 368.41h-1.2M374.50 356.58h1.2M511.40 356.58h-1.2M374.50 344.74h1.2M511.40 344.74h-1.2M374.50 332.91h1.2M511.40 332.91h-1.2M374.50 321.07h1.2M511.40 321.07h-1.2M374.50 309.24h1.2M511.40 309.24h-1.2" stroke="#444" stroke-width="0.9" fill="none"/>
<text x="374.50" y="404.90" font-size="6.1" text-anchor="middle" font-weight="bold" fill="#222" stroke="#222" stroke-width="0.18">0</text>
<text x="388.19" y="404.90" font-size="6.1" text-anchor="middle" font-weight="bold" fill="#222" stroke="#222" stroke-width="0.18">5</text>
<text x="401.88" y="404.90" font-size="6.1" text-anchor="middle" font-weight="bold" fill="#222" stroke="#222" stroke-width="0.18">10</text>
<text x="415.57" y="404.90" font-size="6.1" text-anchor="middle" font-weight="bold" fill="#222" stroke="#222" stroke-width="0.18">15</text>
<text x="429.26" y="404.90" font-size="6.1" text-anchor="middle" font-weight="bold" fill="#222" stroke="#222" stroke-width="0.18">20</text>
<text x="442.95" y="404.90" font-size="6.1" text-anchor="middle" font-weight="bold" fill="#222" stroke="#222" stroke-width="0.18">25</text>
<text x="456.64" y="404.90" font-size="6.1" text-anchor="middle" font-weight="bold" fill="#222" stroke="#222" stroke-width="0.18">30</text>
<text x="470.33" y="404.90" font-size="6.1" text-anchor="middle" font-weight="bold" fill="#222" stroke="#222" stroke-width="0.18">35</text>
<text x="484.02" y="404.90" font-size="6.1" text-anchor="middle" font-weight="bold" fill="#222" stroke="#222" stroke-width="0.18">40</text>
<text x="497.71" y="404.90" font-size="6.1" text-anchor="middle" font-weight="bold" fill="#222" stroke="#222" stroke-width="0.18">45</text>
<text x="511.40" y="404.90" font-size="6.1" text-anchor="middle" font-weight="bold" fill="#222" stroke="#222" stroke-width="0.18">50</text>
<text x="371.90" y="400.23" font-size="6.2" text-anchor="end" font-weight="bold" fill="#222" stroke="#222" stroke-width="0.18">0</text>
<text x="371.90" y="388.40" font-size="6.2" text-anchor="end" font-weight="bold" fill="#222" stroke="#222" stroke-width="0.18">20</text>
<text x="371.90" y="376.56" font-size="6.2" text-anchor="end" font-weight="bold" fill="#222" stroke="#222" stroke-width="0.18">40</text>
<text x="371.90" y="364.73" font-size="6.2" text-anchor="end" font-weight="bold" fill="#222" stroke="#222" stroke-width="0.18">60</text>
<text x="371.90" y="352.89" font-size="6.2" text-anchor="end" font-weight="bold" fill="#222" stroke="#222" stroke-width="0.18">80</text>
<text x="371.90" y="341.06" font-size="6.2" text-anchor="end" font-weight="bold" fill="#222" stroke="#222" stroke-width="0.18">100</text>
<text x="371.90" y="329.22" font-size="6.2" text-anchor="end" font-weight="bold" fill="#222" stroke="#222" stroke-width="0.18">120</text>
<text x="371.90" y="317.38" font-size="6.2" text-anchor="end" font-weight="bold" fill="#222" stroke="#222" stroke-width="0.18">140</text>
<text x="371.90" y="305.55" font-size="6.2" text-anchor="end" font-weight="bold" fill="#222" stroke="#222" stroke-width="0.18">160</text>
<path d="M374.5 398.1H511.4" stroke="#b4b4b4" stroke-width="2"/>
<text x="345.70" y="294.90" font-size="13.1" text-anchor="start" font-weight="bold" fill="#111" stroke="#111" stroke-width="0" textLength="16.85" lengthAdjust="spacingAndGlyphs">(k)</text>
<text x="354.30" y="347.40" font-size="7.6" text-anchor="middle" font-weight="bold" fill="#222" stroke="#222" stroke-width="0.18" transform="rotate(-90 354.30 347.40)" textLength="61.2" lengthAdjust="spacingAndGlyphs">Capacitance (pF)</text>
<text x="443.00" y="416.30" font-size="6.4" text-anchor="middle" font-weight="bold" fill="#222" stroke="#222" stroke-width="0.18" textLength="29.8" lengthAdjust="spacingAndGlyphs">Strain (%)</text>
<path d="M375.00 302.72 L376.00 302.76 L377.00 302.55 L378.00 302.44 L379.00 302.41 L380.00 302.86 L380.80 302.72 L381.60 302.95 L382.40 302.88 L383.20 302.75 L384.00 302.74 L384.80 302.75 L385.60 302.91 L386.40 303.23 L387.20 303.23 L388.00 303.38 L388.80 303.26 L389.60 303.14 L390.40 303.19 L391.20 303.02 L392.00 302.71 L392.80 302.85 L393.60 302.84 L394.40 302.84 L395.20 302.89 L396.00 302.78 L396.80 302.79 L397.60 302.79 L398.40 302.76 L399.20 303.05 L400.00 302.60 L400.80 302.56 L401.60 302.91 L402.40 302.75 L403.20 302.77 L404.00 302.85 L404.80 302.73 L405.60 302.67 L406.40 302.56 L407.20 302.99 L408.00 303.02 L408.80 302.69 L409.60 302.78 L410.40 302.71 L411.20 302.58 L412.00 303.00 L412.80 302.97 L413.60 302.67 L414.40 302.68 L415.20 302.90 L416.00 302.95 L416.80 302.78 L417.60 302.74 L418.40 302.67 L419.20 302.95 L420.00 302.98 L420.80 302.97 L421.60 302.60 L422.40 302.83 L423.20 303.03 L424.00 302.89 L424.80 302.76 L425.60 302.59 L426.40 302.55 L427.20 302.88 L428.00 302.54 L428.80 302.91 L429.60 302.83 L430.40 302.73 L431.20 302.94 L432.00 302.96 L432.80 302.79 L433.60 302.53 L434.40 302.77 L435.20 302.68 L436.00 302.59 L436.80 302.93 L437.60 302.83 L438.40 302.52 L439.20 302.57 L440.00 302.62 L440.83 302.73 L441.67 302.60 L442.50 302.65 L443.33 302.83 L444.17 302.51 L445.00 302.77 L445.83 302.57 L446.67 302.87 L447.50 302.87 L448.33 302.55 L449.17 302.68 L450.00 302.43 L450.83 302.57 L451.67 302.67 L452.50 302.60 L453.45 303.53 L454.40 304.45 L455.35 305.38 L456.30 306.30 L457.23 306.93 L458.15 307.55 L459.07 308.18 L460.00 308.80 L460.83 309.33 L461.67 309.87 L462.50 310.40 L463.33 310.93 L464.17 311.47 L465.00 312.00 L466.00 313.00 L467.00 314.00 L468.00 315.00 L468.82 315.95 L469.65 316.90 L470.48 317.85 L471.30 318.80 L472.50 320.00 L473.30 385.00 L474.15 386.38 L475.00 387.45 L475.83 387.82 L476.67 388.11 L477.50 388.64 L478.33 389.03 L479.17 389.13 L480.00 389.71 L480.83 389.48 L481.67 389.96 L482.50 389.84 L483.33 390.02 L484.17 389.98 L485.00 390.04 L485.83 390.08 L486.67 390.56 L487.50 390.40 L488.33 390.68 L489.17 390.67 L490.00 390.81 L490.83 390.75 L491.67 390.84 L492.50 391.02 L493.33 391.29 L494.17 391.32 L495.00 391.15 L495.83 391.61 L496.67 391.57 L497.50 391.48 L498.33 391.68 L499.17 391.76 L500.00 392.16 L500.81 392.06 L501.61 391.98 L502.42 391.98 L503.23 392.04 L504.04 392.07 L504.84 392.14 L505.65 392.40 L506.46 392.43 L507.26 392.42 L508.07 392.55 L508.88 392.47 L509.69 392.24 L510.49 392.24 L511.30 392.50" fill="none" stroke="#222" stroke-width="1.1" stroke-linejoin="round"/>
<rect x="543.30" y="297.40" width="137.40" height="100.00" fill="none" stroke="#7a7a7a" stroke-width="1"/>
<path d="M543.30 297.40v2.2M554.75 297.40v2.2M566.20 297.40v2.2M577.65 297.40v2.2M589.10 297.40v2.2M600.55 297.40v2.2M612.00 297.40v2.2M623.45 297.40v2.2M634.90 297.40v2.2M646.35 297.40v2.2M657.80 297.40v2.2M669.25 297.40v2.2M680.70 297.40v2.2M549.02 297.40v1.2M560.47 297.40v1.2M571.92 297.40v1.2M583.38 297.40v1.2M594.83 297.40v1.2M606.27 297.40v1.2M617.73 297.40v1.2M629.17 297.40v1.2M640.62 297.40v1.2M652.08 297.40v1.2M663.53 297.40v1.2M674.98 297.40v1.2M543.30 397.40h2.2M680.70 397.40h-2.2M543.30 374.14h2.2M680.70 374.14h-2.2M543.30 350.89h2.2M680.70 350.89h-2.2M543.30 327.63h2.2M680.70 327.63h-2.2M543.30 304.38h2.2M680.70 304.38h-2.2M543.30 385.77h1.2M680.70 385.77h-1.2M543.30 362.52h1.2M680.70 362.52h-1.2M543.30 339.26h1.2M680.70 339.26h-1.2M543.30 316.00h1.2M680.70 316.00h-1.2" stroke="#444" stroke-width="0.9" fill="none"/>
<text x="543.30" y="404.90" font-size="6.1" text-anchor="middle" font-weight="bold" fill="#222" stroke="#222" stroke-width="0.18">0</text>
<text x="554.75" y="404.90" font-size="6.1" text-anchor="middle" font-weight="bold" fill="#222" stroke="#222" stroke-width="0.18">5</text>
<text x="566.20" y="404.90" font-size="6.1" text-anchor="middle" font-weight="bold" fill="#222" stroke="#222" stroke-width="0.18">10</text>
<text x="577.65" y="404.90" font-size="6.1" text-anchor="middle" font-weight="bold" fill="#222" stroke="#222" stroke-width="0.18">15</text>
<text x="589.10" y="404.90" font-size="6.1" text-anchor="middle" font-weight="bold" fill="#222" stroke="#222" stroke-width="0.18">20</text>
<text x="600.55" y="404.90" font-size="6.1" text-anchor="middle" font-weight="bold" fill="#222" stroke="#222" stroke-width="0.18">25</text>
<text x="612.00" y="404.90" font-size="6.1" text-anchor="middle" font-weight="bold" fill="#222" stroke="#222" stroke-width="0.18">30</text>
<text x="623.45" y="404.90" font-size="6.1" text-anchor="middle" font-weight="bold" fill="#222" stroke="#222" stroke-width="0.18">35</text>
<text x="634.90" y="404.90" font-size="6.1" text-anchor="middle" font-weight="bold" fill="#222" stroke="#222" stroke-width="0.18">40</text>
<text x="646.35" y="404.90" font-size="6.1" text-anchor="middle" font-weight="bold" fill="#222" stroke="#222" stroke-width="0.18">45</text>
<text x="657.80" y="404.90" font-size="6.1" text-anchor="middle" font-weight="bold" fill="#222" stroke="#222" stroke-width="0.18">50</text>
<text x="669.25" y="404.90" font-size="6.1" text-anchor="middle" font-weight="bold" fill="#222" stroke="#222" stroke-width="0.18">55</text>
<text x="680.70" y="404.90" font-size="6.1" text-anchor="middle" font-weight="bold" fill="#222" stroke="#222" stroke-width="0.18">60</text>
<text x="541.00" y="399.47" font-size="5.75" text-anchor="end" font-weight="bold" fill="#222" stroke="#222" stroke-width="0.18">0</text>
<text x="541.00" y="376.21" font-size="5.75" text-anchor="end" font-weight="bold" fill="#222" stroke="#222" stroke-width="0.18">100</text>
<text x="541.00" y="352.96" font-size="5.75" text-anchor="end" font-weight="bold" fill="#222" stroke="#222" stroke-width="0.18">200</text>
<text x="541.00" y="329.70" font-size="5.75" text-anchor="end" font-weight="bold" fill="#222" stroke="#222" stroke-width="0.18">300</text>
<text x="541.00" y="306.45" font-size="5.75" text-anchor="end" font-weight="bold" fill="#222" stroke="#222" stroke-width="0.18">400</text>
<path d="M543.3 397.5H680.7" stroke="#b4b4b4" stroke-width="1.8"/>
<text x="511.15" y="295.30" font-size="13.1" text-anchor="start" font-weight="bold" fill="#111" stroke="#111" stroke-width="0" textLength="12.5" lengthAdjust="spacingAndGlyphs">(l)</text>
<text x="523.50" y="347.10" font-size="8.1" text-anchor="middle" font-weight="bold" fill="#222" stroke="#222" stroke-width="0.18" transform="rotate(-90 523.50 347.10)" textLength="56.8" lengthAdjust="spacingAndGlyphs">Resistance (Ω)</text>
<text x="612.00" y="415.80" font-size="6.45" text-anchor="middle" font-weight="bold" fill="#222" stroke="#222" stroke-width="0.18" textLength="30.1" lengthAdjust="spacingAndGlyphs">Strain (%)</text>
<path d="M543.30 396.70 L556.00 396.70 L560.00 396.30 L563.30 395.50 L570.00 395.50 L574.20 392.00 L577.50 392.30 L581.70 395.00 L585.00 392.00 L589.20 393.30 L592.50 393.00 L596.70 390.30 L600.80 393.70 L604.20 392.00 L609.20 388.00 L612.50 386.70 L619.20 384.30 L623.30 384.30 L627.50 380.00 L631.30 375.00 L635.00 377.50 L639.20 370.00 L643.30 365.80 L646.70 356.70 L650.80 342.50 L654.50 336.00 L656.00 328.00 L658.10 303.60" fill="none" stroke="#222" stroke-width="1.1" stroke-linejoin="round"/>
</svg>
</body></html>
